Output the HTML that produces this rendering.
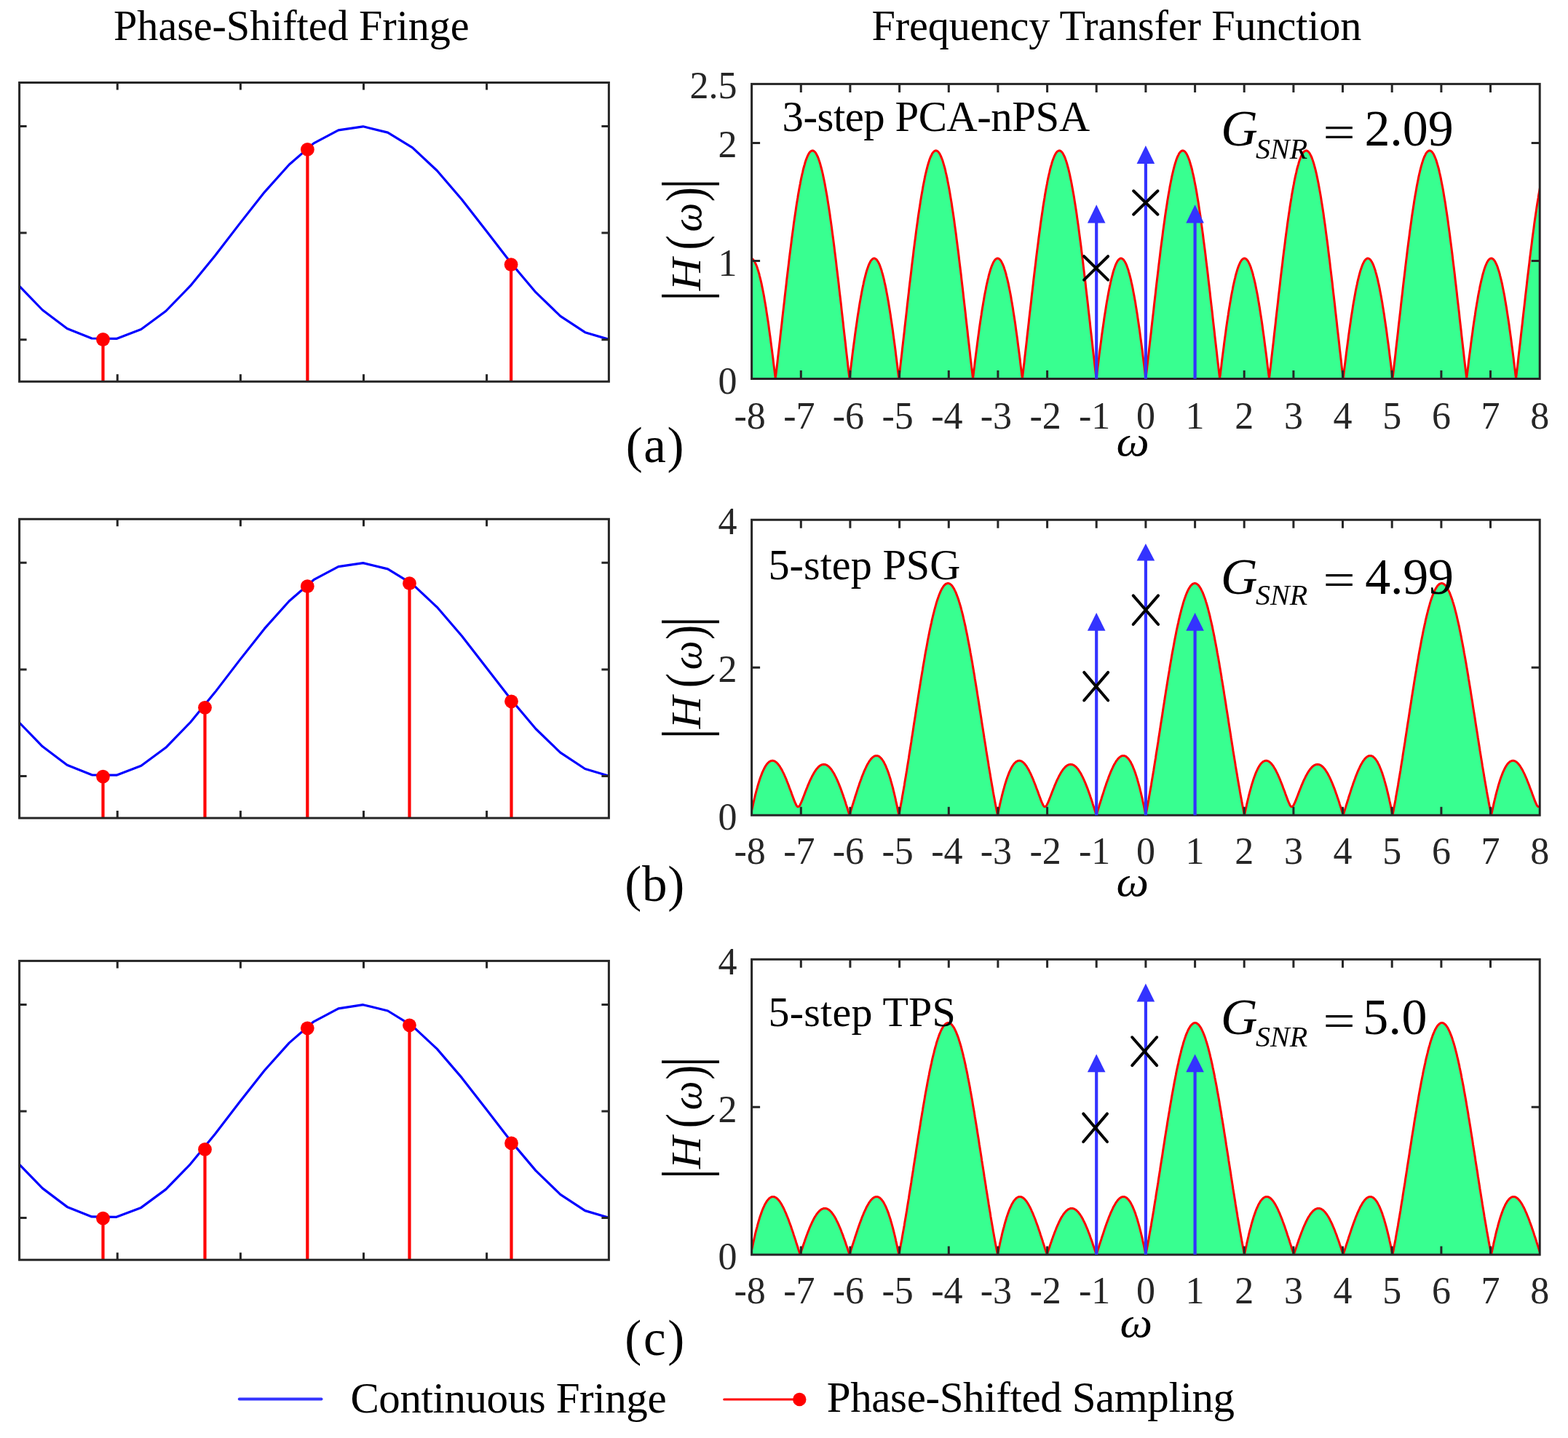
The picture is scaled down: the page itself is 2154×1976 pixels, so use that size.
<!DOCTYPE html>
<html><head><meta charset="utf-8"><title>Phase-Shifted Fringe and Frequency Transfer Function</title>
<style>
html,body{margin:0;padding:0;background:#fff;}
body{width:2154px;height:1976px;overflow:hidden;}
svg{display:block;}
.t{font-family:'Liberation Serif','Times New Roman',serif;fill:#000;}
.tl{font-family:'Liberation Serif','Times New Roman',serif;fill:#262626;font-size:52px;}
</style></head><body>
<svg width="2154" height="1976" viewBox="0 0 2154 1976">
<rect width="2154" height="1976" fill="#fff"/>
<text id="t1" x="156" y="55" font-size="58.3" class="t" textLength="488.709" lengthAdjust="spacing">Phase-Shifted Fringe</text>
<text id="t2" x="1197.4" y="54.9" font-size="58.3" class="t" textLength="673.028" lengthAdjust="spacing">Frequency Transfer Function</text>
<polyline points="26.6,393.2 58.4,426 92.2,451.5 126.1,465 160,465.4 193.9,452.5 227.8,427.5 261.6,392.7 295.5,351.3 329.4,307.1 363.3,264.1 397.2,226.2 431,196.9 464.9,178.9 498.8,173.8 532.7,182.1 566.6,202.9 600.4,234.5 634.3,274 668.2,317.6 702.1,361.5 736,401.7 769.8,434.4 803.7,456.7 836.4,466.4" fill="none" stroke="#0000ff" stroke-width="3.2" stroke-linejoin="round"/>
<line x1="141.5" y1="466.5" x2="141.5" y2="524.3" stroke="#ff0000" stroke-width="4.2"/>
<circle cx="141.5" cy="466.5" r="9.4" fill="#ff0000"/>
<line x1="422.4" y1="205.4" x2="422.4" y2="524.3" stroke="#ff0000" stroke-width="4.2"/>
<circle cx="422.4" cy="205.4" r="9.4" fill="#ff0000"/>
<line x1="702.1" y1="363.6" x2="702.1" y2="524.3" stroke="#ff0000" stroke-width="4.2"/>
<circle cx="702.1" cy="363.6" r="9.4" fill="#ff0000"/>
<rect x="26.6" y="113.5" width="809.8" height="410.8" fill="none" stroke="#262626" stroke-width="3"/>
<path d="M161.3,113.5v10M161.3,524.3v-10M330.4,113.5v10M330.4,524.3v-10M499.5,113.5v10M499.5,524.3v-10M668.6,113.5v10M668.6,524.3v-10M26.6,173.5h10M836.4,173.5h-10M26.6,320.1h10M836.4,320.1h-10M26.6,466.7h10M836.4,466.7h-10" stroke="#262626" stroke-width="3" fill="none"/>
<polyline points="26.6,993 58.4,1025.8 92.2,1051.3 126.1,1064.8 160,1065.2 193.9,1052.3 227.8,1027.3 261.6,992.5 295.5,951.1 329.4,906.9 363.3,863.9 397.2,826 431,796.7 464.9,778.7 498.8,773.6 532.7,781.9 566.6,802.7 600.4,834.3 634.3,873.8 668.2,917.4 702.1,961.3 736,1001.5 769.8,1034.2 803.7,1056.5 836.4,1066.2" fill="none" stroke="#0000ff" stroke-width="3.2" stroke-linejoin="round"/>
<line x1="141.5" y1="1067.1" x2="141.5" y2="1124.1" stroke="#ff0000" stroke-width="4.2"/>
<circle cx="141.5" cy="1067.1" r="9.4" fill="#ff0000"/>
<line x1="281.5" y1="972.3" x2="281.5" y2="1124.1" stroke="#ff0000" stroke-width="4.2"/>
<circle cx="281.5" cy="972.3" r="9.4" fill="#ff0000"/>
<line x1="422.3" y1="805.7" x2="422.3" y2="1124.1" stroke="#ff0000" stroke-width="4.2"/>
<circle cx="422.3" cy="805.7" r="9.4" fill="#ff0000"/>
<line x1="562.5" y1="801.7" x2="562.5" y2="1124.1" stroke="#ff0000" stroke-width="4.2"/>
<circle cx="562.5" cy="801.7" r="9.4" fill="#ff0000"/>
<line x1="702.5" y1="963.8" x2="702.5" y2="1124.1" stroke="#ff0000" stroke-width="4.2"/>
<circle cx="702.5" cy="963.8" r="9.4" fill="#ff0000"/>
<rect x="26.6" y="713.3" width="809.8" height="410.8" fill="none" stroke="#262626" stroke-width="3"/>
<path d="M161.3,713.3v10M161.3,1124.1v-10M330.4,713.3v10M330.4,1124.1v-10M499.5,713.3v10M499.5,1124.1v-10M668.6,713.3v10M668.6,1124.1v-10M26.6,773.3h10M836.4,773.3h-10M26.6,919.9h10M836.4,919.9h-10M26.6,1066.5h10M836.4,1066.5h-10" stroke="#262626" stroke-width="3" fill="none"/>
<polyline points="26.6,1600.1 58.4,1632.9 92.2,1658.4 126.1,1671.9 160,1672.3 193.9,1659.4 227.8,1634.4 261.6,1599.6 295.5,1558.2 329.4,1514 363.3,1471 397.2,1433.1 431,1403.8 464.9,1385.8 498.8,1380.7 532.7,1389 566.6,1409.8 600.4,1441.4 634.3,1480.9 668.2,1524.5 702.1,1568.4 736,1608.6 769.8,1641.3 803.7,1663.6 836.4,1673.3" fill="none" stroke="#0000ff" stroke-width="3.2" stroke-linejoin="round"/>
<line x1="141.5" y1="1674.2" x2="141.5" y2="1731.2" stroke="#ff0000" stroke-width="4.2"/>
<circle cx="141.5" cy="1674.2" r="9.4" fill="#ff0000"/>
<line x1="281.5" y1="1579.4" x2="281.5" y2="1731.2" stroke="#ff0000" stroke-width="4.2"/>
<circle cx="281.5" cy="1579.4" r="9.4" fill="#ff0000"/>
<line x1="422.3" y1="1412.8" x2="422.3" y2="1731.2" stroke="#ff0000" stroke-width="4.2"/>
<circle cx="422.3" cy="1412.8" r="9.4" fill="#ff0000"/>
<line x1="562.5" y1="1408.8" x2="562.5" y2="1731.2" stroke="#ff0000" stroke-width="4.2"/>
<circle cx="562.5" cy="1408.8" r="9.4" fill="#ff0000"/>
<line x1="702.5" y1="1570.9" x2="702.5" y2="1731.2" stroke="#ff0000" stroke-width="4.2"/>
<circle cx="702.5" cy="1570.9" r="9.4" fill="#ff0000"/>
<rect x="26.6" y="1320.4" width="809.8" height="410.8" fill="none" stroke="#262626" stroke-width="3"/>
<path d="M161.3,1320.4v10M161.3,1731.2v-10M330.4,1320.4v10M330.4,1731.2v-10M499.5,1320.4v10M499.5,1731.2v-10M668.6,1320.4v10M668.6,1731.2v-10M26.6,1380.4h10M836.4,1380.4h-10M26.6,1527h10M836.4,1527h-10M26.6,1673.6h10M836.4,1673.6h-10" stroke="#262626" stroke-width="3" fill="none"/>
<defs><clipPath id="clp0"><rect x="1032.6" y="115.4" width="1082.6" height="405.1"/></clipPath></defs>
<g clip-path="url(#clp0)">
<polygon points="1031.3,520.5 1031.3,355 1032,355.1 1032.7,355.3 1033.4,355.7 1034.1,356.2 1034.7,356.9 1035.4,357.7 1036.1,358.7 1036.8,359.8 1037.4,361.1 1038.1,362.5 1038.8,364.1 1039.5,365.8 1040.2,367.7 1040.8,369.7 1041.5,371.8 1042.2,374.1 1042.9,376.5 1043.5,379.1 1044.2,381.8 1044.9,384.6 1045.6,387.6 1046.3,390.7 1046.9,393.9 1047.6,397.3 1048.3,400.7 1049,404.3 1049.7,408.1 1050.3,411.9 1051,415.8 1051.7,419.9 1052.4,424.1 1053,428.4 1053.7,432.8 1054.4,437.2 1055.1,441.8 1055.8,446.5 1056.4,451.3 1057.1,456.2 1057.8,461.1 1058.5,466.2 1059.1,471.3 1059.8,476.5 1060.5,481.8 1061.2,487.1 1061.9,492.5 1062.5,498 1063.2,503.6 1063.9,509.1 1064.6,514.8 1065.2,520.5 1065.9,514.8 1066.6,509 1067.3,503.1 1068,497.3 1068.6,491.4 1069.3,485.4 1070,479.5 1070.7,473.5 1071.4,467.5 1072,461.5 1072.7,455.5 1073.4,449.5 1074.1,443.5 1074.7,437.5 1075.4,431.4 1076.1,425.4 1076.8,419.4 1077.5,413.5 1078.1,407.5 1078.8,401.6 1079.5,395.7 1080.2,389.8 1080.8,384 1081.5,378.2 1082.2,372.5 1082.9,366.8 1083.6,361.1 1084.2,355.5 1084.9,350 1085.6,344.5 1086.3,339.1 1087,333.7 1087.6,328.5 1088.3,323.3 1089,318.1 1089.7,313.1 1090.3,308.1 1091,303.3 1091.7,298.5 1092.4,293.8 1093.1,289.2 1093.7,284.7 1094.4,280.3 1095.1,276 1095.8,271.9 1096.4,267.8 1097.1,263.9 1097.8,260 1098.5,256.3 1099.2,252.7 1099.8,249.2 1100.5,245.9 1101.2,242.6 1101.9,239.5 1102.6,236.6 1103.2,233.7 1103.9,231 1104.6,228.5 1105.3,226.1 1105.9,223.8 1106.6,221.6 1107.3,219.6 1108,217.8 1108.7,216 1109.3,214.5 1110,213.1 1110.7,211.8 1111.4,210.6 1112,209.7 1112.7,208.8 1113.4,208.2 1114.1,207.6 1114.8,207.3 1115.4,207 1116.1,207 1116.8,207 1117.5,207.3 1118.1,207.6 1118.8,208.2 1119.5,208.8 1120.2,209.7 1120.9,210.6 1121.5,211.8 1122.2,213.1 1122.9,214.5 1123.6,216 1124.3,217.8 1124.9,219.6 1125.6,221.6 1126.3,223.8 1127,226.1 1127.6,228.5 1128.3,231 1129,233.7 1129.7,236.6 1130.4,239.5 1131,242.6 1131.7,245.9 1132.4,249.2 1133.1,252.7 1133.7,256.3 1134.4,260 1135.1,263.9 1135.8,267.8 1136.5,271.9 1137.1,276 1137.8,280.3 1138.5,284.7 1139.2,289.2 1139.9,293.8 1140.5,298.5 1141.2,303.3 1141.9,308.1 1142.6,313.1 1143.2,318.1 1143.9,323.3 1144.6,328.5 1145.3,333.7 1146,339.1 1146.6,344.5 1147.3,350 1148,355.5 1148.7,361.1 1149.3,366.8 1150,372.5 1150.7,378.2 1151.4,384 1152.1,389.8 1152.7,395.7 1153.4,401.6 1154.1,407.5 1154.8,413.5 1155.5,419.4 1156.1,425.4 1156.8,431.4 1157.5,437.5 1158.2,443.5 1158.8,449.5 1159.5,455.5 1160.2,461.5 1160.9,467.5 1161.6,473.5 1162.2,479.5 1162.9,485.4 1163.6,491.4 1164.3,497.3 1164.9,503.1 1165.6,509 1166.3,514.8 1167,520.5 1167.7,514.8 1168.3,509.1 1169,503.6 1169.7,498 1170.4,492.5 1171,487.1 1171.7,481.8 1172.4,476.5 1173.1,471.3 1173.8,466.2 1174.4,461.1 1175.1,456.2 1175.8,451.3 1176.5,446.5 1177.2,441.8 1177.8,437.2 1178.5,432.8 1179.2,428.4 1179.9,424.1 1180.5,419.9 1181.2,415.8 1181.9,411.9 1182.6,408.1 1183.3,404.3 1183.9,400.7 1184.6,397.3 1185.3,393.9 1186,390.7 1186.6,387.6 1187.3,384.6 1188,381.8 1188.7,379.1 1189.4,376.5 1190,374.1 1190.7,371.8 1191.4,369.7 1192.1,367.7 1192.8,365.8 1193.4,364.1 1194.1,362.5 1194.8,361.1 1195.5,359.8 1196.1,358.7 1196.8,357.7 1197.5,356.9 1198.2,356.2 1198.9,355.7 1199.5,355.3 1200.2,355.1 1200.9,355 1201.6,355.1 1202.2,355.3 1202.9,355.7 1203.6,356.2 1204.3,356.9 1205,357.7 1205.6,358.7 1206.3,359.8 1207,361.1 1207.7,362.5 1208.4,364.1 1209,365.8 1209.7,367.7 1210.4,369.7 1211.1,371.8 1211.7,374.1 1212.4,376.5 1213.1,379.1 1213.8,381.8 1214.5,384.6 1215.1,387.6 1215.8,390.7 1216.5,393.9 1217.2,397.3 1217.8,400.7 1218.5,404.3 1219.2,408.1 1219.9,411.9 1220.6,415.8 1221.2,419.9 1221.9,424.1 1222.6,428.4 1223.3,432.8 1223.9,437.2 1224.6,441.8 1225.3,446.5 1226,451.3 1226.7,456.2 1227.3,461.1 1228,466.2 1228.7,471.3 1229.4,476.5 1230.1,481.8 1230.7,487.1 1231.4,492.5 1232.1,498 1232.8,503.6 1233.4,509.1 1234.1,514.8 1234.8,520.5 1235.5,514.8 1236.2,509 1236.8,503.1 1237.5,497.3 1238.2,491.4 1238.9,485.4 1239.5,479.5 1240.2,473.5 1240.9,467.5 1241.6,461.5 1242.3,455.5 1242.9,449.5 1243.6,443.5 1244.3,437.5 1245,431.4 1245.7,425.4 1246.3,419.4 1247,413.5 1247.7,407.5 1248.4,401.6 1249,395.7 1249.7,389.8 1250.4,384 1251.1,378.2 1251.8,372.5 1252.4,366.8 1253.1,361.1 1253.8,355.5 1254.5,350 1255.1,344.5 1255.8,339.1 1256.5,333.7 1257.2,328.5 1257.9,323.3 1258.5,318.1 1259.2,313.1 1259.9,308.1 1260.6,303.3 1261.2,298.5 1261.9,293.8 1262.6,289.2 1263.3,284.7 1264,280.3 1264.6,276 1265.3,271.9 1266,267.8 1266.7,263.9 1267.4,260 1268,256.3 1268.7,252.7 1269.4,249.2 1270.1,245.9 1270.7,242.6 1271.4,239.5 1272.1,236.6 1272.8,233.7 1273.5,231 1274.1,228.5 1274.8,226.1 1275.5,223.8 1276.2,221.6 1276.8,219.6 1277.5,217.8 1278.2,216 1278.9,214.5 1279.6,213.1 1280.2,211.8 1280.9,210.6 1281.6,209.7 1282.3,208.8 1283,208.2 1283.6,207.6 1284.3,207.3 1285,207 1285.7,207 1286.3,207 1287,207.3 1287.7,207.6 1288.4,208.2 1289.1,208.8 1289.7,209.7 1290.4,210.6 1291.1,211.8 1291.8,213.1 1292.4,214.5 1293.1,216 1293.8,217.8 1294.5,219.6 1295.2,221.6 1295.8,223.8 1296.5,226.1 1297.2,228.5 1297.9,231 1298.6,233.7 1299.2,236.6 1299.9,239.5 1300.6,242.6 1301.3,245.9 1301.9,249.2 1302.6,252.7 1303.3,256.3 1304,260 1304.7,263.9 1305.3,267.8 1306,271.9 1306.7,276 1307.4,280.3 1308,284.7 1308.7,289.2 1309.4,293.8 1310.1,298.5 1310.8,303.3 1311.4,308.1 1312.1,313.1 1312.8,318.1 1313.5,323.3 1314.1,328.5 1314.8,333.7 1315.5,339.1 1316.2,344.5 1316.9,350 1317.5,355.5 1318.2,361.1 1318.9,366.8 1319.6,372.5 1320.3,378.2 1320.9,384 1321.6,389.8 1322.3,395.7 1323,401.6 1323.6,407.5 1324.3,413.5 1325,419.4 1325.7,425.4 1326.4,431.4 1327,437.5 1327.7,443.5 1328.4,449.5 1329.1,455.5 1329.7,461.5 1330.4,467.5 1331.1,473.5 1331.8,479.5 1332.5,485.4 1333.1,491.4 1333.8,497.3 1334.5,503.1 1335.2,509 1335.9,514.8 1336.5,520.5 1337.2,514.8 1337.9,509.1 1338.6,503.6 1339.2,498 1339.9,492.5 1340.6,487.1 1341.3,481.8 1342,476.5 1342.6,471.3 1343.3,466.2 1344,461.1 1344.7,456.2 1345.3,451.3 1346,446.5 1346.7,441.8 1347.4,437.2 1348.1,432.8 1348.7,428.4 1349.4,424.1 1350.1,419.9 1350.8,415.8 1351.5,411.9 1352.1,408.1 1352.8,404.3 1353.5,400.7 1354.2,397.3 1354.8,393.9 1355.5,390.7 1356.2,387.6 1356.9,384.6 1357.6,381.8 1358.2,379.1 1358.9,376.5 1359.6,374.1 1360.3,371.8 1360.9,369.7 1361.6,367.7 1362.3,365.8 1363,364.1 1363.7,362.5 1364.3,361.1 1365,359.8 1365.7,358.7 1366.4,357.7 1367,356.9 1367.7,356.2 1368.4,355.7 1369.1,355.3 1369.8,355.1 1370.4,355 1371.1,355.1 1371.8,355.3 1372.5,355.7 1373.2,356.2 1373.8,356.9 1374.5,357.7 1375.2,358.7 1375.9,359.8 1376.5,361.1 1377.2,362.5 1377.9,364.1 1378.6,365.8 1379.3,367.7 1379.9,369.7 1380.6,371.8 1381.3,374.1 1382,376.5 1382.6,379.1 1383.3,381.8 1384,384.6 1384.7,387.6 1385.4,390.7 1386,393.9 1386.7,397.3 1387.4,400.7 1388.1,404.3 1388.8,408.1 1389.4,411.9 1390.1,415.8 1390.8,419.9 1391.5,424.1 1392.1,428.4 1392.8,432.8 1393.5,437.2 1394.2,441.8 1394.9,446.5 1395.5,451.3 1396.2,456.2 1396.9,461.1 1397.6,466.2 1398.2,471.3 1398.9,476.5 1399.6,481.8 1400.3,487.1 1401,492.5 1401.6,498 1402.3,503.6 1403,509.1 1403.7,514.8 1404.4,520.5 1405,514.8 1405.7,509 1406.4,503.1 1407.1,497.3 1407.7,491.4 1408.4,485.4 1409.1,479.5 1409.8,473.5 1410.5,467.5 1411.1,461.5 1411.8,455.5 1412.5,449.5 1413.2,443.5 1413.8,437.5 1414.5,431.4 1415.2,425.4 1415.9,419.4 1416.6,413.5 1417.2,407.5 1417.9,401.6 1418.6,395.7 1419.3,389.8 1419.9,384 1420.6,378.2 1421.3,372.5 1422,366.8 1422.7,361.1 1423.3,355.5 1424,350 1424.7,344.5 1425.4,339.1 1426.1,333.7 1426.7,328.5 1427.4,323.3 1428.1,318.1 1428.8,313.1 1429.4,308.1 1430.1,303.3 1430.8,298.5 1431.5,293.8 1432.2,289.2 1432.8,284.7 1433.5,280.3 1434.2,276 1434.9,271.9 1435.5,267.8 1436.2,263.9 1436.9,260 1437.6,256.3 1438.3,252.7 1438.9,249.2 1439.6,245.9 1440.3,242.6 1441,239.5 1441.7,236.6 1442.3,233.7 1443,231 1443.7,228.5 1444.4,226.1 1445,223.8 1445.7,221.6 1446.4,219.6 1447.1,217.8 1447.8,216 1448.4,214.5 1449.1,213.1 1449.8,211.8 1450.5,210.6 1451.1,209.7 1451.8,208.8 1452.5,208.2 1453.2,207.6 1453.9,207.3 1454.5,207 1455.2,207 1455.9,207 1456.6,207.3 1457.2,207.6 1457.9,208.2 1458.6,208.8 1459.3,209.7 1460,210.6 1460.6,211.8 1461.3,213.1 1462,214.5 1462.7,216 1463.4,217.8 1464,219.6 1464.7,221.6 1465.4,223.8 1466.1,226.1 1466.7,228.5 1467.4,231 1468.1,233.7 1468.8,236.6 1469.5,239.5 1470.1,242.6 1470.8,245.9 1471.5,249.2 1472.2,252.7 1472.8,256.3 1473.5,260 1474.2,263.9 1474.9,267.8 1475.6,271.9 1476.2,276 1476.9,280.3 1477.6,284.7 1478.3,289.2 1479,293.8 1479.6,298.5 1480.3,303.3 1481,308.1 1481.7,313.1 1482.3,318.1 1483,323.3 1483.7,328.5 1484.4,333.7 1485.1,339.1 1485.7,344.5 1486.4,350 1487.1,355.5 1487.8,361.1 1488.4,366.8 1489.1,372.5 1489.8,378.2 1490.5,384 1491.2,389.8 1491.8,395.7 1492.5,401.6 1493.2,407.5 1493.9,413.5 1494.6,419.4 1495.2,425.4 1495.9,431.4 1496.6,437.5 1497.3,443.5 1497.9,449.5 1498.6,455.5 1499.3,461.5 1500,467.5 1500.7,473.5 1501.3,479.5 1502,485.4 1502.7,491.4 1503.4,497.3 1504,503.1 1504.7,509 1505.4,514.8 1506.1,520.5 1506.8,514.8 1507.4,509.1 1508.1,503.6 1508.8,498 1509.5,492.5 1510.1,487.1 1510.8,481.8 1511.5,476.5 1512.2,471.3 1512.9,466.2 1513.5,461.1 1514.2,456.2 1514.9,451.3 1515.6,446.5 1516.3,441.8 1516.9,437.2 1517.6,432.8 1518.3,428.4 1519,424.1 1519.6,419.9 1520.3,415.8 1521,411.9 1521.7,408.1 1522.4,404.3 1523,400.7 1523.7,397.3 1524.4,393.9 1525.1,390.7 1525.7,387.6 1526.4,384.6 1527.1,381.8 1527.8,379.1 1528.5,376.5 1529.1,374.1 1529.8,371.8 1530.5,369.7 1531.2,367.7 1531.9,365.8 1532.5,364.1 1533.2,362.5 1533.9,361.1 1534.6,359.8 1535.2,358.7 1535.9,357.7 1536.6,356.9 1537.3,356.2 1538,355.7 1538.6,355.3 1539.3,355.1 1540,355 1540.7,355.1 1541.3,355.3 1542,355.7 1542.7,356.2 1543.4,356.9 1544.1,357.7 1544.7,358.7 1545.4,359.8 1546.1,361.1 1546.8,362.5 1547.5,364.1 1548.1,365.8 1548.8,367.7 1549.5,369.7 1550.2,371.8 1550.8,374.1 1551.5,376.5 1552.2,379.1 1552.9,381.8 1553.6,384.6 1554.2,387.6 1554.9,390.7 1555.6,393.9 1556.3,397.3 1556.9,400.7 1557.6,404.3 1558.3,408.1 1559,411.9 1559.7,415.8 1560.3,419.9 1561,424.1 1561.7,428.4 1562.4,432.8 1563,437.2 1563.7,441.8 1564.4,446.5 1565.1,451.3 1565.8,456.2 1566.4,461.1 1567.1,466.2 1567.8,471.3 1568.5,476.5 1569.2,481.8 1569.8,487.1 1570.5,492.5 1571.2,498 1571.9,503.6 1572.5,509.1 1573.2,514.8 1573.9,520.5 1574.6,514.8 1575.3,509 1575.9,503.1 1576.6,497.3 1577.3,491.4 1578,485.4 1578.6,479.5 1579.3,473.5 1580,467.5 1580.7,461.5 1581.4,455.5 1582,449.5 1582.7,443.5 1583.4,437.5 1584.1,431.4 1584.8,425.4 1585.4,419.4 1586.1,413.5 1586.8,407.5 1587.5,401.6 1588.1,395.7 1588.8,389.8 1589.5,384 1590.2,378.2 1590.9,372.5 1591.5,366.8 1592.2,361.1 1592.9,355.5 1593.6,350 1594.2,344.5 1594.9,339.1 1595.6,333.7 1596.3,328.5 1597,323.3 1597.6,318.1 1598.3,313.1 1599,308.1 1599.7,303.3 1600.3,298.5 1601,293.8 1601.7,289.2 1602.4,284.7 1603.1,280.3 1603.7,276 1604.4,271.9 1605.1,267.8 1605.8,263.9 1606.5,260 1607.1,256.3 1607.8,252.7 1608.5,249.2 1609.2,245.9 1609.8,242.6 1610.5,239.5 1611.2,236.6 1611.9,233.7 1612.6,231 1613.2,228.5 1613.9,226.1 1614.6,223.8 1615.3,221.6 1615.9,219.6 1616.6,217.8 1617.3,216 1618,214.5 1618.7,213.1 1619.3,211.8 1620,210.6 1620.7,209.7 1621.4,208.8 1622.1,208.2 1622.7,207.6 1623.4,207.3 1624.1,207 1624.8,207 1625.4,207 1626.1,207.3 1626.8,207.6 1627.5,208.2 1628.2,208.8 1628.8,209.7 1629.5,210.6 1630.2,211.8 1630.9,213.1 1631.5,214.5 1632.2,216 1632.9,217.8 1633.6,219.6 1634.3,221.6 1634.9,223.8 1635.6,226.1 1636.3,228.5 1637,231 1637.7,233.7 1638.3,236.6 1639,239.5 1639.7,242.6 1640.4,245.9 1641,249.2 1641.7,252.7 1642.4,256.3 1643.1,260 1643.8,263.9 1644.4,267.8 1645.1,271.9 1645.8,276 1646.5,280.3 1647.1,284.7 1647.8,289.2 1648.5,293.8 1649.2,298.5 1649.9,303.3 1650.5,308.1 1651.2,313.1 1651.9,318.1 1652.6,323.3 1653.2,328.5 1653.9,333.7 1654.6,339.1 1655.3,344.5 1656,350 1656.6,355.5 1657.3,361.1 1658,366.8 1658.7,372.5 1659.4,378.2 1660,384 1660.7,389.8 1661.4,395.7 1662.1,401.6 1662.7,407.5 1663.4,413.5 1664.1,419.4 1664.8,425.4 1665.5,431.4 1666.1,437.5 1666.8,443.5 1667.5,449.5 1668.2,455.5 1668.8,461.5 1669.5,467.5 1670.2,473.5 1670.9,479.5 1671.6,485.4 1672.2,491.4 1672.9,497.3 1673.6,503.1 1674.3,509 1675,514.8 1675.6,520.5 1676.3,514.8 1677,509.1 1677.7,503.6 1678.3,498 1679,492.5 1679.7,487.1 1680.4,481.8 1681.1,476.5 1681.7,471.3 1682.4,466.2 1683.1,461.1 1683.8,456.2 1684.4,451.3 1685.1,446.5 1685.8,441.8 1686.5,437.2 1687.2,432.8 1687.8,428.4 1688.5,424.1 1689.2,419.9 1689.9,415.8 1690.6,411.9 1691.2,408.1 1691.9,404.3 1692.6,400.7 1693.3,397.3 1693.9,393.9 1694.6,390.7 1695.3,387.6 1696,384.6 1696.7,381.8 1697.3,379.1 1698,376.5 1698.7,374.1 1699.4,371.8 1700,369.7 1700.7,367.7 1701.4,365.8 1702.1,364.1 1702.8,362.5 1703.4,361.1 1704.1,359.8 1704.8,358.7 1705.5,357.7 1706.1,356.9 1706.8,356.2 1707.5,355.7 1708.2,355.3 1708.9,355.1 1709.5,355 1710.2,355.1 1710.9,355.3 1711.6,355.7 1712.3,356.2 1712.9,356.9 1713.6,357.7 1714.3,358.7 1715,359.8 1715.6,361.1 1716.3,362.5 1717,364.1 1717.7,365.8 1718.4,367.7 1719,369.7 1719.7,371.8 1720.4,374.1 1721.1,376.5 1721.7,379.1 1722.4,381.8 1723.1,384.6 1723.8,387.6 1724.5,390.7 1725.1,393.9 1725.8,397.3 1726.5,400.7 1727.2,404.3 1727.9,408.1 1728.5,411.9 1729.2,415.8 1729.9,419.9 1730.6,424.1 1731.2,428.4 1731.9,432.8 1732.6,437.2 1733.3,441.8 1734,446.5 1734.6,451.3 1735.3,456.2 1736,461.1 1736.7,466.2 1737.3,471.3 1738,476.5 1738.7,481.8 1739.4,487.1 1740.1,492.5 1740.7,498 1741.4,503.6 1742.1,509.1 1742.8,514.8 1743.5,520.5 1744.1,514.8 1744.8,509 1745.5,503.1 1746.2,497.3 1746.8,491.4 1747.5,485.4 1748.2,479.5 1748.9,473.5 1749.6,467.5 1750.2,461.5 1750.9,455.5 1751.6,449.5 1752.3,443.5 1752.9,437.5 1753.6,431.4 1754.3,425.4 1755,419.4 1755.7,413.5 1756.3,407.5 1757,401.6 1757.7,395.7 1758.4,389.8 1759,384 1759.7,378.2 1760.4,372.5 1761.1,366.8 1761.8,361.1 1762.4,355.5 1763.1,350 1763.8,344.5 1764.5,339.1 1765.2,333.7 1765.8,328.5 1766.5,323.3 1767.2,318.1 1767.9,313.1 1768.5,308.1 1769.2,303.3 1769.9,298.5 1770.6,293.8 1771.3,289.2 1771.9,284.7 1772.6,280.3 1773.3,276 1774,271.9 1774.6,267.8 1775.3,263.9 1776,260 1776.7,256.3 1777.4,252.7 1778,249.2 1778.7,245.9 1779.4,242.6 1780.1,239.5 1780.8,236.6 1781.4,233.7 1782.1,231 1782.8,228.5 1783.5,226.1 1784.1,223.8 1784.8,221.6 1785.5,219.6 1786.2,217.8 1786.9,216 1787.5,214.5 1788.2,213.1 1788.9,211.8 1789.6,210.6 1790.2,209.7 1790.9,208.8 1791.6,208.2 1792.3,207.6 1793,207.3 1793.6,207 1794.3,207 1795,207 1795.7,207.3 1796.3,207.6 1797,208.2 1797.7,208.8 1798.4,209.7 1799.1,210.6 1799.7,211.8 1800.4,213.1 1801.1,214.5 1801.8,216 1802.5,217.8 1803.1,219.6 1803.8,221.6 1804.5,223.8 1805.2,226.1 1805.8,228.5 1806.5,231 1807.2,233.7 1807.9,236.6 1808.6,239.5 1809.2,242.6 1809.9,245.9 1810.6,249.2 1811.3,252.7 1811.9,256.3 1812.6,260 1813.3,263.9 1814,267.8 1814.7,271.9 1815.3,276 1816,280.3 1816.7,284.7 1817.4,289.2 1818.1,293.8 1818.7,298.5 1819.4,303.3 1820.1,308.1 1820.8,313.1 1821.4,318.1 1822.1,323.3 1822.8,328.5 1823.5,333.7 1824.2,339.1 1824.8,344.5 1825.5,350 1826.2,355.5 1826.9,361.1 1827.5,366.8 1828.2,372.5 1828.9,378.2 1829.6,384 1830.3,389.8 1830.9,395.7 1831.6,401.6 1832.3,407.5 1833,413.5 1833.7,419.4 1834.3,425.4 1835,431.4 1835.7,437.5 1836.4,443.5 1837,449.5 1837.7,455.5 1838.4,461.5 1839.1,467.5 1839.8,473.5 1840.4,479.5 1841.1,485.4 1841.8,491.4 1842.5,497.3 1843.1,503.1 1843.8,509 1844.5,514.8 1845.2,520.5 1845.9,514.8 1846.5,509.1 1847.2,503.6 1847.9,498 1848.6,492.5 1849.2,487.1 1849.9,481.8 1850.6,476.5 1851.3,471.3 1852,466.2 1852.6,461.1 1853.3,456.2 1854,451.3 1854.7,446.5 1855.4,441.8 1856,437.2 1856.7,432.8 1857.4,428.4 1858.1,424.1 1858.7,419.9 1859.4,415.8 1860.1,411.9 1860.8,408.1 1861.5,404.3 1862.1,400.7 1862.8,397.3 1863.5,393.9 1864.2,390.7 1864.8,387.6 1865.5,384.6 1866.2,381.8 1866.9,379.1 1867.6,376.5 1868.2,374.1 1868.9,371.8 1869.6,369.7 1870.3,367.7 1871,365.8 1871.6,364.1 1872.3,362.5 1873,361.1 1873.7,359.8 1874.3,358.7 1875,357.7 1875.7,356.9 1876.4,356.2 1877.1,355.7 1877.7,355.3 1878.4,355.1 1879.1,355 1879.8,355.1 1880.4,355.3 1881.1,355.7 1881.8,356.2 1882.5,356.9 1883.2,357.7 1883.8,358.7 1884.5,359.8 1885.2,361.1 1885.9,362.5 1886.6,364.1 1887.2,365.8 1887.9,367.7 1888.6,369.7 1889.3,371.8 1889.9,374.1 1890.6,376.5 1891.3,379.1 1892,381.8 1892.7,384.6 1893.3,387.6 1894,390.7 1894.7,393.9 1895.4,397.3 1896,400.7 1896.7,404.3 1897.4,408.1 1898.1,411.9 1898.8,415.8 1899.4,419.9 1900.1,424.1 1900.8,428.4 1901.5,432.8 1902.1,437.2 1902.8,441.8 1903.5,446.5 1904.2,451.3 1904.9,456.2 1905.5,461.1 1906.2,466.2 1906.9,471.3 1907.6,476.5 1908.3,481.8 1908.9,487.1 1909.6,492.5 1910.3,498 1911,503.6 1911.6,509.1 1912.3,514.8 1913,520.5 1913.7,514.8 1914.4,509 1915,503.1 1915.7,497.3 1916.4,491.4 1917.1,485.4 1917.7,479.5 1918.4,473.5 1919.1,467.5 1919.8,461.5 1920.5,455.5 1921.1,449.5 1921.8,443.5 1922.5,437.5 1923.2,431.4 1923.9,425.4 1924.5,419.4 1925.2,413.5 1925.9,407.5 1926.6,401.6 1927.2,395.7 1927.9,389.8 1928.6,384 1929.3,378.2 1930,372.5 1930.6,366.8 1931.3,361.1 1932,355.5 1932.7,350 1933.3,344.5 1934,339.1 1934.7,333.7 1935.4,328.5 1936.1,323.3 1936.7,318.1 1937.4,313.1 1938.1,308.1 1938.8,303.3 1939.4,298.5 1940.1,293.8 1940.8,289.2 1941.5,284.7 1942.2,280.3 1942.8,276 1943.5,271.9 1944.2,267.8 1944.9,263.9 1945.6,260 1946.2,256.3 1946.9,252.7 1947.6,249.2 1948.3,245.9 1948.9,242.6 1949.6,239.5 1950.3,236.6 1951,233.7 1951.7,231 1952.3,228.5 1953,226.1 1953.7,223.8 1954.4,221.6 1955,219.6 1955.7,217.8 1956.4,216 1957.1,214.5 1957.8,213.1 1958.4,211.8 1959.1,210.6 1959.8,209.7 1960.5,208.8 1961.2,208.2 1961.8,207.6 1962.5,207.3 1963.2,207 1963.9,207 1964.5,207 1965.2,207.3 1965.9,207.6 1966.6,208.2 1967.3,208.8 1967.9,209.7 1968.6,210.6 1969.3,211.8 1970,213.1 1970.6,214.5 1971.3,216 1972,217.8 1972.7,219.6 1973.4,221.6 1974,223.8 1974.7,226.1 1975.4,228.5 1976.1,231 1976.8,233.7 1977.4,236.6 1978.1,239.5 1978.8,242.6 1979.5,245.9 1980.1,249.2 1980.8,252.7 1981.5,256.3 1982.2,260 1982.9,263.9 1983.5,267.8 1984.2,271.9 1984.9,276 1985.6,280.3 1986.2,284.7 1986.9,289.2 1987.6,293.8 1988.3,298.5 1989,303.3 1989.6,308.1 1990.3,313.1 1991,318.1 1991.7,323.3 1992.3,328.5 1993,333.7 1993.7,339.1 1994.4,344.5 1995.1,350 1995.7,355.5 1996.4,361.1 1997.1,366.8 1997.8,372.5 1998.5,378.2 1999.1,384 1999.8,389.8 2000.5,395.7 2001.2,401.6 2001.8,407.5 2002.5,413.5 2003.2,419.4 2003.9,425.4 2004.6,431.4 2005.2,437.5 2005.9,443.5 2006.6,449.5 2007.3,455.5 2007.9,461.5 2008.6,467.5 2009.3,473.5 2010,479.5 2010.7,485.4 2011.3,491.4 2012,497.3 2012.7,503.1 2013.4,509 2014.1,514.8 2014.7,520.5 2015.4,514.8 2016.1,509.1 2016.8,503.6 2017.4,498 2018.1,492.5 2018.8,487.1 2019.5,481.8 2020.2,476.5 2020.8,471.3 2021.5,466.2 2022.2,461.1 2022.9,456.2 2023.5,451.3 2024.2,446.5 2024.9,441.8 2025.6,437.2 2026.3,432.8 2026.9,428.4 2027.6,424.1 2028.3,419.9 2029,415.8 2029.7,411.9 2030.3,408.1 2031,404.3 2031.7,400.7 2032.4,397.3 2033,393.9 2033.7,390.7 2034.4,387.6 2035.1,384.6 2035.8,381.8 2036.4,379.1 2037.1,376.5 2037.8,374.1 2038.5,371.8 2039.1,369.7 2039.8,367.7 2040.5,365.8 2041.2,364.1 2041.9,362.5 2042.5,361.1 2043.2,359.8 2043.9,358.7 2044.6,357.7 2045.2,356.9 2045.9,356.2 2046.6,355.7 2047.3,355.3 2048,355.1 2048.6,355 2049.3,355.1 2050,355.3 2050.7,355.7 2051.4,356.2 2052,356.9 2052.7,357.7 2053.4,358.7 2054.1,359.8 2054.7,361.1 2055.4,362.5 2056.1,364.1 2056.8,365.8 2057.5,367.7 2058.1,369.7 2058.8,371.8 2059.5,374.1 2060.2,376.5 2060.8,379.1 2061.5,381.8 2062.2,384.6 2062.9,387.6 2063.6,390.7 2064.2,393.9 2064.9,397.3 2065.6,400.7 2066.3,404.3 2067,408.1 2067.6,411.9 2068.3,415.8 2069,419.9 2069.7,424.1 2070.3,428.4 2071,432.8 2071.7,437.2 2072.4,441.8 2073.1,446.5 2073.7,451.3 2074.4,456.2 2075.1,461.1 2075.8,466.2 2076.4,471.3 2077.1,476.5 2077.8,481.8 2078.5,487.1 2079.2,492.5 2079.8,498 2080.5,503.6 2081.2,509.1 2081.9,514.8 2082.6,520.5 2083.2,514.8 2083.9,509 2084.6,503.1 2085.3,497.3 2085.9,491.4 2086.6,485.4 2087.3,479.5 2088,473.5 2088.7,467.5 2089.3,461.5 2090,455.5 2090.7,449.5 2091.4,443.5 2092,437.5 2092.7,431.4 2093.4,425.4 2094.1,419.4 2094.8,413.5 2095.4,407.5 2096.1,401.6 2096.8,395.7 2097.5,389.8 2098.1,384 2098.8,378.2 2099.5,372.5 2100.2,366.8 2100.9,361.1 2101.5,355.5 2102.2,350 2102.9,344.5 2103.6,339.1 2104.3,333.7 2104.9,328.5 2105.6,323.3 2106.3,318.1 2107,313.1 2107.6,308.1 2108.3,303.3 2109,298.5 2109.7,293.8 2110.4,289.2 2111,284.7 2111.7,280.3 2112.4,276 2113.1,271.9 2113.7,267.8 2114.4,263.9 2115.1,260 2115.8,256.3 2116.5,252.7 2116.5,520.5" fill="#38ff90"/>
<polyline points="1031.3,355 1032,355.1 1032.7,355.3 1033.4,355.7 1034.1,356.2 1034.7,356.9 1035.4,357.7 1036.1,358.7 1036.8,359.8 1037.4,361.1 1038.1,362.5 1038.8,364.1 1039.5,365.8 1040.2,367.7 1040.8,369.7 1041.5,371.8 1042.2,374.1 1042.9,376.5 1043.5,379.1 1044.2,381.8 1044.9,384.6 1045.6,387.6 1046.3,390.7 1046.9,393.9 1047.6,397.3 1048.3,400.7 1049,404.3 1049.7,408.1 1050.3,411.9 1051,415.8 1051.7,419.9 1052.4,424.1 1053,428.4 1053.7,432.8 1054.4,437.2 1055.1,441.8 1055.8,446.5 1056.4,451.3 1057.1,456.2 1057.8,461.1 1058.5,466.2 1059.1,471.3 1059.8,476.5 1060.5,481.8 1061.2,487.1 1061.9,492.5 1062.5,498 1063.2,503.6 1063.9,509.1 1064.6,514.8 1065.2,520.5 1065.9,514.8 1066.6,509 1067.3,503.1 1068,497.3 1068.6,491.4 1069.3,485.4 1070,479.5 1070.7,473.5 1071.4,467.5 1072,461.5 1072.7,455.5 1073.4,449.5 1074.1,443.5 1074.7,437.5 1075.4,431.4 1076.1,425.4 1076.8,419.4 1077.5,413.5 1078.1,407.5 1078.8,401.6 1079.5,395.7 1080.2,389.8 1080.8,384 1081.5,378.2 1082.2,372.5 1082.9,366.8 1083.6,361.1 1084.2,355.5 1084.9,350 1085.6,344.5 1086.3,339.1 1087,333.7 1087.6,328.5 1088.3,323.3 1089,318.1 1089.7,313.1 1090.3,308.1 1091,303.3 1091.7,298.5 1092.4,293.8 1093.1,289.2 1093.7,284.7 1094.4,280.3 1095.1,276 1095.8,271.9 1096.4,267.8 1097.1,263.9 1097.8,260 1098.5,256.3 1099.2,252.7 1099.8,249.2 1100.5,245.9 1101.2,242.6 1101.9,239.5 1102.6,236.6 1103.2,233.7 1103.9,231 1104.6,228.5 1105.3,226.1 1105.9,223.8 1106.6,221.6 1107.3,219.6 1108,217.8 1108.7,216 1109.3,214.5 1110,213.1 1110.7,211.8 1111.4,210.6 1112,209.7 1112.7,208.8 1113.4,208.2 1114.1,207.6 1114.8,207.3 1115.4,207 1116.1,207 1116.8,207 1117.5,207.3 1118.1,207.6 1118.8,208.2 1119.5,208.8 1120.2,209.7 1120.9,210.6 1121.5,211.8 1122.2,213.1 1122.9,214.5 1123.6,216 1124.3,217.8 1124.9,219.6 1125.6,221.6 1126.3,223.8 1127,226.1 1127.6,228.5 1128.3,231 1129,233.7 1129.7,236.6 1130.4,239.5 1131,242.6 1131.7,245.9 1132.4,249.2 1133.1,252.7 1133.7,256.3 1134.4,260 1135.1,263.9 1135.8,267.8 1136.5,271.9 1137.1,276 1137.8,280.3 1138.5,284.7 1139.2,289.2 1139.9,293.8 1140.5,298.5 1141.2,303.3 1141.9,308.1 1142.6,313.1 1143.2,318.1 1143.9,323.3 1144.6,328.5 1145.3,333.7 1146,339.1 1146.6,344.5 1147.3,350 1148,355.5 1148.7,361.1 1149.3,366.8 1150,372.5 1150.7,378.2 1151.4,384 1152.1,389.8 1152.7,395.7 1153.4,401.6 1154.1,407.5 1154.8,413.5 1155.5,419.4 1156.1,425.4 1156.8,431.4 1157.5,437.5 1158.2,443.5 1158.8,449.5 1159.5,455.5 1160.2,461.5 1160.9,467.5 1161.6,473.5 1162.2,479.5 1162.9,485.4 1163.6,491.4 1164.3,497.3 1164.9,503.1 1165.6,509 1166.3,514.8 1167,520.5 1167.7,514.8 1168.3,509.1 1169,503.6 1169.7,498 1170.4,492.5 1171,487.1 1171.7,481.8 1172.4,476.5 1173.1,471.3 1173.8,466.2 1174.4,461.1 1175.1,456.2 1175.8,451.3 1176.5,446.5 1177.2,441.8 1177.8,437.2 1178.5,432.8 1179.2,428.4 1179.9,424.1 1180.5,419.9 1181.2,415.8 1181.9,411.9 1182.6,408.1 1183.3,404.3 1183.9,400.7 1184.6,397.3 1185.3,393.9 1186,390.7 1186.6,387.6 1187.3,384.6 1188,381.8 1188.7,379.1 1189.4,376.5 1190,374.1 1190.7,371.8 1191.4,369.7 1192.1,367.7 1192.8,365.8 1193.4,364.1 1194.1,362.5 1194.8,361.1 1195.5,359.8 1196.1,358.7 1196.8,357.7 1197.5,356.9 1198.2,356.2 1198.9,355.7 1199.5,355.3 1200.2,355.1 1200.9,355 1201.6,355.1 1202.2,355.3 1202.9,355.7 1203.6,356.2 1204.3,356.9 1205,357.7 1205.6,358.7 1206.3,359.8 1207,361.1 1207.7,362.5 1208.4,364.1 1209,365.8 1209.7,367.7 1210.4,369.7 1211.1,371.8 1211.7,374.1 1212.4,376.5 1213.1,379.1 1213.8,381.8 1214.5,384.6 1215.1,387.6 1215.8,390.7 1216.5,393.9 1217.2,397.3 1217.8,400.7 1218.5,404.3 1219.2,408.1 1219.9,411.9 1220.6,415.8 1221.2,419.9 1221.9,424.1 1222.6,428.4 1223.3,432.8 1223.9,437.2 1224.6,441.8 1225.3,446.5 1226,451.3 1226.7,456.2 1227.3,461.1 1228,466.2 1228.7,471.3 1229.4,476.5 1230.1,481.8 1230.7,487.1 1231.4,492.5 1232.1,498 1232.8,503.6 1233.4,509.1 1234.1,514.8 1234.8,520.5 1235.5,514.8 1236.2,509 1236.8,503.1 1237.5,497.3 1238.2,491.4 1238.9,485.4 1239.5,479.5 1240.2,473.5 1240.9,467.5 1241.6,461.5 1242.3,455.5 1242.9,449.5 1243.6,443.5 1244.3,437.5 1245,431.4 1245.7,425.4 1246.3,419.4 1247,413.5 1247.7,407.5 1248.4,401.6 1249,395.7 1249.7,389.8 1250.4,384 1251.1,378.2 1251.8,372.5 1252.4,366.8 1253.1,361.1 1253.8,355.5 1254.5,350 1255.1,344.5 1255.8,339.1 1256.5,333.7 1257.2,328.5 1257.9,323.3 1258.5,318.1 1259.2,313.1 1259.9,308.1 1260.6,303.3 1261.2,298.5 1261.9,293.8 1262.6,289.2 1263.3,284.7 1264,280.3 1264.6,276 1265.3,271.9 1266,267.8 1266.7,263.9 1267.4,260 1268,256.3 1268.7,252.7 1269.4,249.2 1270.1,245.9 1270.7,242.6 1271.4,239.5 1272.1,236.6 1272.8,233.7 1273.5,231 1274.1,228.5 1274.8,226.1 1275.5,223.8 1276.2,221.6 1276.8,219.6 1277.5,217.8 1278.2,216 1278.9,214.5 1279.6,213.1 1280.2,211.8 1280.9,210.6 1281.6,209.7 1282.3,208.8 1283,208.2 1283.6,207.6 1284.3,207.3 1285,207 1285.7,207 1286.3,207 1287,207.3 1287.7,207.6 1288.4,208.2 1289.1,208.8 1289.7,209.7 1290.4,210.6 1291.1,211.8 1291.8,213.1 1292.4,214.5 1293.1,216 1293.8,217.8 1294.5,219.6 1295.2,221.6 1295.8,223.8 1296.5,226.1 1297.2,228.5 1297.9,231 1298.6,233.7 1299.2,236.6 1299.9,239.5 1300.6,242.6 1301.3,245.9 1301.9,249.2 1302.6,252.7 1303.3,256.3 1304,260 1304.7,263.9 1305.3,267.8 1306,271.9 1306.7,276 1307.4,280.3 1308,284.7 1308.7,289.2 1309.4,293.8 1310.1,298.5 1310.8,303.3 1311.4,308.1 1312.1,313.1 1312.8,318.1 1313.5,323.3 1314.1,328.5 1314.8,333.7 1315.5,339.1 1316.2,344.5 1316.9,350 1317.5,355.5 1318.2,361.1 1318.9,366.8 1319.6,372.5 1320.3,378.2 1320.9,384 1321.6,389.8 1322.3,395.7 1323,401.6 1323.6,407.5 1324.3,413.5 1325,419.4 1325.7,425.4 1326.4,431.4 1327,437.5 1327.7,443.5 1328.4,449.5 1329.1,455.5 1329.7,461.5 1330.4,467.5 1331.1,473.5 1331.8,479.5 1332.5,485.4 1333.1,491.4 1333.8,497.3 1334.5,503.1 1335.2,509 1335.9,514.8 1336.5,520.5 1337.2,514.8 1337.9,509.1 1338.6,503.6 1339.2,498 1339.9,492.5 1340.6,487.1 1341.3,481.8 1342,476.5 1342.6,471.3 1343.3,466.2 1344,461.1 1344.7,456.2 1345.3,451.3 1346,446.5 1346.7,441.8 1347.4,437.2 1348.1,432.8 1348.7,428.4 1349.4,424.1 1350.1,419.9 1350.8,415.8 1351.5,411.9 1352.1,408.1 1352.8,404.3 1353.5,400.7 1354.2,397.3 1354.8,393.9 1355.5,390.7 1356.2,387.6 1356.9,384.6 1357.6,381.8 1358.2,379.1 1358.9,376.5 1359.6,374.1 1360.3,371.8 1360.9,369.7 1361.6,367.7 1362.3,365.8 1363,364.1 1363.7,362.5 1364.3,361.1 1365,359.8 1365.7,358.7 1366.4,357.7 1367,356.9 1367.7,356.2 1368.4,355.7 1369.1,355.3 1369.8,355.1 1370.4,355 1371.1,355.1 1371.8,355.3 1372.5,355.7 1373.2,356.2 1373.8,356.9 1374.5,357.7 1375.2,358.7 1375.9,359.8 1376.5,361.1 1377.2,362.5 1377.9,364.1 1378.6,365.8 1379.3,367.7 1379.9,369.7 1380.6,371.8 1381.3,374.1 1382,376.5 1382.6,379.1 1383.3,381.8 1384,384.6 1384.7,387.6 1385.4,390.7 1386,393.9 1386.7,397.3 1387.4,400.7 1388.1,404.3 1388.8,408.1 1389.4,411.9 1390.1,415.8 1390.8,419.9 1391.5,424.1 1392.1,428.4 1392.8,432.8 1393.5,437.2 1394.2,441.8 1394.9,446.5 1395.5,451.3 1396.2,456.2 1396.9,461.1 1397.6,466.2 1398.2,471.3 1398.9,476.5 1399.6,481.8 1400.3,487.1 1401,492.5 1401.6,498 1402.3,503.6 1403,509.1 1403.7,514.8 1404.4,520.5 1405,514.8 1405.7,509 1406.4,503.1 1407.1,497.3 1407.7,491.4 1408.4,485.4 1409.1,479.5 1409.8,473.5 1410.5,467.5 1411.1,461.5 1411.8,455.5 1412.5,449.5 1413.2,443.5 1413.8,437.5 1414.5,431.4 1415.2,425.4 1415.9,419.4 1416.6,413.5 1417.2,407.5 1417.9,401.6 1418.6,395.7 1419.3,389.8 1419.9,384 1420.6,378.2 1421.3,372.5 1422,366.8 1422.7,361.1 1423.3,355.5 1424,350 1424.7,344.5 1425.4,339.1 1426.1,333.7 1426.7,328.5 1427.4,323.3 1428.1,318.1 1428.8,313.1 1429.4,308.1 1430.1,303.3 1430.8,298.5 1431.5,293.8 1432.2,289.2 1432.8,284.7 1433.5,280.3 1434.2,276 1434.9,271.9 1435.5,267.8 1436.2,263.9 1436.9,260 1437.6,256.3 1438.3,252.7 1438.9,249.2 1439.6,245.9 1440.3,242.6 1441,239.5 1441.7,236.6 1442.3,233.7 1443,231 1443.7,228.5 1444.4,226.1 1445,223.8 1445.7,221.6 1446.4,219.6 1447.1,217.8 1447.8,216 1448.4,214.5 1449.1,213.1 1449.8,211.8 1450.5,210.6 1451.1,209.7 1451.8,208.8 1452.5,208.2 1453.2,207.6 1453.9,207.3 1454.5,207 1455.2,207 1455.9,207 1456.6,207.3 1457.2,207.6 1457.9,208.2 1458.6,208.8 1459.3,209.7 1460,210.6 1460.6,211.8 1461.3,213.1 1462,214.5 1462.7,216 1463.4,217.8 1464,219.6 1464.7,221.6 1465.4,223.8 1466.1,226.1 1466.7,228.5 1467.4,231 1468.1,233.7 1468.8,236.6 1469.5,239.5 1470.1,242.6 1470.8,245.9 1471.5,249.2 1472.2,252.7 1472.8,256.3 1473.5,260 1474.2,263.9 1474.9,267.8 1475.6,271.9 1476.2,276 1476.9,280.3 1477.6,284.7 1478.3,289.2 1479,293.8 1479.6,298.5 1480.3,303.3 1481,308.1 1481.7,313.1 1482.3,318.1 1483,323.3 1483.7,328.5 1484.4,333.7 1485.1,339.1 1485.7,344.5 1486.4,350 1487.1,355.5 1487.8,361.1 1488.4,366.8 1489.1,372.5 1489.8,378.2 1490.5,384 1491.2,389.8 1491.8,395.7 1492.5,401.6 1493.2,407.5 1493.9,413.5 1494.6,419.4 1495.2,425.4 1495.9,431.4 1496.6,437.5 1497.3,443.5 1497.9,449.5 1498.6,455.5 1499.3,461.5 1500,467.5 1500.7,473.5 1501.3,479.5 1502,485.4 1502.7,491.4 1503.4,497.3 1504,503.1 1504.7,509 1505.4,514.8 1506.1,520.5 1506.8,514.8 1507.4,509.1 1508.1,503.6 1508.8,498 1509.5,492.5 1510.1,487.1 1510.8,481.8 1511.5,476.5 1512.2,471.3 1512.9,466.2 1513.5,461.1 1514.2,456.2 1514.9,451.3 1515.6,446.5 1516.3,441.8 1516.9,437.2 1517.6,432.8 1518.3,428.4 1519,424.1 1519.6,419.9 1520.3,415.8 1521,411.9 1521.7,408.1 1522.4,404.3 1523,400.7 1523.7,397.3 1524.4,393.9 1525.1,390.7 1525.7,387.6 1526.4,384.6 1527.1,381.8 1527.8,379.1 1528.5,376.5 1529.1,374.1 1529.8,371.8 1530.5,369.7 1531.2,367.7 1531.9,365.8 1532.5,364.1 1533.2,362.5 1533.9,361.1 1534.6,359.8 1535.2,358.7 1535.9,357.7 1536.6,356.9 1537.3,356.2 1538,355.7 1538.6,355.3 1539.3,355.1 1540,355 1540.7,355.1 1541.3,355.3 1542,355.7 1542.7,356.2 1543.4,356.9 1544.1,357.7 1544.7,358.7 1545.4,359.8 1546.1,361.1 1546.8,362.5 1547.5,364.1 1548.1,365.8 1548.8,367.7 1549.5,369.7 1550.2,371.8 1550.8,374.1 1551.5,376.5 1552.2,379.1 1552.9,381.8 1553.6,384.6 1554.2,387.6 1554.9,390.7 1555.6,393.9 1556.3,397.3 1556.9,400.7 1557.6,404.3 1558.3,408.1 1559,411.9 1559.7,415.8 1560.3,419.9 1561,424.1 1561.7,428.4 1562.4,432.8 1563,437.2 1563.7,441.8 1564.4,446.5 1565.1,451.3 1565.8,456.2 1566.4,461.1 1567.1,466.2 1567.8,471.3 1568.5,476.5 1569.2,481.8 1569.8,487.1 1570.5,492.5 1571.2,498 1571.9,503.6 1572.5,509.1 1573.2,514.8 1573.9,520.5 1574.6,514.8 1575.3,509 1575.9,503.1 1576.6,497.3 1577.3,491.4 1578,485.4 1578.6,479.5 1579.3,473.5 1580,467.5 1580.7,461.5 1581.4,455.5 1582,449.5 1582.7,443.5 1583.4,437.5 1584.1,431.4 1584.8,425.4 1585.4,419.4 1586.1,413.5 1586.8,407.5 1587.5,401.6 1588.1,395.7 1588.8,389.8 1589.5,384 1590.2,378.2 1590.9,372.5 1591.5,366.8 1592.2,361.1 1592.9,355.5 1593.6,350 1594.2,344.5 1594.9,339.1 1595.6,333.7 1596.3,328.5 1597,323.3 1597.6,318.1 1598.3,313.1 1599,308.1 1599.7,303.3 1600.3,298.5 1601,293.8 1601.7,289.2 1602.4,284.7 1603.1,280.3 1603.7,276 1604.4,271.9 1605.1,267.8 1605.8,263.9 1606.5,260 1607.1,256.3 1607.8,252.7 1608.5,249.2 1609.2,245.9 1609.8,242.6 1610.5,239.5 1611.2,236.6 1611.9,233.7 1612.6,231 1613.2,228.5 1613.9,226.1 1614.6,223.8 1615.3,221.6 1615.9,219.6 1616.6,217.8 1617.3,216 1618,214.5 1618.7,213.1 1619.3,211.8 1620,210.6 1620.7,209.7 1621.4,208.8 1622.1,208.2 1622.7,207.6 1623.4,207.3 1624.1,207 1624.8,207 1625.4,207 1626.1,207.3 1626.8,207.6 1627.5,208.2 1628.2,208.8 1628.8,209.7 1629.5,210.6 1630.2,211.8 1630.9,213.1 1631.5,214.5 1632.2,216 1632.9,217.8 1633.6,219.6 1634.3,221.6 1634.9,223.8 1635.6,226.1 1636.3,228.5 1637,231 1637.7,233.7 1638.3,236.6 1639,239.5 1639.7,242.6 1640.4,245.9 1641,249.2 1641.7,252.7 1642.4,256.3 1643.1,260 1643.8,263.9 1644.4,267.8 1645.1,271.9 1645.8,276 1646.5,280.3 1647.1,284.7 1647.8,289.2 1648.5,293.8 1649.2,298.5 1649.9,303.3 1650.5,308.1 1651.2,313.1 1651.9,318.1 1652.6,323.3 1653.2,328.5 1653.9,333.7 1654.6,339.1 1655.3,344.5 1656,350 1656.6,355.5 1657.3,361.1 1658,366.8 1658.7,372.5 1659.4,378.2 1660,384 1660.7,389.8 1661.4,395.7 1662.1,401.6 1662.7,407.5 1663.4,413.5 1664.1,419.4 1664.8,425.4 1665.5,431.4 1666.1,437.5 1666.8,443.5 1667.5,449.5 1668.2,455.5 1668.8,461.5 1669.5,467.5 1670.2,473.5 1670.9,479.5 1671.6,485.4 1672.2,491.4 1672.9,497.3 1673.6,503.1 1674.3,509 1675,514.8 1675.6,520.5 1676.3,514.8 1677,509.1 1677.7,503.6 1678.3,498 1679,492.5 1679.7,487.1 1680.4,481.8 1681.1,476.5 1681.7,471.3 1682.4,466.2 1683.1,461.1 1683.8,456.2 1684.4,451.3 1685.1,446.5 1685.8,441.8 1686.5,437.2 1687.2,432.8 1687.8,428.4 1688.5,424.1 1689.2,419.9 1689.9,415.8 1690.6,411.9 1691.2,408.1 1691.9,404.3 1692.6,400.7 1693.3,397.3 1693.9,393.9 1694.6,390.7 1695.3,387.6 1696,384.6 1696.7,381.8 1697.3,379.1 1698,376.5 1698.7,374.1 1699.4,371.8 1700,369.7 1700.7,367.7 1701.4,365.8 1702.1,364.1 1702.8,362.5 1703.4,361.1 1704.1,359.8 1704.8,358.7 1705.5,357.7 1706.1,356.9 1706.8,356.2 1707.5,355.7 1708.2,355.3 1708.9,355.1 1709.5,355 1710.2,355.1 1710.9,355.3 1711.6,355.7 1712.3,356.2 1712.9,356.9 1713.6,357.7 1714.3,358.7 1715,359.8 1715.6,361.1 1716.3,362.5 1717,364.1 1717.7,365.8 1718.4,367.7 1719,369.7 1719.7,371.8 1720.4,374.1 1721.1,376.5 1721.7,379.1 1722.4,381.8 1723.1,384.6 1723.8,387.6 1724.5,390.7 1725.1,393.9 1725.8,397.3 1726.5,400.7 1727.2,404.3 1727.9,408.1 1728.5,411.9 1729.2,415.8 1729.9,419.9 1730.6,424.1 1731.2,428.4 1731.9,432.8 1732.6,437.2 1733.3,441.8 1734,446.5 1734.6,451.3 1735.3,456.2 1736,461.1 1736.7,466.2 1737.3,471.3 1738,476.5 1738.7,481.8 1739.4,487.1 1740.1,492.5 1740.7,498 1741.4,503.6 1742.1,509.1 1742.8,514.8 1743.5,520.5 1744.1,514.8 1744.8,509 1745.5,503.1 1746.2,497.3 1746.8,491.4 1747.5,485.4 1748.2,479.5 1748.9,473.5 1749.6,467.5 1750.2,461.5 1750.9,455.5 1751.6,449.5 1752.3,443.5 1752.9,437.5 1753.6,431.4 1754.3,425.4 1755,419.4 1755.7,413.5 1756.3,407.5 1757,401.6 1757.7,395.7 1758.4,389.8 1759,384 1759.7,378.2 1760.4,372.5 1761.1,366.8 1761.8,361.1 1762.4,355.5 1763.1,350 1763.8,344.5 1764.5,339.1 1765.2,333.7 1765.8,328.5 1766.5,323.3 1767.2,318.1 1767.9,313.1 1768.5,308.1 1769.2,303.3 1769.9,298.5 1770.6,293.8 1771.3,289.2 1771.9,284.7 1772.6,280.3 1773.3,276 1774,271.9 1774.6,267.8 1775.3,263.9 1776,260 1776.7,256.3 1777.4,252.7 1778,249.2 1778.7,245.9 1779.4,242.6 1780.1,239.5 1780.8,236.6 1781.4,233.7 1782.1,231 1782.8,228.5 1783.5,226.1 1784.1,223.8 1784.8,221.6 1785.5,219.6 1786.2,217.8 1786.9,216 1787.5,214.5 1788.2,213.1 1788.9,211.8 1789.6,210.6 1790.2,209.7 1790.9,208.8 1791.6,208.2 1792.3,207.6 1793,207.3 1793.6,207 1794.3,207 1795,207 1795.7,207.3 1796.3,207.6 1797,208.2 1797.7,208.8 1798.4,209.7 1799.1,210.6 1799.7,211.8 1800.4,213.1 1801.1,214.5 1801.8,216 1802.5,217.8 1803.1,219.6 1803.8,221.6 1804.5,223.8 1805.2,226.1 1805.8,228.5 1806.5,231 1807.2,233.7 1807.9,236.6 1808.6,239.5 1809.2,242.6 1809.9,245.9 1810.6,249.2 1811.3,252.7 1811.9,256.3 1812.6,260 1813.3,263.9 1814,267.8 1814.7,271.9 1815.3,276 1816,280.3 1816.7,284.7 1817.4,289.2 1818.1,293.8 1818.7,298.5 1819.4,303.3 1820.1,308.1 1820.8,313.1 1821.4,318.1 1822.1,323.3 1822.8,328.5 1823.5,333.7 1824.2,339.1 1824.8,344.5 1825.5,350 1826.2,355.5 1826.9,361.1 1827.5,366.8 1828.2,372.5 1828.9,378.2 1829.6,384 1830.3,389.8 1830.9,395.7 1831.6,401.6 1832.3,407.5 1833,413.5 1833.7,419.4 1834.3,425.4 1835,431.4 1835.7,437.5 1836.4,443.5 1837,449.5 1837.7,455.5 1838.4,461.5 1839.1,467.5 1839.8,473.5 1840.4,479.5 1841.1,485.4 1841.8,491.4 1842.5,497.3 1843.1,503.1 1843.8,509 1844.5,514.8 1845.2,520.5 1845.9,514.8 1846.5,509.1 1847.2,503.6 1847.9,498 1848.6,492.5 1849.2,487.1 1849.9,481.8 1850.6,476.5 1851.3,471.3 1852,466.2 1852.6,461.1 1853.3,456.2 1854,451.3 1854.7,446.5 1855.4,441.8 1856,437.2 1856.7,432.8 1857.4,428.4 1858.1,424.1 1858.7,419.9 1859.4,415.8 1860.1,411.9 1860.8,408.1 1861.5,404.3 1862.1,400.7 1862.8,397.3 1863.5,393.9 1864.2,390.7 1864.8,387.6 1865.5,384.6 1866.2,381.8 1866.9,379.1 1867.6,376.5 1868.2,374.1 1868.9,371.8 1869.6,369.7 1870.3,367.7 1871,365.8 1871.6,364.1 1872.3,362.5 1873,361.1 1873.7,359.8 1874.3,358.7 1875,357.7 1875.7,356.9 1876.4,356.2 1877.1,355.7 1877.7,355.3 1878.4,355.1 1879.1,355 1879.8,355.1 1880.4,355.3 1881.1,355.7 1881.8,356.2 1882.5,356.9 1883.2,357.7 1883.8,358.7 1884.5,359.8 1885.2,361.1 1885.9,362.5 1886.6,364.1 1887.2,365.8 1887.9,367.7 1888.6,369.7 1889.3,371.8 1889.9,374.1 1890.6,376.5 1891.3,379.1 1892,381.8 1892.7,384.6 1893.3,387.6 1894,390.7 1894.7,393.9 1895.4,397.3 1896,400.7 1896.7,404.3 1897.4,408.1 1898.1,411.9 1898.8,415.8 1899.4,419.9 1900.1,424.1 1900.8,428.4 1901.5,432.8 1902.1,437.2 1902.8,441.8 1903.5,446.5 1904.2,451.3 1904.9,456.2 1905.5,461.1 1906.2,466.2 1906.9,471.3 1907.6,476.5 1908.3,481.8 1908.9,487.1 1909.6,492.5 1910.3,498 1911,503.6 1911.6,509.1 1912.3,514.8 1913,520.5 1913.7,514.8 1914.4,509 1915,503.1 1915.7,497.3 1916.4,491.4 1917.1,485.4 1917.7,479.5 1918.4,473.5 1919.1,467.5 1919.8,461.5 1920.5,455.5 1921.1,449.5 1921.8,443.5 1922.5,437.5 1923.2,431.4 1923.9,425.4 1924.5,419.4 1925.2,413.5 1925.9,407.5 1926.6,401.6 1927.2,395.7 1927.9,389.8 1928.6,384 1929.3,378.2 1930,372.5 1930.6,366.8 1931.3,361.1 1932,355.5 1932.7,350 1933.3,344.5 1934,339.1 1934.7,333.7 1935.4,328.5 1936.1,323.3 1936.7,318.1 1937.4,313.1 1938.1,308.1 1938.8,303.3 1939.4,298.5 1940.1,293.8 1940.8,289.2 1941.5,284.7 1942.2,280.3 1942.8,276 1943.5,271.9 1944.2,267.8 1944.9,263.9 1945.6,260 1946.2,256.3 1946.9,252.7 1947.6,249.2 1948.3,245.9 1948.9,242.6 1949.6,239.5 1950.3,236.6 1951,233.7 1951.7,231 1952.3,228.5 1953,226.1 1953.7,223.8 1954.4,221.6 1955,219.6 1955.7,217.8 1956.4,216 1957.1,214.5 1957.8,213.1 1958.4,211.8 1959.1,210.6 1959.8,209.7 1960.5,208.8 1961.2,208.2 1961.8,207.6 1962.5,207.3 1963.2,207 1963.9,207 1964.5,207 1965.2,207.3 1965.9,207.6 1966.6,208.2 1967.3,208.8 1967.9,209.7 1968.6,210.6 1969.3,211.8 1970,213.1 1970.6,214.5 1971.3,216 1972,217.8 1972.7,219.6 1973.4,221.6 1974,223.8 1974.7,226.1 1975.4,228.5 1976.1,231 1976.8,233.7 1977.4,236.6 1978.1,239.5 1978.8,242.6 1979.5,245.9 1980.1,249.2 1980.8,252.7 1981.5,256.3 1982.2,260 1982.9,263.9 1983.5,267.8 1984.2,271.9 1984.9,276 1985.6,280.3 1986.2,284.7 1986.9,289.2 1987.6,293.8 1988.3,298.5 1989,303.3 1989.6,308.1 1990.3,313.1 1991,318.1 1991.7,323.3 1992.3,328.5 1993,333.7 1993.7,339.1 1994.4,344.5 1995.1,350 1995.7,355.5 1996.4,361.1 1997.1,366.8 1997.8,372.5 1998.5,378.2 1999.1,384 1999.8,389.8 2000.5,395.7 2001.2,401.6 2001.8,407.5 2002.5,413.5 2003.2,419.4 2003.9,425.4 2004.6,431.4 2005.2,437.5 2005.9,443.5 2006.6,449.5 2007.3,455.5 2007.9,461.5 2008.6,467.5 2009.3,473.5 2010,479.5 2010.7,485.4 2011.3,491.4 2012,497.3 2012.7,503.1 2013.4,509 2014.1,514.8 2014.7,520.5 2015.4,514.8 2016.1,509.1 2016.8,503.6 2017.4,498 2018.1,492.5 2018.8,487.1 2019.5,481.8 2020.2,476.5 2020.8,471.3 2021.5,466.2 2022.2,461.1 2022.9,456.2 2023.5,451.3 2024.2,446.5 2024.9,441.8 2025.6,437.2 2026.3,432.8 2026.9,428.4 2027.6,424.1 2028.3,419.9 2029,415.8 2029.7,411.9 2030.3,408.1 2031,404.3 2031.7,400.7 2032.4,397.3 2033,393.9 2033.7,390.7 2034.4,387.6 2035.1,384.6 2035.8,381.8 2036.4,379.1 2037.1,376.5 2037.8,374.1 2038.5,371.8 2039.1,369.7 2039.8,367.7 2040.5,365.8 2041.2,364.1 2041.9,362.5 2042.5,361.1 2043.2,359.8 2043.9,358.7 2044.6,357.7 2045.2,356.9 2045.9,356.2 2046.6,355.7 2047.3,355.3 2048,355.1 2048.6,355 2049.3,355.1 2050,355.3 2050.7,355.7 2051.4,356.2 2052,356.9 2052.7,357.7 2053.4,358.7 2054.1,359.8 2054.7,361.1 2055.4,362.5 2056.1,364.1 2056.8,365.8 2057.5,367.7 2058.1,369.7 2058.8,371.8 2059.5,374.1 2060.2,376.5 2060.8,379.1 2061.5,381.8 2062.2,384.6 2062.9,387.6 2063.6,390.7 2064.2,393.9 2064.9,397.3 2065.6,400.7 2066.3,404.3 2067,408.1 2067.6,411.9 2068.3,415.8 2069,419.9 2069.7,424.1 2070.3,428.4 2071,432.8 2071.7,437.2 2072.4,441.8 2073.1,446.5 2073.7,451.3 2074.4,456.2 2075.1,461.1 2075.8,466.2 2076.4,471.3 2077.1,476.5 2077.8,481.8 2078.5,487.1 2079.2,492.5 2079.8,498 2080.5,503.6 2081.2,509.1 2081.9,514.8 2082.6,520.5 2083.2,514.8 2083.9,509 2084.6,503.1 2085.3,497.3 2085.9,491.4 2086.6,485.4 2087.3,479.5 2088,473.5 2088.7,467.5 2089.3,461.5 2090,455.5 2090.7,449.5 2091.4,443.5 2092,437.5 2092.7,431.4 2093.4,425.4 2094.1,419.4 2094.8,413.5 2095.4,407.5 2096.1,401.6 2096.8,395.7 2097.5,389.8 2098.1,384 2098.8,378.2 2099.5,372.5 2100.2,366.8 2100.9,361.1 2101.5,355.5 2102.2,350 2102.9,344.5 2103.6,339.1 2104.3,333.7 2104.9,328.5 2105.6,323.3 2106.3,318.1 2107,313.1 2107.6,308.1 2108.3,303.3 2109,298.5 2109.7,293.8 2110.4,289.2 2111,284.7 2111.7,280.3 2112.4,276 2113.1,271.9 2113.7,267.8 2114.4,263.9 2115.1,260 2115.8,256.3 2116.5,252.7" fill="none" stroke="#ff0000" stroke-width="3" stroke-linejoin="round"/>
</g>
<rect x="1032.6" y="115.4" width="1082.6" height="405.1" fill="none" stroke="#262626" stroke-width="3"/>
<path d="M1100.3,115.4v11.5M1100.3,520.5v-11.5M1167.9,115.4v11.5M1167.9,520.5v-11.5M1235.6,115.4v11.5M1235.6,520.5v-11.5M1303.3,115.4v11.5M1303.3,520.5v-11.5M1370.9,115.4v11.5M1370.9,520.5v-11.5M1438.6,115.4v11.5M1438.6,520.5v-11.5M1506.2,115.4v11.5M1506.2,520.5v-11.5M1573.9,115.4v11.5M1573.9,520.5v-11.5M1641.6,115.4v11.5M1641.6,520.5v-11.5M1709.2,115.4v11.5M1709.2,520.5v-11.5M1776.9,115.4v11.5M1776.9,520.5v-11.5M1844.5,115.4v11.5M1844.5,520.5v-11.5M1912.2,115.4v11.5M1912.2,520.5v-11.5M1979.9,115.4v11.5M1979.9,520.5v-11.5M2047.5,115.4v11.5M2047.5,520.5v-11.5M1032.6,358.5h11.5M2115.2,358.5h-11.5M1032.6,196.4h11.5M2115.2,196.4h-11.5" stroke="#262626" stroke-width="3" fill="none"/>
<line x1="1506.2" y1="520.5" x2="1506.2" y2="303.5" stroke="#3333ff" stroke-width="4.2"/>
<polygon points="1506.2,281.3 1493.9,306.5 1518.5,306.5" fill="#3333ff"/>
<line x1="1573.9" y1="520.5" x2="1573.9" y2="221.9" stroke="#3333ff" stroke-width="4.2"/>
<polygon points="1573.9,199.9 1561.6,224.9 1586.2,224.9" fill="#3333ff"/>
<line x1="1641.6" y1="520.5" x2="1641.6" y2="303.5" stroke="#3333ff" stroke-width="4.2"/>
<polygon points="1641.6,281.3 1629.3,306.5 1653.9,306.5" fill="#3333ff"/>
<path d="M1489.1,352.2L1522.1,384.6M1489.1,384.6L1522.1,352.2" stroke="#000" stroke-width="4" stroke-linecap="round" fill="none"/>
<path d="M1557.1,262.3L1590.5,294.7M1557.1,294.7L1590.5,262.3" stroke="#000" stroke-width="4" stroke-linecap="round" fill="none"/>
<text x="1030.1" y="588.6" class="tl" text-anchor="middle">-8</text>
<text x="1097.8" y="588.6" class="tl" text-anchor="middle">-7</text>
<text x="1165.4" y="588.6" class="tl" text-anchor="middle">-6</text>
<text x="1233.1" y="588.6" class="tl" text-anchor="middle">-5</text>
<text x="1300.8" y="588.6" class="tl" text-anchor="middle">-4</text>
<text x="1368.4" y="588.6" class="tl" text-anchor="middle">-3</text>
<text x="1436.1" y="588.6" class="tl" text-anchor="middle">-2</text>
<text x="1503.7" y="588.6" class="tl" text-anchor="middle">-1</text>
<text x="1573.9" y="588.6" class="tl" text-anchor="middle">0</text>
<text x="1641.6" y="588.6" class="tl" text-anchor="middle">1</text>
<text x="1709.2" y="588.6" class="tl" text-anchor="middle">2</text>
<text x="1776.9" y="588.6" class="tl" text-anchor="middle">3</text>
<text x="1844.5" y="588.6" class="tl" text-anchor="middle">4</text>
<text x="1912.2" y="588.6" class="tl" text-anchor="middle">5</text>
<text x="1979.9" y="588.6" class="tl" text-anchor="middle">6</text>
<text x="2047.5" y="588.6" class="tl" text-anchor="middle">7</text>
<text x="2115.2" y="588.6" class="tl" text-anchor="middle">8</text>
<text x="1012.5" y="540.5" class="tl" text-anchor="end">0</text>
<text x="1012.5" y="378.5" class="tl" text-anchor="end">1</text>
<text x="1012.5" y="216.4" class="tl" text-anchor="end">2</text>
<text x="1012.5" y="135.4" class="tl" text-anchor="end">2.5</text>
<text id="a1" x="1074.6" y="179.6" font-size="58.8" class="t" textLength="422.509" lengthAdjust="spacing">3-step PCA-nPSA</text>
<text id="g0" x="1677.2" y="200.3" font-size="70" class="t" font-style="italic">G</text>
<text id="s0" x="1725" y="217.7" font-size="40" class="t" font-style="italic">SNR</text>
<text transform="translate(1817.593,202.619) scale(0.784,0.624)" font-size="100" class="t">=</text>
<text id="n0" x="1874.4" y="200.3" font-size="70" class="t" textLength="122.4" lengthAdjust="spacing">2.09</text>
<text id="l0" x="859.8" y="635" font-size="69" class="t" textLength="79.694" lengthAdjust="spacing">(a)</text>
<text transform="translate(1533.472,626.218) scale(0.641,0.596)" font-size="100" class="t" font-style="italic">ω</text>
<text transform="translate(968.923,414.137) rotate(-90) scale(0.763,0.861)" font-size="100" class="t">|</text>
<text transform="translate(961.8,399.337) rotate(-90) scale(0.617,0.577)" font-size="100" class="t" font-style="italic">H</text>
<text transform="translate(965.593,343.569) rotate(-90) scale(0.607,0.738)" font-size="100" class="t">(</text>
<text transform="translate(962.531,318.785) rotate(-90) scale(0.568,0.583)" font-size="100" class="t" font-style="italic">ω</text>
<text transform="translate(965.593,277.257) rotate(-90) scale(0.607,0.738)" font-size="100" class="t">)</text>
<text transform="translate(968.923,260.237) rotate(-90) scale(0.763,0.861)" font-size="100" class="t">|</text>
<defs><clipPath id="clp1"><rect x="1032.6" y="714.3" width="1082.6" height="405.9"/></clipPath></defs>
<g clip-path="url(#clp1)">
<polygon points="1031.3,1120.2 1031.3,1120.2 1032,1116.9 1032.7,1113.7 1033.4,1110.5 1034.1,1107.4 1034.7,1104.4 1035.4,1101.4 1036.1,1098.5 1036.8,1095.7 1037.4,1093 1038.1,1090.3 1038.8,1087.7 1039.5,1085.1 1040.2,1082.7 1040.8,1080.3 1041.5,1077.9 1042.2,1075.7 1042.9,1073.5 1043.5,1071.5 1044.2,1069.5 1044.9,1067.5 1045.6,1065.7 1046.3,1063.9 1046.9,1062.2 1047.6,1060.6 1048.3,1059.1 1049,1057.6 1049.7,1056.3 1050.3,1055 1051,1053.8 1051.7,1052.6 1052.4,1051.6 1053,1050.6 1053.7,1049.7 1054.4,1048.9 1055.1,1048.2 1055.8,1047.6 1056.4,1047 1057.1,1046.5 1057.8,1046.1 1058.5,1045.8 1059.1,1045.5 1059.8,1045.4 1060.5,1045.3 1061.2,1045.2 1061.9,1045.3 1062.5,1045.4 1063.2,1045.6 1063.9,1045.9 1064.6,1046.2 1065.2,1046.7 1065.9,1047.1 1066.6,1047.7 1067.3,1048.3 1068,1049 1068.6,1049.8 1069.3,1050.6 1070,1051.5 1070.7,1052.4 1071.4,1053.4 1072,1054.5 1072.7,1055.6 1073.4,1056.7 1074.1,1058 1074.7,1059.2 1075.4,1060.6 1076.1,1061.9 1076.8,1063.4 1077.5,1064.8 1078.1,1066.3 1078.8,1067.9 1079.5,1069.5 1080.2,1071.1 1080.8,1072.8 1081.5,1074.5 1082.2,1076.2 1082.9,1078 1083.6,1079.7 1084.2,1081.5 1084.9,1083.4 1085.6,1085.2 1086.3,1087.1 1087,1088.9 1087.6,1090.8 1088.3,1092.6 1089,1094.5 1089.7,1096.3 1090.3,1098.1 1091,1099.9 1091.7,1101.6 1092.4,1103.2 1093.1,1104.7 1093.7,1106 1094.4,1107.1 1095.1,1108 1095.8,1108.5 1096.4,1108.6 1097.1,1108.4 1097.8,1107.8 1098.5,1106.9 1099.2,1105.7 1099.8,1104.4 1100.5,1102.9 1101.2,1101.3 1101.9,1099.7 1102.6,1097.9 1103.2,1096.2 1103.9,1094.5 1104.6,1092.7 1105.3,1090.9 1105.9,1089.2 1106.6,1087.4 1107.3,1085.7 1108,1083.9 1108.7,1082.2 1109.3,1080.6 1110,1078.9 1110.7,1077.3 1111.4,1075.7 1112,1074.2 1112.7,1072.7 1113.4,1071.2 1114.1,1069.8 1114.8,1068.4 1115.4,1067 1116.1,1065.7 1116.8,1064.5 1117.5,1063.2 1118.1,1062.1 1118.8,1061 1119.5,1059.9 1120.2,1058.9 1120.9,1057.9 1121.5,1057 1122.2,1056.2 1122.9,1055.4 1123.6,1054.6 1124.3,1054 1124.9,1053.3 1125.6,1052.8 1126.3,1052.3 1127,1051.8 1127.6,1051.4 1128.3,1051.1 1129,1050.8 1129.7,1050.6 1130.4,1050.4 1131,1050.4 1131.7,1050.3 1132.4,1050.4 1133.1,1050.5 1133.7,1050.6 1134.4,1050.8 1135.1,1051.1 1135.8,1051.4 1136.5,1051.8 1137.1,1052.3 1137.8,1052.8 1138.5,1053.4 1139.2,1054 1139.9,1054.7 1140.5,1055.5 1141.2,1056.3 1141.9,1057.1 1142.6,1058.1 1143.2,1059.1 1143.9,1060.1 1144.6,1061.2 1145.3,1062.3 1146,1063.5 1146.6,1064.8 1147.3,1066.1 1148,1067.4 1148.7,1068.8 1149.3,1070.2 1150,1071.7 1150.7,1073.3 1151.4,1074.9 1152.1,1076.5 1152.7,1078.1 1153.4,1079.9 1154.1,1081.6 1154.8,1083.4 1155.5,1085.2 1156.1,1087.1 1156.8,1088.9 1157.5,1090.9 1158.2,1092.8 1158.8,1094.8 1159.5,1096.8 1160.2,1098.8 1160.9,1100.9 1161.6,1103 1162.2,1105.1 1162.9,1107.2 1163.6,1109.3 1164.3,1111.5 1164.9,1113.6 1165.6,1115.8 1166.3,1118 1167,1120.2 1167.7,1118 1168.3,1115.8 1169,1113.6 1169.7,1111.4 1170.4,1109.1 1171,1106.9 1171.7,1104.7 1172.4,1102.5 1173.1,1100.3 1173.8,1098.2 1174.4,1096 1175.1,1093.8 1175.8,1091.7 1176.5,1089.6 1177.2,1087.4 1177.8,1085.4 1178.5,1083.3 1179.2,1081.3 1179.9,1079.3 1180.5,1077.3 1181.2,1075.3 1181.9,1073.4 1182.6,1071.5 1183.3,1069.7 1183.9,1067.8 1184.6,1066.1 1185.3,1064.3 1186,1062.6 1186.6,1061 1187.3,1059.4 1188,1057.8 1188.7,1056.3 1189.4,1054.9 1190,1053.5 1190.7,1052.1 1191.4,1050.8 1192.1,1049.6 1192.8,1048.4 1193.4,1047.3 1194.1,1046.2 1194.8,1045.2 1195.5,1044.3 1196.1,1043.4 1196.8,1042.6 1197.5,1041.9 1198.2,1041.2 1198.9,1040.6 1199.5,1040.1 1200.2,1039.6 1200.9,1039.2 1201.6,1038.9 1202.2,1038.7 1202.9,1038.5 1203.6,1038.4 1204.3,1038.4 1205,1038.5 1205.6,1038.6 1206.3,1038.9 1207,1039.2 1207.7,1039.5 1208.4,1040 1209,1040.6 1209.7,1041.2 1210.4,1041.9 1211.1,1042.7 1211.7,1043.5 1212.4,1044.5 1213.1,1045.5 1213.8,1046.6 1214.5,1047.8 1215.1,1049.1 1215.8,1050.5 1216.5,1051.9 1217.2,1053.5 1217.8,1055.1 1218.5,1056.8 1219.2,1058.5 1219.9,1060.4 1220.6,1062.3 1221.2,1064.3 1221.9,1066.4 1222.6,1068.6 1223.3,1070.8 1223.9,1073.2 1224.6,1075.6 1225.3,1078.1 1226,1080.6 1226.7,1083.2 1227.3,1085.9 1228,1088.7 1228.7,1091.6 1229.4,1094.5 1230.1,1097.5 1230.7,1100.5 1231.4,1103.6 1232.1,1106.8 1232.8,1110.1 1233.4,1113.4 1234.1,1116.8 1234.8,1120.2 1235.5,1116.7 1236.2,1113.2 1236.8,1109.6 1237.5,1105.9 1238.2,1102.2 1238.9,1098.4 1239.5,1094.6 1240.2,1090.7 1240.9,1086.8 1241.6,1082.9 1242.3,1078.9 1242.9,1074.9 1243.6,1070.8 1244.3,1066.7 1245,1062.5 1245.7,1058.4 1246.3,1054.2 1247,1049.9 1247.7,1045.7 1248.4,1041.4 1249,1037.1 1249.7,1032.8 1250.4,1028.4 1251.1,1024.1 1251.8,1019.7 1252.4,1015.3 1253.1,1010.9 1253.8,1006.5 1254.5,1002.1 1255.1,997.7 1255.8,993.3 1256.5,988.9 1257.2,984.5 1257.9,980.1 1258.5,975.7 1259.2,971.3 1259.9,966.9 1260.6,962.6 1261.2,958.2 1261.9,953.9 1262.6,949.6 1263.3,945.3 1264,941.1 1264.6,936.9 1265.3,932.7 1266,928.5 1266.7,924.4 1267.4,920.3 1268,916.2 1268.7,912.2 1269.4,908.3 1270.1,904.3 1270.7,900.5 1271.4,896.6 1272.1,892.9 1272.8,889.2 1273.5,885.5 1274.1,881.9 1274.8,878.3 1275.5,874.8 1276.2,871.4 1276.8,868 1277.5,864.7 1278.2,861.5 1278.9,858.4 1279.6,855.3 1280.2,852.2 1280.9,849.3 1281.6,846.4 1282.3,843.6 1283,840.9 1283.6,838.3 1284.3,835.8 1285,833.3 1285.7,830.9 1286.3,828.6 1287,826.4 1287.7,824.3 1288.4,822.2 1289.1,820.3 1289.7,818.5 1290.4,816.7 1291.1,815 1291.8,813.5 1292.4,812 1293.1,810.6 1293.8,809.3 1294.5,808.1 1295.2,807 1295.8,806 1296.5,805.1 1297.2,804.3 1297.9,803.6 1298.6,803 1299.2,802.5 1299.9,802.2 1300.6,801.9 1301.3,801.7 1301.9,801.6 1302.6,801.6 1303.3,801.7 1304,801.9 1304.7,802.2 1305.3,802.6 1306,803.1 1306.7,803.7 1307.4,804.4 1308,805.2 1308.7,806.2 1309.4,807.2 1310.1,808.3 1310.8,809.5 1311.4,810.8 1312.1,812.2 1312.8,813.6 1313.5,815.2 1314.1,816.9 1314.8,818.7 1315.5,820.5 1316.2,822.5 1316.9,824.5 1317.5,826.6 1318.2,828.8 1318.9,831.1 1319.6,833.5 1320.3,836 1320.9,838.5 1321.6,841.2 1322.3,843.9 1323,846.7 1323.6,849.5 1324.3,852.5 1325,855.5 1325.7,858.6 1326.4,861.7 1327,864.9 1327.7,868.2 1328.4,871.6 1329.1,875 1329.7,878.4 1330.4,882 1331.1,885.6 1331.8,889.2 1332.5,892.9 1333.1,896.7 1333.8,900.5 1334.5,904.3 1335.2,908.2 1335.9,912.1 1336.5,916.1 1337.2,920.1 1337.9,924.2 1338.6,928.3 1339.2,932.4 1339.9,936.5 1340.6,940.7 1341.3,944.9 1342,949.2 1342.6,953.4 1343.3,957.7 1344,962 1344.7,966.3 1345.3,970.6 1346,974.9 1346.7,979.3 1347.4,983.6 1348.1,988 1348.7,992.3 1349.4,996.7 1350.1,1001 1350.8,1005.4 1351.5,1009.7 1352.1,1014 1352.8,1018.3 1353.5,1022.7 1354.2,1026.9 1354.8,1031.2 1355.5,1035.5 1356.2,1039.7 1356.9,1043.9 1357.6,1048.1 1358.2,1052.3 1358.9,1056.4 1359.6,1060.5 1360.3,1064.5 1360.9,1068.6 1361.6,1072.5 1362.3,1076.5 1363,1080.4 1363.7,1084.3 1364.3,1088.1 1365,1091.9 1365.7,1095.6 1366.4,1099.3 1367,1102.9 1367.7,1106.5 1368.4,1110 1369.1,1113.5 1369.8,1116.9 1370.4,1120.2 1371.1,1116.9 1371.8,1113.7 1372.5,1110.5 1373.2,1107.4 1373.8,1104.4 1374.5,1101.4 1375.2,1098.5 1375.9,1095.7 1376.5,1093 1377.2,1090.3 1377.9,1087.7 1378.6,1085.1 1379.3,1082.7 1379.9,1080.3 1380.6,1077.9 1381.3,1075.7 1382,1073.5 1382.6,1071.5 1383.3,1069.5 1384,1067.5 1384.7,1065.7 1385.4,1063.9 1386,1062.2 1386.7,1060.6 1387.4,1059.1 1388.1,1057.6 1388.8,1056.3 1389.4,1055 1390.1,1053.8 1390.8,1052.6 1391.5,1051.6 1392.1,1050.6 1392.8,1049.7 1393.5,1048.9 1394.2,1048.2 1394.9,1047.6 1395.5,1047 1396.2,1046.5 1396.9,1046.1 1397.6,1045.8 1398.2,1045.5 1398.9,1045.4 1399.6,1045.3 1400.3,1045.2 1401,1045.3 1401.6,1045.4 1402.3,1045.6 1403,1045.9 1403.7,1046.2 1404.4,1046.7 1405,1047.1 1405.7,1047.7 1406.4,1048.3 1407.1,1049 1407.7,1049.8 1408.4,1050.6 1409.1,1051.5 1409.8,1052.4 1410.5,1053.4 1411.1,1054.5 1411.8,1055.6 1412.5,1056.7 1413.2,1058 1413.8,1059.2 1414.5,1060.6 1415.2,1061.9 1415.9,1063.4 1416.6,1064.8 1417.2,1066.3 1417.9,1067.9 1418.6,1069.5 1419.3,1071.1 1419.9,1072.8 1420.6,1074.5 1421.3,1076.2 1422,1078 1422.7,1079.7 1423.3,1081.5 1424,1083.4 1424.7,1085.2 1425.4,1087.1 1426.1,1088.9 1426.7,1090.8 1427.4,1092.6 1428.1,1094.5 1428.8,1096.3 1429.4,1098.1 1430.1,1099.9 1430.8,1101.6 1431.5,1103.2 1432.2,1104.7 1432.8,1106 1433.5,1107.1 1434.2,1108 1434.9,1108.5 1435.5,1108.6 1436.2,1108.4 1436.9,1107.8 1437.6,1106.9 1438.3,1105.7 1438.9,1104.4 1439.6,1102.9 1440.3,1101.3 1441,1099.7 1441.7,1097.9 1442.3,1096.2 1443,1094.5 1443.7,1092.7 1444.4,1090.9 1445,1089.2 1445.7,1087.4 1446.4,1085.7 1447.1,1083.9 1447.8,1082.2 1448.4,1080.6 1449.1,1078.9 1449.8,1077.3 1450.5,1075.7 1451.1,1074.2 1451.8,1072.7 1452.5,1071.2 1453.2,1069.8 1453.9,1068.4 1454.5,1067 1455.2,1065.7 1455.9,1064.5 1456.6,1063.2 1457.2,1062.1 1457.9,1061 1458.6,1059.9 1459.3,1058.9 1460,1057.9 1460.6,1057 1461.3,1056.2 1462,1055.4 1462.7,1054.6 1463.4,1054 1464,1053.3 1464.7,1052.8 1465.4,1052.3 1466.1,1051.8 1466.7,1051.4 1467.4,1051.1 1468.1,1050.8 1468.8,1050.6 1469.5,1050.4 1470.1,1050.4 1470.8,1050.3 1471.5,1050.4 1472.2,1050.5 1472.8,1050.6 1473.5,1050.8 1474.2,1051.1 1474.9,1051.4 1475.6,1051.8 1476.2,1052.3 1476.9,1052.8 1477.6,1053.4 1478.3,1054 1479,1054.7 1479.6,1055.5 1480.3,1056.3 1481,1057.1 1481.7,1058.1 1482.3,1059.1 1483,1060.1 1483.7,1061.2 1484.4,1062.3 1485.1,1063.5 1485.7,1064.8 1486.4,1066.1 1487.1,1067.4 1487.8,1068.8 1488.4,1070.2 1489.1,1071.7 1489.8,1073.3 1490.5,1074.9 1491.2,1076.5 1491.8,1078.1 1492.5,1079.9 1493.2,1081.6 1493.9,1083.4 1494.6,1085.2 1495.2,1087.1 1495.9,1088.9 1496.6,1090.9 1497.3,1092.8 1497.9,1094.8 1498.6,1096.8 1499.3,1098.8 1500,1100.9 1500.7,1103 1501.3,1105.1 1502,1107.2 1502.7,1109.3 1503.4,1111.5 1504,1113.6 1504.7,1115.8 1505.4,1118 1506.1,1120.2 1506.8,1118 1507.4,1115.8 1508.1,1113.6 1508.8,1111.4 1509.5,1109.1 1510.1,1106.9 1510.8,1104.7 1511.5,1102.5 1512.2,1100.3 1512.9,1098.2 1513.5,1096 1514.2,1093.8 1514.9,1091.7 1515.6,1089.6 1516.3,1087.4 1516.9,1085.4 1517.6,1083.3 1518.3,1081.3 1519,1079.3 1519.6,1077.3 1520.3,1075.3 1521,1073.4 1521.7,1071.5 1522.4,1069.7 1523,1067.8 1523.7,1066.1 1524.4,1064.3 1525.1,1062.6 1525.7,1061 1526.4,1059.4 1527.1,1057.8 1527.8,1056.3 1528.5,1054.9 1529.1,1053.5 1529.8,1052.1 1530.5,1050.8 1531.2,1049.6 1531.9,1048.4 1532.5,1047.3 1533.2,1046.2 1533.9,1045.2 1534.6,1044.3 1535.2,1043.4 1535.9,1042.6 1536.6,1041.9 1537.3,1041.2 1538,1040.6 1538.6,1040.1 1539.3,1039.6 1540,1039.2 1540.7,1038.9 1541.3,1038.7 1542,1038.5 1542.7,1038.4 1543.4,1038.4 1544.1,1038.5 1544.7,1038.6 1545.4,1038.9 1546.1,1039.2 1546.8,1039.5 1547.5,1040 1548.1,1040.6 1548.8,1041.2 1549.5,1041.9 1550.2,1042.7 1550.8,1043.5 1551.5,1044.5 1552.2,1045.5 1552.9,1046.6 1553.6,1047.8 1554.2,1049.1 1554.9,1050.5 1555.6,1051.9 1556.3,1053.5 1556.9,1055.1 1557.6,1056.8 1558.3,1058.5 1559,1060.4 1559.7,1062.3 1560.3,1064.3 1561,1066.4 1561.7,1068.6 1562.4,1070.8 1563,1073.2 1563.7,1075.6 1564.4,1078.1 1565.1,1080.6 1565.8,1083.2 1566.4,1085.9 1567.1,1088.7 1567.8,1091.6 1568.5,1094.5 1569.2,1097.5 1569.8,1100.5 1570.5,1103.6 1571.2,1106.8 1571.9,1110.1 1572.5,1113.4 1573.2,1116.8 1573.9,1120.2 1574.6,1116.7 1575.3,1113.2 1575.9,1109.6 1576.6,1105.9 1577.3,1102.2 1578,1098.4 1578.6,1094.6 1579.3,1090.7 1580,1086.8 1580.7,1082.9 1581.4,1078.9 1582,1074.9 1582.7,1070.8 1583.4,1066.7 1584.1,1062.5 1584.8,1058.4 1585.4,1054.2 1586.1,1049.9 1586.8,1045.7 1587.5,1041.4 1588.1,1037.1 1588.8,1032.8 1589.5,1028.4 1590.2,1024.1 1590.9,1019.7 1591.5,1015.3 1592.2,1010.9 1592.9,1006.5 1593.6,1002.1 1594.2,997.7 1594.9,993.3 1595.6,988.9 1596.3,984.5 1597,980.1 1597.6,975.7 1598.3,971.3 1599,966.9 1599.7,962.6 1600.3,958.2 1601,953.9 1601.7,949.6 1602.4,945.3 1603.1,941.1 1603.7,936.9 1604.4,932.7 1605.1,928.5 1605.8,924.4 1606.5,920.3 1607.1,916.2 1607.8,912.2 1608.5,908.3 1609.2,904.3 1609.8,900.5 1610.5,896.6 1611.2,892.9 1611.9,889.2 1612.6,885.5 1613.2,881.9 1613.9,878.3 1614.6,874.8 1615.3,871.4 1615.9,868 1616.6,864.7 1617.3,861.5 1618,858.4 1618.7,855.3 1619.3,852.2 1620,849.3 1620.7,846.4 1621.4,843.6 1622.1,840.9 1622.7,838.3 1623.4,835.8 1624.1,833.3 1624.8,830.9 1625.4,828.6 1626.1,826.4 1626.8,824.3 1627.5,822.2 1628.2,820.3 1628.8,818.5 1629.5,816.7 1630.2,815 1630.9,813.5 1631.5,812 1632.2,810.6 1632.9,809.3 1633.6,808.1 1634.3,807 1634.9,806 1635.6,805.1 1636.3,804.3 1637,803.6 1637.7,803 1638.3,802.5 1639,802.2 1639.7,801.9 1640.4,801.7 1641,801.6 1641.7,801.6 1642.4,801.7 1643.1,801.9 1643.8,802.2 1644.4,802.6 1645.1,803.1 1645.8,803.7 1646.5,804.4 1647.1,805.2 1647.8,806.2 1648.5,807.2 1649.2,808.3 1649.9,809.5 1650.5,810.8 1651.2,812.2 1651.9,813.6 1652.6,815.2 1653.2,816.9 1653.9,818.7 1654.6,820.5 1655.3,822.5 1656,824.5 1656.6,826.6 1657.3,828.8 1658,831.1 1658.7,833.5 1659.4,836 1660,838.5 1660.7,841.2 1661.4,843.9 1662.1,846.7 1662.7,849.5 1663.4,852.5 1664.1,855.5 1664.8,858.6 1665.5,861.7 1666.1,864.9 1666.8,868.2 1667.5,871.6 1668.2,875 1668.8,878.4 1669.5,882 1670.2,885.6 1670.9,889.2 1671.6,892.9 1672.2,896.7 1672.9,900.5 1673.6,904.3 1674.3,908.2 1675,912.1 1675.6,916.1 1676.3,920.1 1677,924.2 1677.7,928.3 1678.3,932.4 1679,936.5 1679.7,940.7 1680.4,944.9 1681.1,949.2 1681.7,953.4 1682.4,957.7 1683.1,962 1683.8,966.3 1684.4,970.6 1685.1,974.9 1685.8,979.3 1686.5,983.6 1687.2,988 1687.8,992.3 1688.5,996.7 1689.2,1001 1689.9,1005.4 1690.6,1009.7 1691.2,1014 1691.9,1018.3 1692.6,1022.7 1693.3,1026.9 1693.9,1031.2 1694.6,1035.5 1695.3,1039.7 1696,1043.9 1696.7,1048.1 1697.3,1052.3 1698,1056.4 1698.7,1060.5 1699.4,1064.5 1700,1068.6 1700.7,1072.5 1701.4,1076.5 1702.1,1080.4 1702.8,1084.3 1703.4,1088.1 1704.1,1091.9 1704.8,1095.6 1705.5,1099.3 1706.1,1102.9 1706.8,1106.5 1707.5,1110 1708.2,1113.5 1708.9,1116.9 1709.5,1120.2 1710.2,1116.9 1710.9,1113.7 1711.6,1110.5 1712.3,1107.4 1712.9,1104.4 1713.6,1101.4 1714.3,1098.5 1715,1095.7 1715.6,1093 1716.3,1090.3 1717,1087.7 1717.7,1085.1 1718.4,1082.7 1719,1080.3 1719.7,1077.9 1720.4,1075.7 1721.1,1073.5 1721.7,1071.5 1722.4,1069.5 1723.1,1067.5 1723.8,1065.7 1724.5,1063.9 1725.1,1062.2 1725.8,1060.6 1726.5,1059.1 1727.2,1057.6 1727.9,1056.3 1728.5,1055 1729.2,1053.8 1729.9,1052.6 1730.6,1051.6 1731.2,1050.6 1731.9,1049.7 1732.6,1048.9 1733.3,1048.2 1734,1047.6 1734.6,1047 1735.3,1046.5 1736,1046.1 1736.7,1045.8 1737.3,1045.5 1738,1045.4 1738.7,1045.3 1739.4,1045.2 1740.1,1045.3 1740.7,1045.4 1741.4,1045.6 1742.1,1045.9 1742.8,1046.2 1743.5,1046.7 1744.1,1047.1 1744.8,1047.7 1745.5,1048.3 1746.2,1049 1746.8,1049.8 1747.5,1050.6 1748.2,1051.5 1748.9,1052.4 1749.6,1053.4 1750.2,1054.5 1750.9,1055.6 1751.6,1056.7 1752.3,1058 1752.9,1059.2 1753.6,1060.6 1754.3,1061.9 1755,1063.4 1755.7,1064.8 1756.3,1066.3 1757,1067.9 1757.7,1069.5 1758.4,1071.1 1759,1072.8 1759.7,1074.5 1760.4,1076.2 1761.1,1078 1761.8,1079.7 1762.4,1081.5 1763.1,1083.4 1763.8,1085.2 1764.5,1087.1 1765.2,1088.9 1765.8,1090.8 1766.5,1092.6 1767.2,1094.5 1767.9,1096.3 1768.5,1098.1 1769.2,1099.9 1769.9,1101.6 1770.6,1103.2 1771.3,1104.7 1771.9,1106 1772.6,1107.1 1773.3,1108 1774,1108.5 1774.6,1108.6 1775.3,1108.4 1776,1107.8 1776.7,1106.9 1777.4,1105.7 1778,1104.4 1778.7,1102.9 1779.4,1101.3 1780.1,1099.7 1780.8,1097.9 1781.4,1096.2 1782.1,1094.5 1782.8,1092.7 1783.5,1090.9 1784.1,1089.2 1784.8,1087.4 1785.5,1085.7 1786.2,1083.9 1786.9,1082.2 1787.5,1080.6 1788.2,1078.9 1788.9,1077.3 1789.6,1075.7 1790.2,1074.2 1790.9,1072.7 1791.6,1071.2 1792.3,1069.8 1793,1068.4 1793.6,1067 1794.3,1065.7 1795,1064.5 1795.7,1063.2 1796.3,1062.1 1797,1061 1797.7,1059.9 1798.4,1058.9 1799.1,1057.9 1799.7,1057 1800.4,1056.2 1801.1,1055.4 1801.8,1054.6 1802.5,1054 1803.1,1053.3 1803.8,1052.8 1804.5,1052.3 1805.2,1051.8 1805.8,1051.4 1806.5,1051.1 1807.2,1050.8 1807.9,1050.6 1808.6,1050.4 1809.2,1050.4 1809.9,1050.3 1810.6,1050.4 1811.3,1050.5 1811.9,1050.6 1812.6,1050.8 1813.3,1051.1 1814,1051.4 1814.7,1051.8 1815.3,1052.3 1816,1052.8 1816.7,1053.4 1817.4,1054 1818.1,1054.7 1818.7,1055.5 1819.4,1056.3 1820.1,1057.1 1820.8,1058.1 1821.4,1059.1 1822.1,1060.1 1822.8,1061.2 1823.5,1062.3 1824.2,1063.5 1824.8,1064.8 1825.5,1066.1 1826.2,1067.4 1826.9,1068.8 1827.5,1070.2 1828.2,1071.7 1828.9,1073.3 1829.6,1074.9 1830.3,1076.5 1830.9,1078.1 1831.6,1079.9 1832.3,1081.6 1833,1083.4 1833.7,1085.2 1834.3,1087.1 1835,1088.9 1835.7,1090.9 1836.4,1092.8 1837,1094.8 1837.7,1096.8 1838.4,1098.8 1839.1,1100.9 1839.8,1103 1840.4,1105.1 1841.1,1107.2 1841.8,1109.3 1842.5,1111.5 1843.1,1113.6 1843.8,1115.8 1844.5,1118 1845.2,1120.2 1845.9,1118 1846.5,1115.8 1847.2,1113.6 1847.9,1111.4 1848.6,1109.1 1849.2,1106.9 1849.9,1104.7 1850.6,1102.5 1851.3,1100.3 1852,1098.2 1852.6,1096 1853.3,1093.8 1854,1091.7 1854.7,1089.6 1855.4,1087.4 1856,1085.4 1856.7,1083.3 1857.4,1081.3 1858.1,1079.3 1858.7,1077.3 1859.4,1075.3 1860.1,1073.4 1860.8,1071.5 1861.5,1069.7 1862.1,1067.8 1862.8,1066.1 1863.5,1064.3 1864.2,1062.6 1864.8,1061 1865.5,1059.4 1866.2,1057.8 1866.9,1056.3 1867.6,1054.9 1868.2,1053.5 1868.9,1052.1 1869.6,1050.8 1870.3,1049.6 1871,1048.4 1871.6,1047.3 1872.3,1046.2 1873,1045.2 1873.7,1044.3 1874.3,1043.4 1875,1042.6 1875.7,1041.9 1876.4,1041.2 1877.1,1040.6 1877.7,1040.1 1878.4,1039.6 1879.1,1039.2 1879.8,1038.9 1880.4,1038.7 1881.1,1038.5 1881.8,1038.4 1882.5,1038.4 1883.2,1038.5 1883.8,1038.6 1884.5,1038.9 1885.2,1039.2 1885.9,1039.5 1886.6,1040 1887.2,1040.6 1887.9,1041.2 1888.6,1041.9 1889.3,1042.7 1889.9,1043.5 1890.6,1044.5 1891.3,1045.5 1892,1046.6 1892.7,1047.8 1893.3,1049.1 1894,1050.5 1894.7,1051.9 1895.4,1053.5 1896,1055.1 1896.7,1056.8 1897.4,1058.5 1898.1,1060.4 1898.8,1062.3 1899.4,1064.3 1900.1,1066.4 1900.8,1068.6 1901.5,1070.8 1902.1,1073.2 1902.8,1075.6 1903.5,1078.1 1904.2,1080.6 1904.9,1083.2 1905.5,1085.9 1906.2,1088.7 1906.9,1091.6 1907.6,1094.5 1908.3,1097.5 1908.9,1100.5 1909.6,1103.6 1910.3,1106.8 1911,1110.1 1911.6,1113.4 1912.3,1116.8 1913,1120.2 1913.7,1116.7 1914.4,1113.2 1915,1109.6 1915.7,1105.9 1916.4,1102.2 1917.1,1098.4 1917.7,1094.6 1918.4,1090.7 1919.1,1086.8 1919.8,1082.9 1920.5,1078.9 1921.1,1074.9 1921.8,1070.8 1922.5,1066.7 1923.2,1062.5 1923.9,1058.4 1924.5,1054.2 1925.2,1049.9 1925.9,1045.7 1926.6,1041.4 1927.2,1037.1 1927.9,1032.8 1928.6,1028.4 1929.3,1024.1 1930,1019.7 1930.6,1015.3 1931.3,1010.9 1932,1006.5 1932.7,1002.1 1933.3,997.7 1934,993.3 1934.7,988.9 1935.4,984.5 1936.1,980.1 1936.7,975.7 1937.4,971.3 1938.1,966.9 1938.8,962.6 1939.4,958.2 1940.1,953.9 1940.8,949.6 1941.5,945.3 1942.2,941.1 1942.8,936.9 1943.5,932.7 1944.2,928.5 1944.9,924.4 1945.6,920.3 1946.2,916.2 1946.9,912.2 1947.6,908.3 1948.3,904.3 1948.9,900.5 1949.6,896.6 1950.3,892.9 1951,889.2 1951.7,885.5 1952.3,881.9 1953,878.3 1953.7,874.8 1954.4,871.4 1955,868 1955.7,864.7 1956.4,861.5 1957.1,858.4 1957.8,855.3 1958.4,852.2 1959.1,849.3 1959.8,846.4 1960.5,843.6 1961.2,840.9 1961.8,838.3 1962.5,835.8 1963.2,833.3 1963.9,830.9 1964.5,828.6 1965.2,826.4 1965.9,824.3 1966.6,822.2 1967.3,820.3 1967.9,818.5 1968.6,816.7 1969.3,815 1970,813.5 1970.6,812 1971.3,810.6 1972,809.3 1972.7,808.1 1973.4,807 1974,806 1974.7,805.1 1975.4,804.3 1976.1,803.6 1976.8,803 1977.4,802.5 1978.1,802.2 1978.8,801.9 1979.5,801.7 1980.1,801.6 1980.8,801.6 1981.5,801.7 1982.2,801.9 1982.9,802.2 1983.5,802.6 1984.2,803.1 1984.9,803.7 1985.6,804.4 1986.2,805.2 1986.9,806.2 1987.6,807.2 1988.3,808.3 1989,809.5 1989.6,810.8 1990.3,812.2 1991,813.6 1991.7,815.2 1992.3,816.9 1993,818.7 1993.7,820.5 1994.4,822.5 1995.1,824.5 1995.7,826.6 1996.4,828.8 1997.1,831.1 1997.8,833.5 1998.5,836 1999.1,838.5 1999.8,841.2 2000.5,843.9 2001.2,846.7 2001.8,849.5 2002.5,852.5 2003.2,855.5 2003.9,858.6 2004.6,861.7 2005.2,864.9 2005.9,868.2 2006.6,871.6 2007.3,875 2007.9,878.4 2008.6,882 2009.3,885.6 2010,889.2 2010.7,892.9 2011.3,896.7 2012,900.5 2012.7,904.3 2013.4,908.2 2014.1,912.1 2014.7,916.1 2015.4,920.1 2016.1,924.2 2016.8,928.3 2017.4,932.4 2018.1,936.5 2018.8,940.7 2019.5,944.9 2020.2,949.2 2020.8,953.4 2021.5,957.7 2022.2,962 2022.9,966.3 2023.5,970.6 2024.2,974.9 2024.9,979.3 2025.6,983.6 2026.3,988 2026.9,992.3 2027.6,996.7 2028.3,1001 2029,1005.4 2029.7,1009.7 2030.3,1014 2031,1018.3 2031.7,1022.7 2032.4,1026.9 2033,1031.2 2033.7,1035.5 2034.4,1039.7 2035.1,1043.9 2035.8,1048.1 2036.4,1052.3 2037.1,1056.4 2037.8,1060.5 2038.5,1064.5 2039.1,1068.6 2039.8,1072.5 2040.5,1076.5 2041.2,1080.4 2041.9,1084.3 2042.5,1088.1 2043.2,1091.9 2043.9,1095.6 2044.6,1099.3 2045.2,1102.9 2045.9,1106.5 2046.6,1110 2047.3,1113.5 2048,1116.9 2048.6,1120.2 2049.3,1116.9 2050,1113.7 2050.7,1110.5 2051.4,1107.4 2052,1104.4 2052.7,1101.4 2053.4,1098.5 2054.1,1095.7 2054.7,1093 2055.4,1090.3 2056.1,1087.7 2056.8,1085.1 2057.5,1082.7 2058.1,1080.3 2058.8,1077.9 2059.5,1075.7 2060.2,1073.5 2060.8,1071.5 2061.5,1069.5 2062.2,1067.5 2062.9,1065.7 2063.6,1063.9 2064.2,1062.2 2064.9,1060.6 2065.6,1059.1 2066.3,1057.6 2067,1056.3 2067.6,1055 2068.3,1053.8 2069,1052.6 2069.7,1051.6 2070.3,1050.6 2071,1049.7 2071.7,1048.9 2072.4,1048.2 2073.1,1047.6 2073.7,1047 2074.4,1046.5 2075.1,1046.1 2075.8,1045.8 2076.4,1045.5 2077.1,1045.4 2077.8,1045.3 2078.5,1045.2 2079.2,1045.3 2079.8,1045.4 2080.5,1045.6 2081.2,1045.9 2081.9,1046.2 2082.6,1046.7 2083.2,1047.1 2083.9,1047.7 2084.6,1048.3 2085.3,1049 2085.9,1049.8 2086.6,1050.6 2087.3,1051.5 2088,1052.4 2088.7,1053.4 2089.3,1054.5 2090,1055.6 2090.7,1056.7 2091.4,1058 2092,1059.2 2092.7,1060.6 2093.4,1061.9 2094.1,1063.4 2094.8,1064.8 2095.4,1066.3 2096.1,1067.9 2096.8,1069.5 2097.5,1071.1 2098.1,1072.8 2098.8,1074.5 2099.5,1076.2 2100.2,1078 2100.9,1079.7 2101.5,1081.5 2102.2,1083.4 2102.9,1085.2 2103.6,1087.1 2104.3,1088.9 2104.9,1090.8 2105.6,1092.6 2106.3,1094.5 2107,1096.3 2107.6,1098.1 2108.3,1099.9 2109,1101.6 2109.7,1103.2 2110.4,1104.7 2111,1106 2111.7,1107.1 2112.4,1108 2113.1,1108.5 2113.7,1108.6 2114.4,1108.4 2115.1,1107.8 2115.8,1106.9 2116.5,1105.7 2116.5,1120.2" fill="#38ff90"/>
<polyline points="1031.3,1120.2 1032,1116.9 1032.7,1113.7 1033.4,1110.5 1034.1,1107.4 1034.7,1104.4 1035.4,1101.4 1036.1,1098.5 1036.8,1095.7 1037.4,1093 1038.1,1090.3 1038.8,1087.7 1039.5,1085.1 1040.2,1082.7 1040.8,1080.3 1041.5,1077.9 1042.2,1075.7 1042.9,1073.5 1043.5,1071.5 1044.2,1069.5 1044.9,1067.5 1045.6,1065.7 1046.3,1063.9 1046.9,1062.2 1047.6,1060.6 1048.3,1059.1 1049,1057.6 1049.7,1056.3 1050.3,1055 1051,1053.8 1051.7,1052.6 1052.4,1051.6 1053,1050.6 1053.7,1049.7 1054.4,1048.9 1055.1,1048.2 1055.8,1047.6 1056.4,1047 1057.1,1046.5 1057.8,1046.1 1058.5,1045.8 1059.1,1045.5 1059.8,1045.4 1060.5,1045.3 1061.2,1045.2 1061.9,1045.3 1062.5,1045.4 1063.2,1045.6 1063.9,1045.9 1064.6,1046.2 1065.2,1046.7 1065.9,1047.1 1066.6,1047.7 1067.3,1048.3 1068,1049 1068.6,1049.8 1069.3,1050.6 1070,1051.5 1070.7,1052.4 1071.4,1053.4 1072,1054.5 1072.7,1055.6 1073.4,1056.7 1074.1,1058 1074.7,1059.2 1075.4,1060.6 1076.1,1061.9 1076.8,1063.4 1077.5,1064.8 1078.1,1066.3 1078.8,1067.9 1079.5,1069.5 1080.2,1071.1 1080.8,1072.8 1081.5,1074.5 1082.2,1076.2 1082.9,1078 1083.6,1079.7 1084.2,1081.5 1084.9,1083.4 1085.6,1085.2 1086.3,1087.1 1087,1088.9 1087.6,1090.8 1088.3,1092.6 1089,1094.5 1089.7,1096.3 1090.3,1098.1 1091,1099.9 1091.7,1101.6 1092.4,1103.2 1093.1,1104.7 1093.7,1106 1094.4,1107.1 1095.1,1108 1095.8,1108.5 1096.4,1108.6 1097.1,1108.4 1097.8,1107.8 1098.5,1106.9 1099.2,1105.7 1099.8,1104.4 1100.5,1102.9 1101.2,1101.3 1101.9,1099.7 1102.6,1097.9 1103.2,1096.2 1103.9,1094.5 1104.6,1092.7 1105.3,1090.9 1105.9,1089.2 1106.6,1087.4 1107.3,1085.7 1108,1083.9 1108.7,1082.2 1109.3,1080.6 1110,1078.9 1110.7,1077.3 1111.4,1075.7 1112,1074.2 1112.7,1072.7 1113.4,1071.2 1114.1,1069.8 1114.8,1068.4 1115.4,1067 1116.1,1065.7 1116.8,1064.5 1117.5,1063.2 1118.1,1062.1 1118.8,1061 1119.5,1059.9 1120.2,1058.9 1120.9,1057.9 1121.5,1057 1122.2,1056.2 1122.9,1055.4 1123.6,1054.6 1124.3,1054 1124.9,1053.3 1125.6,1052.8 1126.3,1052.3 1127,1051.8 1127.6,1051.4 1128.3,1051.1 1129,1050.8 1129.7,1050.6 1130.4,1050.4 1131,1050.4 1131.7,1050.3 1132.4,1050.4 1133.1,1050.5 1133.7,1050.6 1134.4,1050.8 1135.1,1051.1 1135.8,1051.4 1136.5,1051.8 1137.1,1052.3 1137.8,1052.8 1138.5,1053.4 1139.2,1054 1139.9,1054.7 1140.5,1055.5 1141.2,1056.3 1141.9,1057.1 1142.6,1058.1 1143.2,1059.1 1143.9,1060.1 1144.6,1061.2 1145.3,1062.3 1146,1063.5 1146.6,1064.8 1147.3,1066.1 1148,1067.4 1148.7,1068.8 1149.3,1070.2 1150,1071.7 1150.7,1073.3 1151.4,1074.9 1152.1,1076.5 1152.7,1078.1 1153.4,1079.9 1154.1,1081.6 1154.8,1083.4 1155.5,1085.2 1156.1,1087.1 1156.8,1088.9 1157.5,1090.9 1158.2,1092.8 1158.8,1094.8 1159.5,1096.8 1160.2,1098.8 1160.9,1100.9 1161.6,1103 1162.2,1105.1 1162.9,1107.2 1163.6,1109.3 1164.3,1111.5 1164.9,1113.6 1165.6,1115.8 1166.3,1118 1167,1120.2 1167.7,1118 1168.3,1115.8 1169,1113.6 1169.7,1111.4 1170.4,1109.1 1171,1106.9 1171.7,1104.7 1172.4,1102.5 1173.1,1100.3 1173.8,1098.2 1174.4,1096 1175.1,1093.8 1175.8,1091.7 1176.5,1089.6 1177.2,1087.4 1177.8,1085.4 1178.5,1083.3 1179.2,1081.3 1179.9,1079.3 1180.5,1077.3 1181.2,1075.3 1181.9,1073.4 1182.6,1071.5 1183.3,1069.7 1183.9,1067.8 1184.6,1066.1 1185.3,1064.3 1186,1062.6 1186.6,1061 1187.3,1059.4 1188,1057.8 1188.7,1056.3 1189.4,1054.9 1190,1053.5 1190.7,1052.1 1191.4,1050.8 1192.1,1049.6 1192.8,1048.4 1193.4,1047.3 1194.1,1046.2 1194.8,1045.2 1195.5,1044.3 1196.1,1043.4 1196.8,1042.6 1197.5,1041.9 1198.2,1041.2 1198.9,1040.6 1199.5,1040.1 1200.2,1039.6 1200.9,1039.2 1201.6,1038.9 1202.2,1038.7 1202.9,1038.5 1203.6,1038.4 1204.3,1038.4 1205,1038.5 1205.6,1038.6 1206.3,1038.9 1207,1039.2 1207.7,1039.5 1208.4,1040 1209,1040.6 1209.7,1041.2 1210.4,1041.9 1211.1,1042.7 1211.7,1043.5 1212.4,1044.5 1213.1,1045.5 1213.8,1046.6 1214.5,1047.8 1215.1,1049.1 1215.8,1050.5 1216.5,1051.9 1217.2,1053.5 1217.8,1055.1 1218.5,1056.8 1219.2,1058.5 1219.9,1060.4 1220.6,1062.3 1221.2,1064.3 1221.9,1066.4 1222.6,1068.6 1223.3,1070.8 1223.9,1073.2 1224.6,1075.6 1225.3,1078.1 1226,1080.6 1226.7,1083.2 1227.3,1085.9 1228,1088.7 1228.7,1091.6 1229.4,1094.5 1230.1,1097.5 1230.7,1100.5 1231.4,1103.6 1232.1,1106.8 1232.8,1110.1 1233.4,1113.4 1234.1,1116.8 1234.8,1120.2 1235.5,1116.7 1236.2,1113.2 1236.8,1109.6 1237.5,1105.9 1238.2,1102.2 1238.9,1098.4 1239.5,1094.6 1240.2,1090.7 1240.9,1086.8 1241.6,1082.9 1242.3,1078.9 1242.9,1074.9 1243.6,1070.8 1244.3,1066.7 1245,1062.5 1245.7,1058.4 1246.3,1054.2 1247,1049.9 1247.7,1045.7 1248.4,1041.4 1249,1037.1 1249.7,1032.8 1250.4,1028.4 1251.1,1024.1 1251.8,1019.7 1252.4,1015.3 1253.1,1010.9 1253.8,1006.5 1254.5,1002.1 1255.1,997.7 1255.8,993.3 1256.5,988.9 1257.2,984.5 1257.9,980.1 1258.5,975.7 1259.2,971.3 1259.9,966.9 1260.6,962.6 1261.2,958.2 1261.9,953.9 1262.6,949.6 1263.3,945.3 1264,941.1 1264.6,936.9 1265.3,932.7 1266,928.5 1266.7,924.4 1267.4,920.3 1268,916.2 1268.7,912.2 1269.4,908.3 1270.1,904.3 1270.7,900.5 1271.4,896.6 1272.1,892.9 1272.8,889.2 1273.5,885.5 1274.1,881.9 1274.8,878.3 1275.5,874.8 1276.2,871.4 1276.8,868 1277.5,864.7 1278.2,861.5 1278.9,858.4 1279.6,855.3 1280.2,852.2 1280.9,849.3 1281.6,846.4 1282.3,843.6 1283,840.9 1283.6,838.3 1284.3,835.8 1285,833.3 1285.7,830.9 1286.3,828.6 1287,826.4 1287.7,824.3 1288.4,822.2 1289.1,820.3 1289.7,818.5 1290.4,816.7 1291.1,815 1291.8,813.5 1292.4,812 1293.1,810.6 1293.8,809.3 1294.5,808.1 1295.2,807 1295.8,806 1296.5,805.1 1297.2,804.3 1297.9,803.6 1298.6,803 1299.2,802.5 1299.9,802.2 1300.6,801.9 1301.3,801.7 1301.9,801.6 1302.6,801.6 1303.3,801.7 1304,801.9 1304.7,802.2 1305.3,802.6 1306,803.1 1306.7,803.7 1307.4,804.4 1308,805.2 1308.7,806.2 1309.4,807.2 1310.1,808.3 1310.8,809.5 1311.4,810.8 1312.1,812.2 1312.8,813.6 1313.5,815.2 1314.1,816.9 1314.8,818.7 1315.5,820.5 1316.2,822.5 1316.9,824.5 1317.5,826.6 1318.2,828.8 1318.9,831.1 1319.6,833.5 1320.3,836 1320.9,838.5 1321.6,841.2 1322.3,843.9 1323,846.7 1323.6,849.5 1324.3,852.5 1325,855.5 1325.7,858.6 1326.4,861.7 1327,864.9 1327.7,868.2 1328.4,871.6 1329.1,875 1329.7,878.4 1330.4,882 1331.1,885.6 1331.8,889.2 1332.5,892.9 1333.1,896.7 1333.8,900.5 1334.5,904.3 1335.2,908.2 1335.9,912.1 1336.5,916.1 1337.2,920.1 1337.9,924.2 1338.6,928.3 1339.2,932.4 1339.9,936.5 1340.6,940.7 1341.3,944.9 1342,949.2 1342.6,953.4 1343.3,957.7 1344,962 1344.7,966.3 1345.3,970.6 1346,974.9 1346.7,979.3 1347.4,983.6 1348.1,988 1348.7,992.3 1349.4,996.7 1350.1,1001 1350.8,1005.4 1351.5,1009.7 1352.1,1014 1352.8,1018.3 1353.5,1022.7 1354.2,1026.9 1354.8,1031.2 1355.5,1035.5 1356.2,1039.7 1356.9,1043.9 1357.6,1048.1 1358.2,1052.3 1358.9,1056.4 1359.6,1060.5 1360.3,1064.5 1360.9,1068.6 1361.6,1072.5 1362.3,1076.5 1363,1080.4 1363.7,1084.3 1364.3,1088.1 1365,1091.9 1365.7,1095.6 1366.4,1099.3 1367,1102.9 1367.7,1106.5 1368.4,1110 1369.1,1113.5 1369.8,1116.9 1370.4,1120.2 1371.1,1116.9 1371.8,1113.7 1372.5,1110.5 1373.2,1107.4 1373.8,1104.4 1374.5,1101.4 1375.2,1098.5 1375.9,1095.7 1376.5,1093 1377.2,1090.3 1377.9,1087.7 1378.6,1085.1 1379.3,1082.7 1379.9,1080.3 1380.6,1077.9 1381.3,1075.7 1382,1073.5 1382.6,1071.5 1383.3,1069.5 1384,1067.5 1384.7,1065.7 1385.4,1063.9 1386,1062.2 1386.7,1060.6 1387.4,1059.1 1388.1,1057.6 1388.8,1056.3 1389.4,1055 1390.1,1053.8 1390.8,1052.6 1391.5,1051.6 1392.1,1050.6 1392.8,1049.7 1393.5,1048.9 1394.2,1048.2 1394.9,1047.6 1395.5,1047 1396.2,1046.5 1396.9,1046.1 1397.6,1045.8 1398.2,1045.5 1398.9,1045.4 1399.6,1045.3 1400.3,1045.2 1401,1045.3 1401.6,1045.4 1402.3,1045.6 1403,1045.9 1403.7,1046.2 1404.4,1046.7 1405,1047.1 1405.7,1047.7 1406.4,1048.3 1407.1,1049 1407.7,1049.8 1408.4,1050.6 1409.1,1051.5 1409.8,1052.4 1410.5,1053.4 1411.1,1054.5 1411.8,1055.6 1412.5,1056.7 1413.2,1058 1413.8,1059.2 1414.5,1060.6 1415.2,1061.9 1415.9,1063.4 1416.6,1064.8 1417.2,1066.3 1417.9,1067.9 1418.6,1069.5 1419.3,1071.1 1419.9,1072.8 1420.6,1074.5 1421.3,1076.2 1422,1078 1422.7,1079.7 1423.3,1081.5 1424,1083.4 1424.7,1085.2 1425.4,1087.1 1426.1,1088.9 1426.7,1090.8 1427.4,1092.6 1428.1,1094.5 1428.8,1096.3 1429.4,1098.1 1430.1,1099.9 1430.8,1101.6 1431.5,1103.2 1432.2,1104.7 1432.8,1106 1433.5,1107.1 1434.2,1108 1434.9,1108.5 1435.5,1108.6 1436.2,1108.4 1436.9,1107.8 1437.6,1106.9 1438.3,1105.7 1438.9,1104.4 1439.6,1102.9 1440.3,1101.3 1441,1099.7 1441.7,1097.9 1442.3,1096.2 1443,1094.5 1443.7,1092.7 1444.4,1090.9 1445,1089.2 1445.7,1087.4 1446.4,1085.7 1447.1,1083.9 1447.8,1082.2 1448.4,1080.6 1449.1,1078.9 1449.8,1077.3 1450.5,1075.7 1451.1,1074.2 1451.8,1072.7 1452.5,1071.2 1453.2,1069.8 1453.9,1068.4 1454.5,1067 1455.2,1065.7 1455.9,1064.5 1456.6,1063.2 1457.2,1062.1 1457.9,1061 1458.6,1059.9 1459.3,1058.9 1460,1057.9 1460.6,1057 1461.3,1056.2 1462,1055.4 1462.7,1054.6 1463.4,1054 1464,1053.3 1464.7,1052.8 1465.4,1052.3 1466.1,1051.8 1466.7,1051.4 1467.4,1051.1 1468.1,1050.8 1468.8,1050.6 1469.5,1050.4 1470.1,1050.4 1470.8,1050.3 1471.5,1050.4 1472.2,1050.5 1472.8,1050.6 1473.5,1050.8 1474.2,1051.1 1474.9,1051.4 1475.6,1051.8 1476.2,1052.3 1476.9,1052.8 1477.6,1053.4 1478.3,1054 1479,1054.7 1479.6,1055.5 1480.3,1056.3 1481,1057.1 1481.7,1058.1 1482.3,1059.1 1483,1060.1 1483.7,1061.2 1484.4,1062.3 1485.1,1063.5 1485.7,1064.8 1486.4,1066.1 1487.1,1067.4 1487.8,1068.8 1488.4,1070.2 1489.1,1071.7 1489.8,1073.3 1490.5,1074.9 1491.2,1076.5 1491.8,1078.1 1492.5,1079.9 1493.2,1081.6 1493.9,1083.4 1494.6,1085.2 1495.2,1087.1 1495.9,1088.9 1496.6,1090.9 1497.3,1092.8 1497.9,1094.8 1498.6,1096.8 1499.3,1098.8 1500,1100.9 1500.7,1103 1501.3,1105.1 1502,1107.2 1502.7,1109.3 1503.4,1111.5 1504,1113.6 1504.7,1115.8 1505.4,1118 1506.1,1120.2 1506.8,1118 1507.4,1115.8 1508.1,1113.6 1508.8,1111.4 1509.5,1109.1 1510.1,1106.9 1510.8,1104.7 1511.5,1102.5 1512.2,1100.3 1512.9,1098.2 1513.5,1096 1514.2,1093.8 1514.9,1091.7 1515.6,1089.6 1516.3,1087.4 1516.9,1085.4 1517.6,1083.3 1518.3,1081.3 1519,1079.3 1519.6,1077.3 1520.3,1075.3 1521,1073.4 1521.7,1071.5 1522.4,1069.7 1523,1067.8 1523.7,1066.1 1524.4,1064.3 1525.1,1062.6 1525.7,1061 1526.4,1059.4 1527.1,1057.8 1527.8,1056.3 1528.5,1054.9 1529.1,1053.5 1529.8,1052.1 1530.5,1050.8 1531.2,1049.6 1531.9,1048.4 1532.5,1047.3 1533.2,1046.2 1533.9,1045.2 1534.6,1044.3 1535.2,1043.4 1535.9,1042.6 1536.6,1041.9 1537.3,1041.2 1538,1040.6 1538.6,1040.1 1539.3,1039.6 1540,1039.2 1540.7,1038.9 1541.3,1038.7 1542,1038.5 1542.7,1038.4 1543.4,1038.4 1544.1,1038.5 1544.7,1038.6 1545.4,1038.9 1546.1,1039.2 1546.8,1039.5 1547.5,1040 1548.1,1040.6 1548.8,1041.2 1549.5,1041.9 1550.2,1042.7 1550.8,1043.5 1551.5,1044.5 1552.2,1045.5 1552.9,1046.6 1553.6,1047.8 1554.2,1049.1 1554.9,1050.5 1555.6,1051.9 1556.3,1053.5 1556.9,1055.1 1557.6,1056.8 1558.3,1058.5 1559,1060.4 1559.7,1062.3 1560.3,1064.3 1561,1066.4 1561.7,1068.6 1562.4,1070.8 1563,1073.2 1563.7,1075.6 1564.4,1078.1 1565.1,1080.6 1565.8,1083.2 1566.4,1085.9 1567.1,1088.7 1567.8,1091.6 1568.5,1094.5 1569.2,1097.5 1569.8,1100.5 1570.5,1103.6 1571.2,1106.8 1571.9,1110.1 1572.5,1113.4 1573.2,1116.8 1573.9,1120.2 1574.6,1116.7 1575.3,1113.2 1575.9,1109.6 1576.6,1105.9 1577.3,1102.2 1578,1098.4 1578.6,1094.6 1579.3,1090.7 1580,1086.8 1580.7,1082.9 1581.4,1078.9 1582,1074.9 1582.7,1070.8 1583.4,1066.7 1584.1,1062.5 1584.8,1058.4 1585.4,1054.2 1586.1,1049.9 1586.8,1045.7 1587.5,1041.4 1588.1,1037.1 1588.8,1032.8 1589.5,1028.4 1590.2,1024.1 1590.9,1019.7 1591.5,1015.3 1592.2,1010.9 1592.9,1006.5 1593.6,1002.1 1594.2,997.7 1594.9,993.3 1595.6,988.9 1596.3,984.5 1597,980.1 1597.6,975.7 1598.3,971.3 1599,966.9 1599.7,962.6 1600.3,958.2 1601,953.9 1601.7,949.6 1602.4,945.3 1603.1,941.1 1603.7,936.9 1604.4,932.7 1605.1,928.5 1605.8,924.4 1606.5,920.3 1607.1,916.2 1607.8,912.2 1608.5,908.3 1609.2,904.3 1609.8,900.5 1610.5,896.6 1611.2,892.9 1611.9,889.2 1612.6,885.5 1613.2,881.9 1613.9,878.3 1614.6,874.8 1615.3,871.4 1615.9,868 1616.6,864.7 1617.3,861.5 1618,858.4 1618.7,855.3 1619.3,852.2 1620,849.3 1620.7,846.4 1621.4,843.6 1622.1,840.9 1622.7,838.3 1623.4,835.8 1624.1,833.3 1624.8,830.9 1625.4,828.6 1626.1,826.4 1626.8,824.3 1627.5,822.2 1628.2,820.3 1628.8,818.5 1629.5,816.7 1630.2,815 1630.9,813.5 1631.5,812 1632.2,810.6 1632.9,809.3 1633.6,808.1 1634.3,807 1634.9,806 1635.6,805.1 1636.3,804.3 1637,803.6 1637.7,803 1638.3,802.5 1639,802.2 1639.7,801.9 1640.4,801.7 1641,801.6 1641.7,801.6 1642.4,801.7 1643.1,801.9 1643.8,802.2 1644.4,802.6 1645.1,803.1 1645.8,803.7 1646.5,804.4 1647.1,805.2 1647.8,806.2 1648.5,807.2 1649.2,808.3 1649.9,809.5 1650.5,810.8 1651.2,812.2 1651.9,813.6 1652.6,815.2 1653.2,816.9 1653.9,818.7 1654.6,820.5 1655.3,822.5 1656,824.5 1656.6,826.6 1657.3,828.8 1658,831.1 1658.7,833.5 1659.4,836 1660,838.5 1660.7,841.2 1661.4,843.9 1662.1,846.7 1662.7,849.5 1663.4,852.5 1664.1,855.5 1664.8,858.6 1665.5,861.7 1666.1,864.9 1666.8,868.2 1667.5,871.6 1668.2,875 1668.8,878.4 1669.5,882 1670.2,885.6 1670.9,889.2 1671.6,892.9 1672.2,896.7 1672.9,900.5 1673.6,904.3 1674.3,908.2 1675,912.1 1675.6,916.1 1676.3,920.1 1677,924.2 1677.7,928.3 1678.3,932.4 1679,936.5 1679.7,940.7 1680.4,944.9 1681.1,949.2 1681.7,953.4 1682.4,957.7 1683.1,962 1683.8,966.3 1684.4,970.6 1685.1,974.9 1685.8,979.3 1686.5,983.6 1687.2,988 1687.8,992.3 1688.5,996.7 1689.2,1001 1689.9,1005.4 1690.6,1009.7 1691.2,1014 1691.9,1018.3 1692.6,1022.7 1693.3,1026.9 1693.9,1031.2 1694.6,1035.5 1695.3,1039.7 1696,1043.9 1696.7,1048.1 1697.3,1052.3 1698,1056.4 1698.7,1060.5 1699.4,1064.5 1700,1068.6 1700.7,1072.5 1701.4,1076.5 1702.1,1080.4 1702.8,1084.3 1703.4,1088.1 1704.1,1091.9 1704.8,1095.6 1705.5,1099.3 1706.1,1102.9 1706.8,1106.5 1707.5,1110 1708.2,1113.5 1708.9,1116.9 1709.5,1120.2 1710.2,1116.9 1710.9,1113.7 1711.6,1110.5 1712.3,1107.4 1712.9,1104.4 1713.6,1101.4 1714.3,1098.5 1715,1095.7 1715.6,1093 1716.3,1090.3 1717,1087.7 1717.7,1085.1 1718.4,1082.7 1719,1080.3 1719.7,1077.9 1720.4,1075.7 1721.1,1073.5 1721.7,1071.5 1722.4,1069.5 1723.1,1067.5 1723.8,1065.7 1724.5,1063.9 1725.1,1062.2 1725.8,1060.6 1726.5,1059.1 1727.2,1057.6 1727.9,1056.3 1728.5,1055 1729.2,1053.8 1729.9,1052.6 1730.6,1051.6 1731.2,1050.6 1731.9,1049.7 1732.6,1048.9 1733.3,1048.2 1734,1047.6 1734.6,1047 1735.3,1046.5 1736,1046.1 1736.7,1045.8 1737.3,1045.5 1738,1045.4 1738.7,1045.3 1739.4,1045.2 1740.1,1045.3 1740.7,1045.4 1741.4,1045.6 1742.1,1045.9 1742.8,1046.2 1743.5,1046.7 1744.1,1047.1 1744.8,1047.7 1745.5,1048.3 1746.2,1049 1746.8,1049.8 1747.5,1050.6 1748.2,1051.5 1748.9,1052.4 1749.6,1053.4 1750.2,1054.5 1750.9,1055.6 1751.6,1056.7 1752.3,1058 1752.9,1059.2 1753.6,1060.6 1754.3,1061.9 1755,1063.4 1755.7,1064.8 1756.3,1066.3 1757,1067.9 1757.7,1069.5 1758.4,1071.1 1759,1072.8 1759.7,1074.5 1760.4,1076.2 1761.1,1078 1761.8,1079.7 1762.4,1081.5 1763.1,1083.4 1763.8,1085.2 1764.5,1087.1 1765.2,1088.9 1765.8,1090.8 1766.5,1092.6 1767.2,1094.5 1767.9,1096.3 1768.5,1098.1 1769.2,1099.9 1769.9,1101.6 1770.6,1103.2 1771.3,1104.7 1771.9,1106 1772.6,1107.1 1773.3,1108 1774,1108.5 1774.6,1108.6 1775.3,1108.4 1776,1107.8 1776.7,1106.9 1777.4,1105.7 1778,1104.4 1778.7,1102.9 1779.4,1101.3 1780.1,1099.7 1780.8,1097.9 1781.4,1096.2 1782.1,1094.5 1782.8,1092.7 1783.5,1090.9 1784.1,1089.2 1784.8,1087.4 1785.5,1085.7 1786.2,1083.9 1786.9,1082.2 1787.5,1080.6 1788.2,1078.9 1788.9,1077.3 1789.6,1075.7 1790.2,1074.2 1790.9,1072.7 1791.6,1071.2 1792.3,1069.8 1793,1068.4 1793.6,1067 1794.3,1065.7 1795,1064.5 1795.7,1063.2 1796.3,1062.1 1797,1061 1797.7,1059.9 1798.4,1058.9 1799.1,1057.9 1799.7,1057 1800.4,1056.2 1801.1,1055.4 1801.8,1054.6 1802.5,1054 1803.1,1053.3 1803.8,1052.8 1804.5,1052.3 1805.2,1051.8 1805.8,1051.4 1806.5,1051.1 1807.2,1050.8 1807.9,1050.6 1808.6,1050.4 1809.2,1050.4 1809.9,1050.3 1810.6,1050.4 1811.3,1050.5 1811.9,1050.6 1812.6,1050.8 1813.3,1051.1 1814,1051.4 1814.7,1051.8 1815.3,1052.3 1816,1052.8 1816.7,1053.4 1817.4,1054 1818.1,1054.7 1818.7,1055.5 1819.4,1056.3 1820.1,1057.1 1820.8,1058.1 1821.4,1059.1 1822.1,1060.1 1822.8,1061.2 1823.5,1062.3 1824.2,1063.5 1824.8,1064.8 1825.5,1066.1 1826.2,1067.4 1826.9,1068.8 1827.5,1070.2 1828.2,1071.7 1828.9,1073.3 1829.6,1074.9 1830.3,1076.5 1830.9,1078.1 1831.6,1079.9 1832.3,1081.6 1833,1083.4 1833.7,1085.2 1834.3,1087.1 1835,1088.9 1835.7,1090.9 1836.4,1092.8 1837,1094.8 1837.7,1096.8 1838.4,1098.8 1839.1,1100.9 1839.8,1103 1840.4,1105.1 1841.1,1107.2 1841.8,1109.3 1842.5,1111.5 1843.1,1113.6 1843.8,1115.8 1844.5,1118 1845.2,1120.2 1845.9,1118 1846.5,1115.8 1847.2,1113.6 1847.9,1111.4 1848.6,1109.1 1849.2,1106.9 1849.9,1104.7 1850.6,1102.5 1851.3,1100.3 1852,1098.2 1852.6,1096 1853.3,1093.8 1854,1091.7 1854.7,1089.6 1855.4,1087.4 1856,1085.4 1856.7,1083.3 1857.4,1081.3 1858.1,1079.3 1858.7,1077.3 1859.4,1075.3 1860.1,1073.4 1860.8,1071.5 1861.5,1069.7 1862.1,1067.8 1862.8,1066.1 1863.5,1064.3 1864.2,1062.6 1864.8,1061 1865.5,1059.4 1866.2,1057.8 1866.9,1056.3 1867.6,1054.9 1868.2,1053.5 1868.9,1052.1 1869.6,1050.8 1870.3,1049.6 1871,1048.4 1871.6,1047.3 1872.3,1046.2 1873,1045.2 1873.7,1044.3 1874.3,1043.4 1875,1042.6 1875.7,1041.9 1876.4,1041.2 1877.1,1040.6 1877.7,1040.1 1878.4,1039.6 1879.1,1039.2 1879.8,1038.9 1880.4,1038.7 1881.1,1038.5 1881.8,1038.4 1882.5,1038.4 1883.2,1038.5 1883.8,1038.6 1884.5,1038.9 1885.2,1039.2 1885.9,1039.5 1886.6,1040 1887.2,1040.6 1887.9,1041.2 1888.6,1041.9 1889.3,1042.7 1889.9,1043.5 1890.6,1044.5 1891.3,1045.5 1892,1046.6 1892.7,1047.8 1893.3,1049.1 1894,1050.5 1894.7,1051.9 1895.4,1053.5 1896,1055.1 1896.7,1056.8 1897.4,1058.5 1898.1,1060.4 1898.8,1062.3 1899.4,1064.3 1900.1,1066.4 1900.8,1068.6 1901.5,1070.8 1902.1,1073.2 1902.8,1075.6 1903.5,1078.1 1904.2,1080.6 1904.9,1083.2 1905.5,1085.9 1906.2,1088.7 1906.9,1091.6 1907.6,1094.5 1908.3,1097.5 1908.9,1100.5 1909.6,1103.6 1910.3,1106.8 1911,1110.1 1911.6,1113.4 1912.3,1116.8 1913,1120.2 1913.7,1116.7 1914.4,1113.2 1915,1109.6 1915.7,1105.9 1916.4,1102.2 1917.1,1098.4 1917.7,1094.6 1918.4,1090.7 1919.1,1086.8 1919.8,1082.9 1920.5,1078.9 1921.1,1074.9 1921.8,1070.8 1922.5,1066.7 1923.2,1062.5 1923.9,1058.4 1924.5,1054.2 1925.2,1049.9 1925.9,1045.7 1926.6,1041.4 1927.2,1037.1 1927.9,1032.8 1928.6,1028.4 1929.3,1024.1 1930,1019.7 1930.6,1015.3 1931.3,1010.9 1932,1006.5 1932.7,1002.1 1933.3,997.7 1934,993.3 1934.7,988.9 1935.4,984.5 1936.1,980.1 1936.7,975.7 1937.4,971.3 1938.1,966.9 1938.8,962.6 1939.4,958.2 1940.1,953.9 1940.8,949.6 1941.5,945.3 1942.2,941.1 1942.8,936.9 1943.5,932.7 1944.2,928.5 1944.9,924.4 1945.6,920.3 1946.2,916.2 1946.9,912.2 1947.6,908.3 1948.3,904.3 1948.9,900.5 1949.6,896.6 1950.3,892.9 1951,889.2 1951.7,885.5 1952.3,881.9 1953,878.3 1953.7,874.8 1954.4,871.4 1955,868 1955.7,864.7 1956.4,861.5 1957.1,858.4 1957.8,855.3 1958.4,852.2 1959.1,849.3 1959.8,846.4 1960.5,843.6 1961.2,840.9 1961.8,838.3 1962.5,835.8 1963.2,833.3 1963.9,830.9 1964.5,828.6 1965.2,826.4 1965.9,824.3 1966.6,822.2 1967.3,820.3 1967.9,818.5 1968.6,816.7 1969.3,815 1970,813.5 1970.6,812 1971.3,810.6 1972,809.3 1972.7,808.1 1973.4,807 1974,806 1974.7,805.1 1975.4,804.3 1976.1,803.6 1976.8,803 1977.4,802.5 1978.1,802.2 1978.8,801.9 1979.5,801.7 1980.1,801.6 1980.8,801.6 1981.5,801.7 1982.2,801.9 1982.9,802.2 1983.5,802.6 1984.2,803.1 1984.9,803.7 1985.6,804.4 1986.2,805.2 1986.9,806.2 1987.6,807.2 1988.3,808.3 1989,809.5 1989.6,810.8 1990.3,812.2 1991,813.6 1991.7,815.2 1992.3,816.9 1993,818.7 1993.7,820.5 1994.4,822.5 1995.1,824.5 1995.7,826.6 1996.4,828.8 1997.1,831.1 1997.8,833.5 1998.5,836 1999.1,838.5 1999.8,841.2 2000.5,843.9 2001.2,846.7 2001.8,849.5 2002.5,852.5 2003.2,855.5 2003.9,858.6 2004.6,861.7 2005.2,864.9 2005.9,868.2 2006.6,871.6 2007.3,875 2007.9,878.4 2008.6,882 2009.3,885.6 2010,889.2 2010.7,892.9 2011.3,896.7 2012,900.5 2012.7,904.3 2013.4,908.2 2014.1,912.1 2014.7,916.1 2015.4,920.1 2016.1,924.2 2016.8,928.3 2017.4,932.4 2018.1,936.5 2018.8,940.7 2019.5,944.9 2020.2,949.2 2020.8,953.4 2021.5,957.7 2022.2,962 2022.9,966.3 2023.5,970.6 2024.2,974.9 2024.9,979.3 2025.6,983.6 2026.3,988 2026.9,992.3 2027.6,996.7 2028.3,1001 2029,1005.4 2029.7,1009.7 2030.3,1014 2031,1018.3 2031.7,1022.7 2032.4,1026.9 2033,1031.2 2033.7,1035.5 2034.4,1039.7 2035.1,1043.9 2035.8,1048.1 2036.4,1052.3 2037.1,1056.4 2037.8,1060.5 2038.5,1064.5 2039.1,1068.6 2039.8,1072.5 2040.5,1076.5 2041.2,1080.4 2041.9,1084.3 2042.5,1088.1 2043.2,1091.9 2043.9,1095.6 2044.6,1099.3 2045.2,1102.9 2045.9,1106.5 2046.6,1110 2047.3,1113.5 2048,1116.9 2048.6,1120.2 2049.3,1116.9 2050,1113.7 2050.7,1110.5 2051.4,1107.4 2052,1104.4 2052.7,1101.4 2053.4,1098.5 2054.1,1095.7 2054.7,1093 2055.4,1090.3 2056.1,1087.7 2056.8,1085.1 2057.5,1082.7 2058.1,1080.3 2058.8,1077.9 2059.5,1075.7 2060.2,1073.5 2060.8,1071.5 2061.5,1069.5 2062.2,1067.5 2062.9,1065.7 2063.6,1063.9 2064.2,1062.2 2064.9,1060.6 2065.6,1059.1 2066.3,1057.6 2067,1056.3 2067.6,1055 2068.3,1053.8 2069,1052.6 2069.7,1051.6 2070.3,1050.6 2071,1049.7 2071.7,1048.9 2072.4,1048.2 2073.1,1047.6 2073.7,1047 2074.4,1046.5 2075.1,1046.1 2075.8,1045.8 2076.4,1045.5 2077.1,1045.4 2077.8,1045.3 2078.5,1045.2 2079.2,1045.3 2079.8,1045.4 2080.5,1045.6 2081.2,1045.9 2081.9,1046.2 2082.6,1046.7 2083.2,1047.1 2083.9,1047.7 2084.6,1048.3 2085.3,1049 2085.9,1049.8 2086.6,1050.6 2087.3,1051.5 2088,1052.4 2088.7,1053.4 2089.3,1054.5 2090,1055.6 2090.7,1056.7 2091.4,1058 2092,1059.2 2092.7,1060.6 2093.4,1061.9 2094.1,1063.4 2094.8,1064.8 2095.4,1066.3 2096.1,1067.9 2096.8,1069.5 2097.5,1071.1 2098.1,1072.8 2098.8,1074.5 2099.5,1076.2 2100.2,1078 2100.9,1079.7 2101.5,1081.5 2102.2,1083.4 2102.9,1085.2 2103.6,1087.1 2104.3,1088.9 2104.9,1090.8 2105.6,1092.6 2106.3,1094.5 2107,1096.3 2107.6,1098.1 2108.3,1099.9 2109,1101.6 2109.7,1103.2 2110.4,1104.7 2111,1106 2111.7,1107.1 2112.4,1108 2113.1,1108.5 2113.7,1108.6 2114.4,1108.4 2115.1,1107.8 2115.8,1106.9 2116.5,1105.7" fill="none" stroke="#ff0000" stroke-width="3" stroke-linejoin="round"/>
</g>
<rect x="1032.6" y="714.3" width="1082.6" height="405.9" fill="none" stroke="#262626" stroke-width="3"/>
<path d="M1100.3,714.3v11.5M1100.3,1120.2v-11.5M1167.9,714.3v11.5M1167.9,1120.2v-11.5M1235.6,714.3v11.5M1235.6,1120.2v-11.5M1303.3,714.3v11.5M1303.3,1120.2v-11.5M1370.9,714.3v11.5M1370.9,1120.2v-11.5M1438.6,714.3v11.5M1438.6,1120.2v-11.5M1506.2,714.3v11.5M1506.2,1120.2v-11.5M1573.9,714.3v11.5M1573.9,1120.2v-11.5M1641.6,714.3v11.5M1641.6,1120.2v-11.5M1709.2,714.3v11.5M1709.2,1120.2v-11.5M1776.9,714.3v11.5M1776.9,1120.2v-11.5M1844.5,714.3v11.5M1844.5,1120.2v-11.5M1912.2,714.3v11.5M1912.2,1120.2v-11.5M1979.9,714.3v11.5M1979.9,1120.2v-11.5M2047.5,714.3v11.5M2047.5,1120.2v-11.5M1032.6,917.2h11.5M2115.2,917.2h-11.5" stroke="#262626" stroke-width="3" fill="none"/>
<line x1="1506.2" y1="1120.2" x2="1506.2" y2="863.8" stroke="#3333ff" stroke-width="4.2"/>
<polygon points="1506.2,842.1 1493.9,866.8 1518.5,866.8" fill="#3333ff"/>
<line x1="1573.9" y1="1120.2" x2="1573.9" y2="767.5" stroke="#3333ff" stroke-width="4.2"/>
<polygon points="1573.9,746.9 1561.6,770.5 1586.2,770.5" fill="#3333ff"/>
<line x1="1641.6" y1="1120.2" x2="1641.6" y2="863.8" stroke="#3333ff" stroke-width="4.2"/>
<polygon points="1641.6,842.1 1629.3,866.8 1653.9,866.8" fill="#3333ff"/>
<path d="M1489.2,923.9L1522.2,962.5M1489.2,962.5L1522.2,923.9" stroke="#000" stroke-width="4" stroke-linecap="round" fill="none"/>
<path d="M1556.7,818.4L1591.1,858M1556.7,858L1591.1,818.4" stroke="#000" stroke-width="4" stroke-linecap="round" fill="none"/>
<text x="1030.1" y="1186.9" class="tl" text-anchor="middle">-8</text>
<text x="1097.8" y="1186.9" class="tl" text-anchor="middle">-7</text>
<text x="1165.4" y="1186.9" class="tl" text-anchor="middle">-6</text>
<text x="1233.1" y="1186.9" class="tl" text-anchor="middle">-5</text>
<text x="1300.8" y="1186.9" class="tl" text-anchor="middle">-4</text>
<text x="1368.4" y="1186.9" class="tl" text-anchor="middle">-3</text>
<text x="1436.1" y="1186.9" class="tl" text-anchor="middle">-2</text>
<text x="1503.7" y="1186.9" class="tl" text-anchor="middle">-1</text>
<text x="1573.9" y="1186.9" class="tl" text-anchor="middle">0</text>
<text x="1641.6" y="1186.9" class="tl" text-anchor="middle">1</text>
<text x="1709.2" y="1186.9" class="tl" text-anchor="middle">2</text>
<text x="1776.9" y="1186.9" class="tl" text-anchor="middle">3</text>
<text x="1844.5" y="1186.9" class="tl" text-anchor="middle">4</text>
<text x="1912.2" y="1186.9" class="tl" text-anchor="middle">5</text>
<text x="1979.9" y="1186.9" class="tl" text-anchor="middle">6</text>
<text x="2047.5" y="1186.9" class="tl" text-anchor="middle">7</text>
<text x="2115.2" y="1186.9" class="tl" text-anchor="middle">8</text>
<text x="1012.5" y="1139.5" class="tl" text-anchor="end">0</text>
<text x="1012.5" y="936.5" class="tl" text-anchor="end">2</text>
<text x="1012.5" y="733.6" class="tl" text-anchor="end">4</text>
<text id="b1" x="1055.4" y="796.3" font-size="58.2" class="t" textLength="263.9" lengthAdjust="spacing">5-step PSG</text>
<text id="g1" x="1677" y="815.7" font-size="70" class="t" font-style="italic">G</text>
<text id="s1" x="1725" y="831.3" font-size="40" class="t" font-style="italic">SNR</text>
<text transform="translate(1817.593,818.019) scale(0.784,0.624)" font-size="100" class="t">=</text>
<text id="n1" x="1875.2" y="815.7" font-size="70" class="t" textLength="121.8" lengthAdjust="spacing">4.99</text>
<text id="l1" x="858.2" y="1237.5" font-size="69" class="t" textLength="81.969" lengthAdjust="spacing">(b)</text>
<text transform="translate(1533.404,1230.733) scale(0.631,0.581)" font-size="100" class="t" font-style="italic">ω</text>
<text transform="translate(968.923,1015.937) rotate(-90) scale(0.763,0.861)" font-size="100" class="t">|</text>
<text transform="translate(961.8,1001.137) rotate(-90) scale(0.617,0.577)" font-size="100" class="t" font-style="italic">H</text>
<text transform="translate(965.593,945.369) rotate(-90) scale(0.607,0.738)" font-size="100" class="t">(</text>
<text transform="translate(962.531,920.585) rotate(-90) scale(0.568,0.583)" font-size="100" class="t" font-style="italic">ω</text>
<text transform="translate(965.593,879.057) rotate(-90) scale(0.607,0.738)" font-size="100" class="t">)</text>
<text transform="translate(968.923,862.037) rotate(-90) scale(0.763,0.861)" font-size="100" class="t">|</text>
<defs><clipPath id="clp2"><rect x="1032.6" y="1318.3" width="1082.6" height="405.8"/></clipPath></defs>
<g clip-path="url(#clp2)">
<polygon points="1031.3,1724.1 1031.3,1724.1 1032,1720.7 1032.7,1717.4 1033.4,1714.2 1034.1,1711 1034.7,1707.8 1035.4,1704.8 1036.1,1701.8 1036.8,1698.9 1037.4,1696 1038.1,1693.2 1038.8,1690.5 1039.5,1687.9 1040.2,1685.3 1040.8,1682.8 1041.5,1680.4 1042.2,1678 1042.9,1675.7 1043.5,1673.6 1044.2,1671.4 1044.9,1669.4 1045.6,1667.4 1046.3,1665.6 1046.9,1663.8 1047.6,1662 1048.3,1660.4 1049,1658.8 1049.7,1657.3 1050.3,1655.9 1051,1654.6 1051.7,1653.4 1052.4,1652.2 1053,1651.2 1053.7,1650.2 1054.4,1649.3 1055.1,1648.4 1055.8,1647.7 1056.4,1647 1057.1,1646.4 1057.8,1645.9 1058.5,1645.5 1059.1,1645.1 1059.8,1644.8 1060.5,1644.6 1061.2,1644.5 1061.9,1644.5 1062.5,1644.5 1063.2,1644.6 1063.9,1644.8 1064.6,1645 1065.2,1645.3 1065.9,1645.7 1066.6,1646.2 1067.3,1646.7 1068,1647.3 1068.6,1648 1069.3,1648.8 1070,1649.6 1070.7,1650.4 1071.4,1651.3 1072,1652.3 1072.7,1653.4 1073.4,1654.5 1074.1,1655.7 1074.7,1656.9 1075.4,1658.1 1076.1,1659.5 1076.8,1660.9 1077.5,1662.3 1078.1,1663.8 1078.8,1665.3 1079.5,1666.8 1080.2,1668.5 1080.8,1670.1 1081.5,1671.8 1082.2,1673.5 1082.9,1675.3 1083.6,1677.1 1084.2,1678.9 1084.9,1680.8 1085.6,1682.7 1086.3,1684.6 1087,1686.6 1087.6,1688.6 1088.3,1690.6 1089,1692.6 1089.7,1694.6 1090.3,1696.7 1091,1698.7 1091.7,1700.8 1092.4,1702.9 1093.1,1705 1093.7,1707.1 1094.4,1709.3 1095.1,1711.4 1095.8,1713.5 1096.4,1715.6 1097.1,1717.8 1097.8,1719.9 1098.5,1722 1099.2,1724.1 1099.8,1722 1100.5,1719.9 1101.2,1717.8 1101.9,1715.8 1102.6,1713.7 1103.2,1711.7 1103.9,1709.7 1104.6,1707.7 1105.3,1705.7 1105.9,1703.8 1106.6,1701.9 1107.3,1700 1108,1698.1 1108.7,1696.3 1109.3,1694.5 1110,1692.7 1110.7,1691 1111.4,1689.3 1112,1687.6 1112.7,1686 1113.4,1684.4 1114.1,1682.9 1114.8,1681.4 1115.4,1679.9 1116.1,1678.5 1116.8,1677.1 1117.5,1675.8 1118.1,1674.5 1118.8,1673.3 1119.5,1672.1 1120.2,1671 1120.9,1670 1121.5,1668.9 1122.2,1668 1122.9,1667.1 1123.6,1666.2 1124.3,1665.4 1124.9,1664.7 1125.6,1664 1126.3,1663.4 1127,1662.8 1127.6,1662.3 1128.3,1661.9 1129,1661.5 1129.7,1661.1 1130.4,1660.9 1131,1660.7 1131.7,1660.5 1132.4,1660.4 1133.1,1660.4 1133.7,1660.4 1134.4,1660.5 1135.1,1660.7 1135.8,1660.9 1136.5,1661.1 1137.1,1661.5 1137.8,1661.9 1138.5,1662.3 1139.2,1662.8 1139.9,1663.4 1140.5,1664 1141.2,1664.7 1141.9,1665.4 1142.6,1666.2 1143.2,1667.1 1143.9,1668 1144.6,1668.9 1145.3,1670 1146,1671 1146.6,1672.1 1147.3,1673.3 1148,1674.5 1148.7,1675.8 1149.3,1677.1 1150,1678.5 1150.7,1679.9 1151.4,1681.4 1152.1,1682.9 1152.7,1684.4 1153.4,1686 1154.1,1687.6 1154.8,1689.3 1155.5,1691 1156.1,1692.7 1156.8,1694.5 1157.5,1696.3 1158.2,1698.1 1158.8,1700 1159.5,1701.9 1160.2,1703.8 1160.9,1705.7 1161.6,1707.7 1162.2,1709.7 1162.9,1711.7 1163.6,1713.7 1164.3,1715.8 1164.9,1717.8 1165.6,1719.9 1166.3,1722 1167,1724.1 1167.7,1722 1168.3,1719.9 1169,1717.8 1169.7,1715.6 1170.4,1713.5 1171,1711.4 1171.7,1709.3 1172.4,1707.1 1173.1,1705 1173.8,1702.9 1174.4,1700.8 1175.1,1698.7 1175.8,1696.7 1176.5,1694.6 1177.2,1692.6 1177.8,1690.6 1178.5,1688.6 1179.2,1686.6 1179.9,1684.6 1180.5,1682.7 1181.2,1680.8 1181.9,1678.9 1182.6,1677.1 1183.3,1675.3 1183.9,1673.5 1184.6,1671.8 1185.3,1670.1 1186,1668.5 1186.6,1666.8 1187.3,1665.3 1188,1663.8 1188.7,1662.3 1189.4,1660.9 1190,1659.5 1190.7,1658.1 1191.4,1656.9 1192.1,1655.7 1192.8,1654.5 1193.4,1653.4 1194.1,1652.3 1194.8,1651.3 1195.5,1650.4 1196.1,1649.6 1196.8,1648.8 1197.5,1648 1198.2,1647.3 1198.9,1646.7 1199.5,1646.2 1200.2,1645.7 1200.9,1645.3 1201.6,1645 1202.2,1644.8 1202.9,1644.6 1203.6,1644.5 1204.3,1644.5 1205,1644.5 1205.6,1644.6 1206.3,1644.8 1207,1645.1 1207.7,1645.5 1208.4,1645.9 1209,1646.4 1209.7,1647 1210.4,1647.7 1211.1,1648.4 1211.7,1649.3 1212.4,1650.2 1213.1,1651.2 1213.8,1652.2 1214.5,1653.4 1215.1,1654.6 1215.8,1655.9 1216.5,1657.3 1217.2,1658.8 1217.8,1660.4 1218.5,1662 1219.2,1663.8 1219.9,1665.6 1220.6,1667.4 1221.2,1669.4 1221.9,1671.4 1222.6,1673.6 1223.3,1675.7 1223.9,1678 1224.6,1680.4 1225.3,1682.8 1226,1685.3 1226.7,1687.9 1227.3,1690.5 1228,1693.2 1228.7,1696 1229.4,1698.9 1230.1,1701.8 1230.7,1704.8 1231.4,1707.8 1232.1,1711 1232.8,1714.2 1233.4,1717.4 1234.1,1720.7 1234.8,1724.1 1235.5,1720.7 1236.2,1717.2 1236.8,1713.6 1237.5,1710 1238.2,1706.4 1238.9,1702.7 1239.5,1698.9 1240.2,1695.1 1240.9,1691.3 1241.6,1687.4 1242.3,1683.4 1242.9,1679.4 1243.6,1675.4 1244.3,1671.4 1245,1667.3 1245.7,1663.2 1246.3,1659 1247,1654.8 1247.7,1650.6 1248.4,1646.4 1249,1642.1 1249.7,1637.8 1250.4,1633.5 1251.1,1629.2 1251.8,1624.9 1252.4,1620.5 1253.1,1616.2 1253.8,1611.8 1254.5,1607.4 1255.1,1603 1255.8,1598.7 1256.5,1594.3 1257.2,1589.9 1257.9,1585.5 1258.5,1581.2 1259.2,1576.8 1259.9,1572.5 1260.6,1568.1 1261.2,1563.8 1261.9,1559.5 1262.6,1555.2 1263.3,1551 1264,1546.7 1264.6,1542.5 1265.3,1538.3 1266,1534.2 1266.7,1530.1 1267.4,1526 1268,1521.9 1268.7,1517.9 1269.4,1514 1270.1,1510 1270.7,1506.2 1271.4,1502.3 1272.1,1498.6 1272.8,1494.8 1273.5,1491.1 1274.1,1487.5 1274.8,1484 1275.5,1480.5 1276.2,1477 1276.8,1473.6 1277.5,1470.3 1278.2,1467.1 1278.9,1463.9 1279.6,1460.8 1280.2,1457.7 1280.9,1454.7 1281.6,1451.9 1282.3,1449 1283,1446.3 1283.6,1443.6 1284.3,1441 1285,1438.5 1285.7,1436.1 1286.3,1433.8 1287,1431.5 1287.7,1429.4 1288.4,1427.3 1289.1,1425.3 1289.7,1423.4 1290.4,1421.6 1291.1,1419.9 1291.8,1418.3 1292.4,1416.8 1293.1,1415.3 1293.8,1414 1294.5,1412.7 1295.2,1411.6 1295.8,1410.6 1296.5,1409.6 1297.2,1408.8 1297.9,1408 1298.6,1407.4 1299.2,1406.8 1299.9,1406.4 1300.6,1406 1301.3,1405.7 1301.9,1405.6 1302.6,1405.5 1303.3,1405.6 1304,1405.7 1304.7,1406 1305.3,1406.4 1306,1406.8 1306.7,1407.4 1307.4,1408 1308,1408.8 1308.7,1409.6 1309.4,1410.6 1310.1,1411.6 1310.8,1412.7 1311.4,1414 1312.1,1415.3 1312.8,1416.8 1313.5,1418.3 1314.1,1419.9 1314.8,1421.6 1315.5,1423.4 1316.2,1425.3 1316.9,1427.3 1317.5,1429.4 1318.2,1431.5 1318.9,1433.8 1319.6,1436.1 1320.3,1438.5 1320.9,1441 1321.6,1443.6 1322.3,1446.3 1323,1449 1323.6,1451.9 1324.3,1454.7 1325,1457.7 1325.7,1460.8 1326.4,1463.9 1327,1467.1 1327.7,1470.3 1328.4,1473.6 1329.1,1477 1329.7,1480.5 1330.4,1484 1331.1,1487.5 1331.8,1491.1 1332.5,1494.8 1333.1,1498.6 1333.8,1502.3 1334.5,1506.2 1335.2,1510 1335.9,1514 1336.5,1517.9 1337.2,1521.9 1337.9,1526 1338.6,1530.1 1339.2,1534.2 1339.9,1538.3 1340.6,1542.5 1341.3,1546.7 1342,1551 1342.6,1555.2 1343.3,1559.5 1344,1563.8 1344.7,1568.1 1345.3,1572.5 1346,1576.8 1346.7,1581.2 1347.4,1585.5 1348.1,1589.9 1348.7,1594.3 1349.4,1598.7 1350.1,1603 1350.8,1607.4 1351.5,1611.8 1352.1,1616.2 1352.8,1620.5 1353.5,1624.9 1354.2,1629.2 1354.8,1633.5 1355.5,1637.8 1356.2,1642.1 1356.9,1646.4 1357.6,1650.6 1358.2,1654.8 1358.9,1659 1359.6,1663.2 1360.3,1667.3 1360.9,1671.4 1361.6,1675.4 1362.3,1679.4 1363,1683.4 1363.7,1687.4 1364.3,1691.3 1365,1695.1 1365.7,1698.9 1366.4,1702.7 1367,1706.4 1367.7,1710 1368.4,1713.6 1369.1,1717.2 1369.8,1720.7 1370.4,1724.1 1371.1,1720.7 1371.8,1717.4 1372.5,1714.2 1373.2,1711 1373.8,1707.8 1374.5,1704.8 1375.2,1701.8 1375.9,1698.9 1376.5,1696 1377.2,1693.2 1377.9,1690.5 1378.6,1687.9 1379.3,1685.3 1379.9,1682.8 1380.6,1680.4 1381.3,1678 1382,1675.7 1382.6,1673.6 1383.3,1671.4 1384,1669.4 1384.7,1667.4 1385.4,1665.6 1386,1663.8 1386.7,1662 1387.4,1660.4 1388.1,1658.8 1388.8,1657.3 1389.4,1655.9 1390.1,1654.6 1390.8,1653.4 1391.5,1652.2 1392.1,1651.2 1392.8,1650.2 1393.5,1649.3 1394.2,1648.4 1394.9,1647.7 1395.5,1647 1396.2,1646.4 1396.9,1645.9 1397.6,1645.5 1398.2,1645.1 1398.9,1644.8 1399.6,1644.6 1400.3,1644.5 1401,1644.5 1401.6,1644.5 1402.3,1644.6 1403,1644.8 1403.7,1645 1404.4,1645.3 1405,1645.7 1405.7,1646.2 1406.4,1646.7 1407.1,1647.3 1407.7,1648 1408.4,1648.8 1409.1,1649.6 1409.8,1650.4 1410.5,1651.3 1411.1,1652.3 1411.8,1653.4 1412.5,1654.5 1413.2,1655.7 1413.8,1656.9 1414.5,1658.1 1415.2,1659.5 1415.9,1660.9 1416.6,1662.3 1417.2,1663.8 1417.9,1665.3 1418.6,1666.8 1419.3,1668.5 1419.9,1670.1 1420.6,1671.8 1421.3,1673.5 1422,1675.3 1422.7,1677.1 1423.3,1678.9 1424,1680.8 1424.7,1682.7 1425.4,1684.6 1426.1,1686.6 1426.7,1688.6 1427.4,1690.6 1428.1,1692.6 1428.8,1694.6 1429.4,1696.7 1430.1,1698.7 1430.8,1700.8 1431.5,1702.9 1432.2,1705 1432.8,1707.1 1433.5,1709.3 1434.2,1711.4 1434.9,1713.5 1435.5,1715.6 1436.2,1717.8 1436.9,1719.9 1437.6,1722 1438.3,1724.1 1438.9,1722 1439.6,1719.9 1440.3,1717.8 1441,1715.8 1441.7,1713.7 1442.3,1711.7 1443,1709.7 1443.7,1707.7 1444.4,1705.7 1445,1703.8 1445.7,1701.9 1446.4,1700 1447.1,1698.1 1447.8,1696.3 1448.4,1694.5 1449.1,1692.7 1449.8,1691 1450.5,1689.3 1451.1,1687.6 1451.8,1686 1452.5,1684.4 1453.2,1682.9 1453.9,1681.4 1454.5,1679.9 1455.2,1678.5 1455.9,1677.1 1456.6,1675.8 1457.2,1674.5 1457.9,1673.3 1458.6,1672.1 1459.3,1671 1460,1670 1460.6,1668.9 1461.3,1668 1462,1667.1 1462.7,1666.2 1463.4,1665.4 1464,1664.7 1464.7,1664 1465.4,1663.4 1466.1,1662.8 1466.7,1662.3 1467.4,1661.9 1468.1,1661.5 1468.8,1661.1 1469.5,1660.9 1470.1,1660.7 1470.8,1660.5 1471.5,1660.4 1472.2,1660.4 1472.8,1660.4 1473.5,1660.5 1474.2,1660.7 1474.9,1660.9 1475.6,1661.1 1476.2,1661.5 1476.9,1661.9 1477.6,1662.3 1478.3,1662.8 1479,1663.4 1479.6,1664 1480.3,1664.7 1481,1665.4 1481.7,1666.2 1482.3,1667.1 1483,1668 1483.7,1668.9 1484.4,1670 1485.1,1671 1485.7,1672.1 1486.4,1673.3 1487.1,1674.5 1487.8,1675.8 1488.4,1677.1 1489.1,1678.5 1489.8,1679.9 1490.5,1681.4 1491.2,1682.9 1491.8,1684.4 1492.5,1686 1493.2,1687.6 1493.9,1689.3 1494.6,1691 1495.2,1692.7 1495.9,1694.5 1496.6,1696.3 1497.3,1698.1 1497.9,1700 1498.6,1701.9 1499.3,1703.8 1500,1705.7 1500.7,1707.7 1501.3,1709.7 1502,1711.7 1502.7,1713.7 1503.4,1715.8 1504,1717.8 1504.7,1719.9 1505.4,1722 1506.1,1724.1 1506.8,1722 1507.4,1719.9 1508.1,1717.8 1508.8,1715.6 1509.5,1713.5 1510.1,1711.4 1510.8,1709.3 1511.5,1707.1 1512.2,1705 1512.9,1702.9 1513.5,1700.8 1514.2,1698.7 1514.9,1696.7 1515.6,1694.6 1516.3,1692.6 1516.9,1690.6 1517.6,1688.6 1518.3,1686.6 1519,1684.6 1519.6,1682.7 1520.3,1680.8 1521,1678.9 1521.7,1677.1 1522.4,1675.3 1523,1673.5 1523.7,1671.8 1524.4,1670.1 1525.1,1668.5 1525.7,1666.8 1526.4,1665.3 1527.1,1663.8 1527.8,1662.3 1528.5,1660.9 1529.1,1659.5 1529.8,1658.1 1530.5,1656.9 1531.2,1655.7 1531.9,1654.5 1532.5,1653.4 1533.2,1652.3 1533.9,1651.3 1534.6,1650.4 1535.2,1649.6 1535.9,1648.8 1536.6,1648 1537.3,1647.3 1538,1646.7 1538.6,1646.2 1539.3,1645.7 1540,1645.3 1540.7,1645 1541.3,1644.8 1542,1644.6 1542.7,1644.5 1543.4,1644.5 1544.1,1644.5 1544.7,1644.6 1545.4,1644.8 1546.1,1645.1 1546.8,1645.5 1547.5,1645.9 1548.1,1646.4 1548.8,1647 1549.5,1647.7 1550.2,1648.4 1550.8,1649.3 1551.5,1650.2 1552.2,1651.2 1552.9,1652.2 1553.6,1653.4 1554.2,1654.6 1554.9,1655.9 1555.6,1657.3 1556.3,1658.8 1556.9,1660.4 1557.6,1662 1558.3,1663.8 1559,1665.6 1559.7,1667.4 1560.3,1669.4 1561,1671.4 1561.7,1673.6 1562.4,1675.7 1563,1678 1563.7,1680.4 1564.4,1682.8 1565.1,1685.3 1565.8,1687.9 1566.4,1690.5 1567.1,1693.2 1567.8,1696 1568.5,1698.9 1569.2,1701.8 1569.8,1704.8 1570.5,1707.8 1571.2,1711 1571.9,1714.2 1572.5,1717.4 1573.2,1720.7 1573.9,1724.1 1574.6,1720.7 1575.3,1717.2 1575.9,1713.6 1576.6,1710 1577.3,1706.4 1578,1702.7 1578.6,1698.9 1579.3,1695.1 1580,1691.3 1580.7,1687.4 1581.4,1683.4 1582,1679.4 1582.7,1675.4 1583.4,1671.4 1584.1,1667.3 1584.8,1663.2 1585.4,1659 1586.1,1654.8 1586.8,1650.6 1587.5,1646.4 1588.1,1642.1 1588.8,1637.8 1589.5,1633.5 1590.2,1629.2 1590.9,1624.9 1591.5,1620.5 1592.2,1616.2 1592.9,1611.8 1593.6,1607.4 1594.2,1603 1594.9,1598.7 1595.6,1594.3 1596.3,1589.9 1597,1585.5 1597.6,1581.2 1598.3,1576.8 1599,1572.5 1599.7,1568.1 1600.3,1563.8 1601,1559.5 1601.7,1555.2 1602.4,1551 1603.1,1546.7 1603.7,1542.5 1604.4,1538.3 1605.1,1534.2 1605.8,1530.1 1606.5,1526 1607.1,1521.9 1607.8,1517.9 1608.5,1514 1609.2,1510 1609.8,1506.2 1610.5,1502.3 1611.2,1498.6 1611.9,1494.8 1612.6,1491.1 1613.2,1487.5 1613.9,1484 1614.6,1480.5 1615.3,1477 1615.9,1473.6 1616.6,1470.3 1617.3,1467.1 1618,1463.9 1618.7,1460.8 1619.3,1457.7 1620,1454.7 1620.7,1451.9 1621.4,1449 1622.1,1446.3 1622.7,1443.6 1623.4,1441 1624.1,1438.5 1624.8,1436.1 1625.4,1433.8 1626.1,1431.5 1626.8,1429.4 1627.5,1427.3 1628.2,1425.3 1628.8,1423.4 1629.5,1421.6 1630.2,1419.9 1630.9,1418.3 1631.5,1416.8 1632.2,1415.3 1632.9,1414 1633.6,1412.7 1634.3,1411.6 1634.9,1410.6 1635.6,1409.6 1636.3,1408.8 1637,1408 1637.7,1407.4 1638.3,1406.8 1639,1406.4 1639.7,1406 1640.4,1405.7 1641,1405.6 1641.7,1405.5 1642.4,1405.6 1643.1,1405.7 1643.8,1406 1644.4,1406.4 1645.1,1406.8 1645.8,1407.4 1646.5,1408 1647.1,1408.8 1647.8,1409.6 1648.5,1410.6 1649.2,1411.6 1649.9,1412.7 1650.5,1414 1651.2,1415.3 1651.9,1416.8 1652.6,1418.3 1653.2,1419.9 1653.9,1421.6 1654.6,1423.4 1655.3,1425.3 1656,1427.3 1656.6,1429.4 1657.3,1431.5 1658,1433.8 1658.7,1436.1 1659.4,1438.5 1660,1441 1660.7,1443.6 1661.4,1446.3 1662.1,1449 1662.7,1451.9 1663.4,1454.7 1664.1,1457.7 1664.8,1460.8 1665.5,1463.9 1666.1,1467.1 1666.8,1470.3 1667.5,1473.6 1668.2,1477 1668.8,1480.5 1669.5,1484 1670.2,1487.5 1670.9,1491.1 1671.6,1494.8 1672.2,1498.6 1672.9,1502.3 1673.6,1506.2 1674.3,1510 1675,1514 1675.6,1517.9 1676.3,1521.9 1677,1526 1677.7,1530.1 1678.3,1534.2 1679,1538.3 1679.7,1542.5 1680.4,1546.7 1681.1,1551 1681.7,1555.2 1682.4,1559.5 1683.1,1563.8 1683.8,1568.1 1684.4,1572.5 1685.1,1576.8 1685.8,1581.2 1686.5,1585.5 1687.2,1589.9 1687.8,1594.3 1688.5,1598.7 1689.2,1603 1689.9,1607.4 1690.6,1611.8 1691.2,1616.2 1691.9,1620.5 1692.6,1624.9 1693.3,1629.2 1693.9,1633.5 1694.6,1637.8 1695.3,1642.1 1696,1646.4 1696.7,1650.6 1697.3,1654.8 1698,1659 1698.7,1663.2 1699.4,1667.3 1700,1671.4 1700.7,1675.4 1701.4,1679.4 1702.1,1683.4 1702.8,1687.4 1703.4,1691.3 1704.1,1695.1 1704.8,1698.9 1705.5,1702.7 1706.1,1706.4 1706.8,1710 1707.5,1713.6 1708.2,1717.2 1708.9,1720.7 1709.5,1724.1 1710.2,1720.7 1710.9,1717.4 1711.6,1714.2 1712.3,1711 1712.9,1707.8 1713.6,1704.8 1714.3,1701.8 1715,1698.9 1715.6,1696 1716.3,1693.2 1717,1690.5 1717.7,1687.9 1718.4,1685.3 1719,1682.8 1719.7,1680.4 1720.4,1678 1721.1,1675.7 1721.7,1673.6 1722.4,1671.4 1723.1,1669.4 1723.8,1667.4 1724.5,1665.6 1725.1,1663.8 1725.8,1662 1726.5,1660.4 1727.2,1658.8 1727.9,1657.3 1728.5,1655.9 1729.2,1654.6 1729.9,1653.4 1730.6,1652.2 1731.2,1651.2 1731.9,1650.2 1732.6,1649.3 1733.3,1648.4 1734,1647.7 1734.6,1647 1735.3,1646.4 1736,1645.9 1736.7,1645.5 1737.3,1645.1 1738,1644.8 1738.7,1644.6 1739.4,1644.5 1740.1,1644.5 1740.7,1644.5 1741.4,1644.6 1742.1,1644.8 1742.8,1645 1743.5,1645.3 1744.1,1645.7 1744.8,1646.2 1745.5,1646.7 1746.2,1647.3 1746.8,1648 1747.5,1648.8 1748.2,1649.6 1748.9,1650.4 1749.6,1651.3 1750.2,1652.3 1750.9,1653.4 1751.6,1654.5 1752.3,1655.7 1752.9,1656.9 1753.6,1658.1 1754.3,1659.5 1755,1660.9 1755.7,1662.3 1756.3,1663.8 1757,1665.3 1757.7,1666.8 1758.4,1668.5 1759,1670.1 1759.7,1671.8 1760.4,1673.5 1761.1,1675.3 1761.8,1677.1 1762.4,1678.9 1763.1,1680.8 1763.8,1682.7 1764.5,1684.6 1765.2,1686.6 1765.8,1688.6 1766.5,1690.6 1767.2,1692.6 1767.9,1694.6 1768.5,1696.7 1769.2,1698.7 1769.9,1700.8 1770.6,1702.9 1771.3,1705 1771.9,1707.1 1772.6,1709.3 1773.3,1711.4 1774,1713.5 1774.6,1715.6 1775.3,1717.8 1776,1719.9 1776.7,1722 1777.4,1724.1 1778,1722 1778.7,1719.9 1779.4,1717.8 1780.1,1715.8 1780.8,1713.7 1781.4,1711.7 1782.1,1709.7 1782.8,1707.7 1783.5,1705.7 1784.1,1703.8 1784.8,1701.9 1785.5,1700 1786.2,1698.1 1786.9,1696.3 1787.5,1694.5 1788.2,1692.7 1788.9,1691 1789.6,1689.3 1790.2,1687.6 1790.9,1686 1791.6,1684.4 1792.3,1682.9 1793,1681.4 1793.6,1679.9 1794.3,1678.5 1795,1677.1 1795.7,1675.8 1796.3,1674.5 1797,1673.3 1797.7,1672.1 1798.4,1671 1799.1,1670 1799.7,1668.9 1800.4,1668 1801.1,1667.1 1801.8,1666.2 1802.5,1665.4 1803.1,1664.7 1803.8,1664 1804.5,1663.4 1805.2,1662.8 1805.8,1662.3 1806.5,1661.9 1807.2,1661.5 1807.9,1661.1 1808.6,1660.9 1809.2,1660.7 1809.9,1660.5 1810.6,1660.4 1811.3,1660.4 1811.9,1660.4 1812.6,1660.5 1813.3,1660.7 1814,1660.9 1814.7,1661.1 1815.3,1661.5 1816,1661.9 1816.7,1662.3 1817.4,1662.8 1818.1,1663.4 1818.7,1664 1819.4,1664.7 1820.1,1665.4 1820.8,1666.2 1821.4,1667.1 1822.1,1668 1822.8,1668.9 1823.5,1670 1824.2,1671 1824.8,1672.1 1825.5,1673.3 1826.2,1674.5 1826.9,1675.8 1827.5,1677.1 1828.2,1678.5 1828.9,1679.9 1829.6,1681.4 1830.3,1682.9 1830.9,1684.4 1831.6,1686 1832.3,1687.6 1833,1689.3 1833.7,1691 1834.3,1692.7 1835,1694.5 1835.7,1696.3 1836.4,1698.1 1837,1700 1837.7,1701.9 1838.4,1703.8 1839.1,1705.7 1839.8,1707.7 1840.4,1709.7 1841.1,1711.7 1841.8,1713.7 1842.5,1715.8 1843.1,1717.8 1843.8,1719.9 1844.5,1722 1845.2,1724.1 1845.9,1722 1846.5,1719.9 1847.2,1717.8 1847.9,1715.6 1848.6,1713.5 1849.2,1711.4 1849.9,1709.3 1850.6,1707.1 1851.3,1705 1852,1702.9 1852.6,1700.8 1853.3,1698.7 1854,1696.7 1854.7,1694.6 1855.4,1692.6 1856,1690.6 1856.7,1688.6 1857.4,1686.6 1858.1,1684.6 1858.7,1682.7 1859.4,1680.8 1860.1,1678.9 1860.8,1677.1 1861.5,1675.3 1862.1,1673.5 1862.8,1671.8 1863.5,1670.1 1864.2,1668.5 1864.8,1666.8 1865.5,1665.3 1866.2,1663.8 1866.9,1662.3 1867.6,1660.9 1868.2,1659.5 1868.9,1658.1 1869.6,1656.9 1870.3,1655.7 1871,1654.5 1871.6,1653.4 1872.3,1652.3 1873,1651.3 1873.7,1650.4 1874.3,1649.6 1875,1648.8 1875.7,1648 1876.4,1647.3 1877.1,1646.7 1877.7,1646.2 1878.4,1645.7 1879.1,1645.3 1879.8,1645 1880.4,1644.8 1881.1,1644.6 1881.8,1644.5 1882.5,1644.5 1883.2,1644.5 1883.8,1644.6 1884.5,1644.8 1885.2,1645.1 1885.9,1645.5 1886.6,1645.9 1887.2,1646.4 1887.9,1647 1888.6,1647.7 1889.3,1648.4 1889.9,1649.3 1890.6,1650.2 1891.3,1651.2 1892,1652.2 1892.7,1653.4 1893.3,1654.6 1894,1655.9 1894.7,1657.3 1895.4,1658.8 1896,1660.4 1896.7,1662 1897.4,1663.8 1898.1,1665.6 1898.8,1667.4 1899.4,1669.4 1900.1,1671.4 1900.8,1673.6 1901.5,1675.7 1902.1,1678 1902.8,1680.4 1903.5,1682.8 1904.2,1685.3 1904.9,1687.9 1905.5,1690.5 1906.2,1693.2 1906.9,1696 1907.6,1698.9 1908.3,1701.8 1908.9,1704.8 1909.6,1707.8 1910.3,1711 1911,1714.2 1911.6,1717.4 1912.3,1720.7 1913,1724.1 1913.7,1720.7 1914.4,1717.2 1915,1713.6 1915.7,1710 1916.4,1706.4 1917.1,1702.7 1917.7,1698.9 1918.4,1695.1 1919.1,1691.3 1919.8,1687.4 1920.5,1683.4 1921.1,1679.4 1921.8,1675.4 1922.5,1671.4 1923.2,1667.3 1923.9,1663.2 1924.5,1659 1925.2,1654.8 1925.9,1650.6 1926.6,1646.4 1927.2,1642.1 1927.9,1637.8 1928.6,1633.5 1929.3,1629.2 1930,1624.9 1930.6,1620.5 1931.3,1616.2 1932,1611.8 1932.7,1607.4 1933.3,1603 1934,1598.7 1934.7,1594.3 1935.4,1589.9 1936.1,1585.5 1936.7,1581.2 1937.4,1576.8 1938.1,1572.5 1938.8,1568.1 1939.4,1563.8 1940.1,1559.5 1940.8,1555.2 1941.5,1551 1942.2,1546.7 1942.8,1542.5 1943.5,1538.3 1944.2,1534.2 1944.9,1530.1 1945.6,1526 1946.2,1521.9 1946.9,1517.9 1947.6,1514 1948.3,1510 1948.9,1506.2 1949.6,1502.3 1950.3,1498.6 1951,1494.8 1951.7,1491.1 1952.3,1487.5 1953,1484 1953.7,1480.5 1954.4,1477 1955,1473.6 1955.7,1470.3 1956.4,1467.1 1957.1,1463.9 1957.8,1460.8 1958.4,1457.7 1959.1,1454.7 1959.8,1451.9 1960.5,1449 1961.2,1446.3 1961.8,1443.6 1962.5,1441 1963.2,1438.5 1963.9,1436.1 1964.5,1433.8 1965.2,1431.5 1965.9,1429.4 1966.6,1427.3 1967.3,1425.3 1967.9,1423.4 1968.6,1421.6 1969.3,1419.9 1970,1418.3 1970.6,1416.8 1971.3,1415.3 1972,1414 1972.7,1412.7 1973.4,1411.6 1974,1410.6 1974.7,1409.6 1975.4,1408.8 1976.1,1408 1976.8,1407.4 1977.4,1406.8 1978.1,1406.4 1978.8,1406 1979.5,1405.7 1980.1,1405.6 1980.8,1405.5 1981.5,1405.6 1982.2,1405.7 1982.9,1406 1983.5,1406.4 1984.2,1406.8 1984.9,1407.4 1985.6,1408 1986.2,1408.8 1986.9,1409.6 1987.6,1410.6 1988.3,1411.6 1989,1412.7 1989.6,1414 1990.3,1415.3 1991,1416.8 1991.7,1418.3 1992.3,1419.9 1993,1421.6 1993.7,1423.4 1994.4,1425.3 1995.1,1427.3 1995.7,1429.4 1996.4,1431.5 1997.1,1433.8 1997.8,1436.1 1998.5,1438.5 1999.1,1441 1999.8,1443.6 2000.5,1446.3 2001.2,1449 2001.8,1451.9 2002.5,1454.7 2003.2,1457.7 2003.9,1460.8 2004.6,1463.9 2005.2,1467.1 2005.9,1470.3 2006.6,1473.6 2007.3,1477 2007.9,1480.5 2008.6,1484 2009.3,1487.5 2010,1491.1 2010.7,1494.8 2011.3,1498.6 2012,1502.3 2012.7,1506.2 2013.4,1510 2014.1,1514 2014.7,1517.9 2015.4,1521.9 2016.1,1526 2016.8,1530.1 2017.4,1534.2 2018.1,1538.3 2018.8,1542.5 2019.5,1546.7 2020.2,1551 2020.8,1555.2 2021.5,1559.5 2022.2,1563.8 2022.9,1568.1 2023.5,1572.5 2024.2,1576.8 2024.9,1581.2 2025.6,1585.5 2026.3,1589.9 2026.9,1594.3 2027.6,1598.7 2028.3,1603 2029,1607.4 2029.7,1611.8 2030.3,1616.2 2031,1620.5 2031.7,1624.9 2032.4,1629.2 2033,1633.5 2033.7,1637.8 2034.4,1642.1 2035.1,1646.4 2035.8,1650.6 2036.4,1654.8 2037.1,1659 2037.8,1663.2 2038.5,1667.3 2039.1,1671.4 2039.8,1675.4 2040.5,1679.4 2041.2,1683.4 2041.9,1687.4 2042.5,1691.3 2043.2,1695.1 2043.9,1698.9 2044.6,1702.7 2045.2,1706.4 2045.9,1710 2046.6,1713.6 2047.3,1717.2 2048,1720.7 2048.6,1724.1 2049.3,1720.7 2050,1717.4 2050.7,1714.2 2051.4,1711 2052,1707.8 2052.7,1704.8 2053.4,1701.8 2054.1,1698.9 2054.7,1696 2055.4,1693.2 2056.1,1690.5 2056.8,1687.9 2057.5,1685.3 2058.1,1682.8 2058.8,1680.4 2059.5,1678 2060.2,1675.7 2060.8,1673.6 2061.5,1671.4 2062.2,1669.4 2062.9,1667.4 2063.6,1665.6 2064.2,1663.8 2064.9,1662 2065.6,1660.4 2066.3,1658.8 2067,1657.3 2067.6,1655.9 2068.3,1654.6 2069,1653.4 2069.7,1652.2 2070.3,1651.2 2071,1650.2 2071.7,1649.3 2072.4,1648.4 2073.1,1647.7 2073.7,1647 2074.4,1646.4 2075.1,1645.9 2075.8,1645.5 2076.4,1645.1 2077.1,1644.8 2077.8,1644.6 2078.5,1644.5 2079.2,1644.5 2079.8,1644.5 2080.5,1644.6 2081.2,1644.8 2081.9,1645 2082.6,1645.3 2083.2,1645.7 2083.9,1646.2 2084.6,1646.7 2085.3,1647.3 2085.9,1648 2086.6,1648.8 2087.3,1649.6 2088,1650.4 2088.7,1651.3 2089.3,1652.3 2090,1653.4 2090.7,1654.5 2091.4,1655.7 2092,1656.9 2092.7,1658.1 2093.4,1659.5 2094.1,1660.9 2094.8,1662.3 2095.4,1663.8 2096.1,1665.3 2096.8,1666.8 2097.5,1668.5 2098.1,1670.1 2098.8,1671.8 2099.5,1673.5 2100.2,1675.3 2100.9,1677.1 2101.5,1678.9 2102.2,1680.8 2102.9,1682.7 2103.6,1684.6 2104.3,1686.6 2104.9,1688.6 2105.6,1690.6 2106.3,1692.6 2107,1694.6 2107.6,1696.7 2108.3,1698.7 2109,1700.8 2109.7,1702.9 2110.4,1705 2111,1707.1 2111.7,1709.3 2112.4,1711.4 2113.1,1713.5 2113.7,1715.6 2114.4,1717.8 2115.1,1719.9 2115.8,1722 2116.5,1724.1 2116.5,1724.1" fill="#38ff90"/>
<polyline points="1031.3,1724.1 1032,1720.7 1032.7,1717.4 1033.4,1714.2 1034.1,1711 1034.7,1707.8 1035.4,1704.8 1036.1,1701.8 1036.8,1698.9 1037.4,1696 1038.1,1693.2 1038.8,1690.5 1039.5,1687.9 1040.2,1685.3 1040.8,1682.8 1041.5,1680.4 1042.2,1678 1042.9,1675.7 1043.5,1673.6 1044.2,1671.4 1044.9,1669.4 1045.6,1667.4 1046.3,1665.6 1046.9,1663.8 1047.6,1662 1048.3,1660.4 1049,1658.8 1049.7,1657.3 1050.3,1655.9 1051,1654.6 1051.7,1653.4 1052.4,1652.2 1053,1651.2 1053.7,1650.2 1054.4,1649.3 1055.1,1648.4 1055.8,1647.7 1056.4,1647 1057.1,1646.4 1057.8,1645.9 1058.5,1645.5 1059.1,1645.1 1059.8,1644.8 1060.5,1644.6 1061.2,1644.5 1061.9,1644.5 1062.5,1644.5 1063.2,1644.6 1063.9,1644.8 1064.6,1645 1065.2,1645.3 1065.9,1645.7 1066.6,1646.2 1067.3,1646.7 1068,1647.3 1068.6,1648 1069.3,1648.8 1070,1649.6 1070.7,1650.4 1071.4,1651.3 1072,1652.3 1072.7,1653.4 1073.4,1654.5 1074.1,1655.7 1074.7,1656.9 1075.4,1658.1 1076.1,1659.5 1076.8,1660.9 1077.5,1662.3 1078.1,1663.8 1078.8,1665.3 1079.5,1666.8 1080.2,1668.5 1080.8,1670.1 1081.5,1671.8 1082.2,1673.5 1082.9,1675.3 1083.6,1677.1 1084.2,1678.9 1084.9,1680.8 1085.6,1682.7 1086.3,1684.6 1087,1686.6 1087.6,1688.6 1088.3,1690.6 1089,1692.6 1089.7,1694.6 1090.3,1696.7 1091,1698.7 1091.7,1700.8 1092.4,1702.9 1093.1,1705 1093.7,1707.1 1094.4,1709.3 1095.1,1711.4 1095.8,1713.5 1096.4,1715.6 1097.1,1717.8 1097.8,1719.9 1098.5,1722 1099.2,1724.1 1099.8,1722 1100.5,1719.9 1101.2,1717.8 1101.9,1715.8 1102.6,1713.7 1103.2,1711.7 1103.9,1709.7 1104.6,1707.7 1105.3,1705.7 1105.9,1703.8 1106.6,1701.9 1107.3,1700 1108,1698.1 1108.7,1696.3 1109.3,1694.5 1110,1692.7 1110.7,1691 1111.4,1689.3 1112,1687.6 1112.7,1686 1113.4,1684.4 1114.1,1682.9 1114.8,1681.4 1115.4,1679.9 1116.1,1678.5 1116.8,1677.1 1117.5,1675.8 1118.1,1674.5 1118.8,1673.3 1119.5,1672.1 1120.2,1671 1120.9,1670 1121.5,1668.9 1122.2,1668 1122.9,1667.1 1123.6,1666.2 1124.3,1665.4 1124.9,1664.7 1125.6,1664 1126.3,1663.4 1127,1662.8 1127.6,1662.3 1128.3,1661.9 1129,1661.5 1129.7,1661.1 1130.4,1660.9 1131,1660.7 1131.7,1660.5 1132.4,1660.4 1133.1,1660.4 1133.7,1660.4 1134.4,1660.5 1135.1,1660.7 1135.8,1660.9 1136.5,1661.1 1137.1,1661.5 1137.8,1661.9 1138.5,1662.3 1139.2,1662.8 1139.9,1663.4 1140.5,1664 1141.2,1664.7 1141.9,1665.4 1142.6,1666.2 1143.2,1667.1 1143.9,1668 1144.6,1668.9 1145.3,1670 1146,1671 1146.6,1672.1 1147.3,1673.3 1148,1674.5 1148.7,1675.8 1149.3,1677.1 1150,1678.5 1150.7,1679.9 1151.4,1681.4 1152.1,1682.9 1152.7,1684.4 1153.4,1686 1154.1,1687.6 1154.8,1689.3 1155.5,1691 1156.1,1692.7 1156.8,1694.5 1157.5,1696.3 1158.2,1698.1 1158.8,1700 1159.5,1701.9 1160.2,1703.8 1160.9,1705.7 1161.6,1707.7 1162.2,1709.7 1162.9,1711.7 1163.6,1713.7 1164.3,1715.8 1164.9,1717.8 1165.6,1719.9 1166.3,1722 1167,1724.1 1167.7,1722 1168.3,1719.9 1169,1717.8 1169.7,1715.6 1170.4,1713.5 1171,1711.4 1171.7,1709.3 1172.4,1707.1 1173.1,1705 1173.8,1702.9 1174.4,1700.8 1175.1,1698.7 1175.8,1696.7 1176.5,1694.6 1177.2,1692.6 1177.8,1690.6 1178.5,1688.6 1179.2,1686.6 1179.9,1684.6 1180.5,1682.7 1181.2,1680.8 1181.9,1678.9 1182.6,1677.1 1183.3,1675.3 1183.9,1673.5 1184.6,1671.8 1185.3,1670.1 1186,1668.5 1186.6,1666.8 1187.3,1665.3 1188,1663.8 1188.7,1662.3 1189.4,1660.9 1190,1659.5 1190.7,1658.1 1191.4,1656.9 1192.1,1655.7 1192.8,1654.5 1193.4,1653.4 1194.1,1652.3 1194.8,1651.3 1195.5,1650.4 1196.1,1649.6 1196.8,1648.8 1197.5,1648 1198.2,1647.3 1198.9,1646.7 1199.5,1646.2 1200.2,1645.7 1200.9,1645.3 1201.6,1645 1202.2,1644.8 1202.9,1644.6 1203.6,1644.5 1204.3,1644.5 1205,1644.5 1205.6,1644.6 1206.3,1644.8 1207,1645.1 1207.7,1645.5 1208.4,1645.9 1209,1646.4 1209.7,1647 1210.4,1647.7 1211.1,1648.4 1211.7,1649.3 1212.4,1650.2 1213.1,1651.2 1213.8,1652.2 1214.5,1653.4 1215.1,1654.6 1215.8,1655.9 1216.5,1657.3 1217.2,1658.8 1217.8,1660.4 1218.5,1662 1219.2,1663.8 1219.9,1665.6 1220.6,1667.4 1221.2,1669.4 1221.9,1671.4 1222.6,1673.6 1223.3,1675.7 1223.9,1678 1224.6,1680.4 1225.3,1682.8 1226,1685.3 1226.7,1687.9 1227.3,1690.5 1228,1693.2 1228.7,1696 1229.4,1698.9 1230.1,1701.8 1230.7,1704.8 1231.4,1707.8 1232.1,1711 1232.8,1714.2 1233.4,1717.4 1234.1,1720.7 1234.8,1724.1 1235.5,1720.7 1236.2,1717.2 1236.8,1713.6 1237.5,1710 1238.2,1706.4 1238.9,1702.7 1239.5,1698.9 1240.2,1695.1 1240.9,1691.3 1241.6,1687.4 1242.3,1683.4 1242.9,1679.4 1243.6,1675.4 1244.3,1671.4 1245,1667.3 1245.7,1663.2 1246.3,1659 1247,1654.8 1247.7,1650.6 1248.4,1646.4 1249,1642.1 1249.7,1637.8 1250.4,1633.5 1251.1,1629.2 1251.8,1624.9 1252.4,1620.5 1253.1,1616.2 1253.8,1611.8 1254.5,1607.4 1255.1,1603 1255.8,1598.7 1256.5,1594.3 1257.2,1589.9 1257.9,1585.5 1258.5,1581.2 1259.2,1576.8 1259.9,1572.5 1260.6,1568.1 1261.2,1563.8 1261.9,1559.5 1262.6,1555.2 1263.3,1551 1264,1546.7 1264.6,1542.5 1265.3,1538.3 1266,1534.2 1266.7,1530.1 1267.4,1526 1268,1521.9 1268.7,1517.9 1269.4,1514 1270.1,1510 1270.7,1506.2 1271.4,1502.3 1272.1,1498.6 1272.8,1494.8 1273.5,1491.1 1274.1,1487.5 1274.8,1484 1275.5,1480.5 1276.2,1477 1276.8,1473.6 1277.5,1470.3 1278.2,1467.1 1278.9,1463.9 1279.6,1460.8 1280.2,1457.7 1280.9,1454.7 1281.6,1451.9 1282.3,1449 1283,1446.3 1283.6,1443.6 1284.3,1441 1285,1438.5 1285.7,1436.1 1286.3,1433.8 1287,1431.5 1287.7,1429.4 1288.4,1427.3 1289.1,1425.3 1289.7,1423.4 1290.4,1421.6 1291.1,1419.9 1291.8,1418.3 1292.4,1416.8 1293.1,1415.3 1293.8,1414 1294.5,1412.7 1295.2,1411.6 1295.8,1410.6 1296.5,1409.6 1297.2,1408.8 1297.9,1408 1298.6,1407.4 1299.2,1406.8 1299.9,1406.4 1300.6,1406 1301.3,1405.7 1301.9,1405.6 1302.6,1405.5 1303.3,1405.6 1304,1405.7 1304.7,1406 1305.3,1406.4 1306,1406.8 1306.7,1407.4 1307.4,1408 1308,1408.8 1308.7,1409.6 1309.4,1410.6 1310.1,1411.6 1310.8,1412.7 1311.4,1414 1312.1,1415.3 1312.8,1416.8 1313.5,1418.3 1314.1,1419.9 1314.8,1421.6 1315.5,1423.4 1316.2,1425.3 1316.9,1427.3 1317.5,1429.4 1318.2,1431.5 1318.9,1433.8 1319.6,1436.1 1320.3,1438.5 1320.9,1441 1321.6,1443.6 1322.3,1446.3 1323,1449 1323.6,1451.9 1324.3,1454.7 1325,1457.7 1325.7,1460.8 1326.4,1463.9 1327,1467.1 1327.7,1470.3 1328.4,1473.6 1329.1,1477 1329.7,1480.5 1330.4,1484 1331.1,1487.5 1331.8,1491.1 1332.5,1494.8 1333.1,1498.6 1333.8,1502.3 1334.5,1506.2 1335.2,1510 1335.9,1514 1336.5,1517.9 1337.2,1521.9 1337.9,1526 1338.6,1530.1 1339.2,1534.2 1339.9,1538.3 1340.6,1542.5 1341.3,1546.7 1342,1551 1342.6,1555.2 1343.3,1559.5 1344,1563.8 1344.7,1568.1 1345.3,1572.5 1346,1576.8 1346.7,1581.2 1347.4,1585.5 1348.1,1589.9 1348.7,1594.3 1349.4,1598.7 1350.1,1603 1350.8,1607.4 1351.5,1611.8 1352.1,1616.2 1352.8,1620.5 1353.5,1624.9 1354.2,1629.2 1354.8,1633.5 1355.5,1637.8 1356.2,1642.1 1356.9,1646.4 1357.6,1650.6 1358.2,1654.8 1358.9,1659 1359.6,1663.2 1360.3,1667.3 1360.9,1671.4 1361.6,1675.4 1362.3,1679.4 1363,1683.4 1363.7,1687.4 1364.3,1691.3 1365,1695.1 1365.7,1698.9 1366.4,1702.7 1367,1706.4 1367.7,1710 1368.4,1713.6 1369.1,1717.2 1369.8,1720.7 1370.4,1724.1 1371.1,1720.7 1371.8,1717.4 1372.5,1714.2 1373.2,1711 1373.8,1707.8 1374.5,1704.8 1375.2,1701.8 1375.9,1698.9 1376.5,1696 1377.2,1693.2 1377.9,1690.5 1378.6,1687.9 1379.3,1685.3 1379.9,1682.8 1380.6,1680.4 1381.3,1678 1382,1675.7 1382.6,1673.6 1383.3,1671.4 1384,1669.4 1384.7,1667.4 1385.4,1665.6 1386,1663.8 1386.7,1662 1387.4,1660.4 1388.1,1658.8 1388.8,1657.3 1389.4,1655.9 1390.1,1654.6 1390.8,1653.4 1391.5,1652.2 1392.1,1651.2 1392.8,1650.2 1393.5,1649.3 1394.2,1648.4 1394.9,1647.7 1395.5,1647 1396.2,1646.4 1396.9,1645.9 1397.6,1645.5 1398.2,1645.1 1398.9,1644.8 1399.6,1644.6 1400.3,1644.5 1401,1644.5 1401.6,1644.5 1402.3,1644.6 1403,1644.8 1403.7,1645 1404.4,1645.3 1405,1645.7 1405.7,1646.2 1406.4,1646.7 1407.1,1647.3 1407.7,1648 1408.4,1648.8 1409.1,1649.6 1409.8,1650.4 1410.5,1651.3 1411.1,1652.3 1411.8,1653.4 1412.5,1654.5 1413.2,1655.7 1413.8,1656.9 1414.5,1658.1 1415.2,1659.5 1415.9,1660.9 1416.6,1662.3 1417.2,1663.8 1417.9,1665.3 1418.6,1666.8 1419.3,1668.5 1419.9,1670.1 1420.6,1671.8 1421.3,1673.5 1422,1675.3 1422.7,1677.1 1423.3,1678.9 1424,1680.8 1424.7,1682.7 1425.4,1684.6 1426.1,1686.6 1426.7,1688.6 1427.4,1690.6 1428.1,1692.6 1428.8,1694.6 1429.4,1696.7 1430.1,1698.7 1430.8,1700.8 1431.5,1702.9 1432.2,1705 1432.8,1707.1 1433.5,1709.3 1434.2,1711.4 1434.9,1713.5 1435.5,1715.6 1436.2,1717.8 1436.9,1719.9 1437.6,1722 1438.3,1724.1 1438.9,1722 1439.6,1719.9 1440.3,1717.8 1441,1715.8 1441.7,1713.7 1442.3,1711.7 1443,1709.7 1443.7,1707.7 1444.4,1705.7 1445,1703.8 1445.7,1701.9 1446.4,1700 1447.1,1698.1 1447.8,1696.3 1448.4,1694.5 1449.1,1692.7 1449.8,1691 1450.5,1689.3 1451.1,1687.6 1451.8,1686 1452.5,1684.4 1453.2,1682.9 1453.9,1681.4 1454.5,1679.9 1455.2,1678.5 1455.9,1677.1 1456.6,1675.8 1457.2,1674.5 1457.9,1673.3 1458.6,1672.1 1459.3,1671 1460,1670 1460.6,1668.9 1461.3,1668 1462,1667.1 1462.7,1666.2 1463.4,1665.4 1464,1664.7 1464.7,1664 1465.4,1663.4 1466.1,1662.8 1466.7,1662.3 1467.4,1661.9 1468.1,1661.5 1468.8,1661.1 1469.5,1660.9 1470.1,1660.7 1470.8,1660.5 1471.5,1660.4 1472.2,1660.4 1472.8,1660.4 1473.5,1660.5 1474.2,1660.7 1474.9,1660.9 1475.6,1661.1 1476.2,1661.5 1476.9,1661.9 1477.6,1662.3 1478.3,1662.8 1479,1663.4 1479.6,1664 1480.3,1664.7 1481,1665.4 1481.7,1666.2 1482.3,1667.1 1483,1668 1483.7,1668.9 1484.4,1670 1485.1,1671 1485.7,1672.1 1486.4,1673.3 1487.1,1674.5 1487.8,1675.8 1488.4,1677.1 1489.1,1678.5 1489.8,1679.9 1490.5,1681.4 1491.2,1682.9 1491.8,1684.4 1492.5,1686 1493.2,1687.6 1493.9,1689.3 1494.6,1691 1495.2,1692.7 1495.9,1694.5 1496.6,1696.3 1497.3,1698.1 1497.9,1700 1498.6,1701.9 1499.3,1703.8 1500,1705.7 1500.7,1707.7 1501.3,1709.7 1502,1711.7 1502.7,1713.7 1503.4,1715.8 1504,1717.8 1504.7,1719.9 1505.4,1722 1506.1,1724.1 1506.8,1722 1507.4,1719.9 1508.1,1717.8 1508.8,1715.6 1509.5,1713.5 1510.1,1711.4 1510.8,1709.3 1511.5,1707.1 1512.2,1705 1512.9,1702.9 1513.5,1700.8 1514.2,1698.7 1514.9,1696.7 1515.6,1694.6 1516.3,1692.6 1516.9,1690.6 1517.6,1688.6 1518.3,1686.6 1519,1684.6 1519.6,1682.7 1520.3,1680.8 1521,1678.9 1521.7,1677.1 1522.4,1675.3 1523,1673.5 1523.7,1671.8 1524.4,1670.1 1525.1,1668.5 1525.7,1666.8 1526.4,1665.3 1527.1,1663.8 1527.8,1662.3 1528.5,1660.9 1529.1,1659.5 1529.8,1658.1 1530.5,1656.9 1531.2,1655.7 1531.9,1654.5 1532.5,1653.4 1533.2,1652.3 1533.9,1651.3 1534.6,1650.4 1535.2,1649.6 1535.9,1648.8 1536.6,1648 1537.3,1647.3 1538,1646.7 1538.6,1646.2 1539.3,1645.7 1540,1645.3 1540.7,1645 1541.3,1644.8 1542,1644.6 1542.7,1644.5 1543.4,1644.5 1544.1,1644.5 1544.7,1644.6 1545.4,1644.8 1546.1,1645.1 1546.8,1645.5 1547.5,1645.9 1548.1,1646.4 1548.8,1647 1549.5,1647.7 1550.2,1648.4 1550.8,1649.3 1551.5,1650.2 1552.2,1651.2 1552.9,1652.2 1553.6,1653.4 1554.2,1654.6 1554.9,1655.9 1555.6,1657.3 1556.3,1658.8 1556.9,1660.4 1557.6,1662 1558.3,1663.8 1559,1665.6 1559.7,1667.4 1560.3,1669.4 1561,1671.4 1561.7,1673.6 1562.4,1675.7 1563,1678 1563.7,1680.4 1564.4,1682.8 1565.1,1685.3 1565.8,1687.9 1566.4,1690.5 1567.1,1693.2 1567.8,1696 1568.5,1698.9 1569.2,1701.8 1569.8,1704.8 1570.5,1707.8 1571.2,1711 1571.9,1714.2 1572.5,1717.4 1573.2,1720.7 1573.9,1724.1 1574.6,1720.7 1575.3,1717.2 1575.9,1713.6 1576.6,1710 1577.3,1706.4 1578,1702.7 1578.6,1698.9 1579.3,1695.1 1580,1691.3 1580.7,1687.4 1581.4,1683.4 1582,1679.4 1582.7,1675.4 1583.4,1671.4 1584.1,1667.3 1584.8,1663.2 1585.4,1659 1586.1,1654.8 1586.8,1650.6 1587.5,1646.4 1588.1,1642.1 1588.8,1637.8 1589.5,1633.5 1590.2,1629.2 1590.9,1624.9 1591.5,1620.5 1592.2,1616.2 1592.9,1611.8 1593.6,1607.4 1594.2,1603 1594.9,1598.7 1595.6,1594.3 1596.3,1589.9 1597,1585.5 1597.6,1581.2 1598.3,1576.8 1599,1572.5 1599.7,1568.1 1600.3,1563.8 1601,1559.5 1601.7,1555.2 1602.4,1551 1603.1,1546.7 1603.7,1542.5 1604.4,1538.3 1605.1,1534.2 1605.8,1530.1 1606.5,1526 1607.1,1521.9 1607.8,1517.9 1608.5,1514 1609.2,1510 1609.8,1506.2 1610.5,1502.3 1611.2,1498.6 1611.9,1494.8 1612.6,1491.1 1613.2,1487.5 1613.9,1484 1614.6,1480.5 1615.3,1477 1615.9,1473.6 1616.6,1470.3 1617.3,1467.1 1618,1463.9 1618.7,1460.8 1619.3,1457.7 1620,1454.7 1620.7,1451.9 1621.4,1449 1622.1,1446.3 1622.7,1443.6 1623.4,1441 1624.1,1438.5 1624.8,1436.1 1625.4,1433.8 1626.1,1431.5 1626.8,1429.4 1627.5,1427.3 1628.2,1425.3 1628.8,1423.4 1629.5,1421.6 1630.2,1419.9 1630.9,1418.3 1631.5,1416.8 1632.2,1415.3 1632.9,1414 1633.6,1412.7 1634.3,1411.6 1634.9,1410.6 1635.6,1409.6 1636.3,1408.8 1637,1408 1637.7,1407.4 1638.3,1406.8 1639,1406.4 1639.7,1406 1640.4,1405.7 1641,1405.6 1641.7,1405.5 1642.4,1405.6 1643.1,1405.7 1643.8,1406 1644.4,1406.4 1645.1,1406.8 1645.8,1407.4 1646.5,1408 1647.1,1408.8 1647.8,1409.6 1648.5,1410.6 1649.2,1411.6 1649.9,1412.7 1650.5,1414 1651.2,1415.3 1651.9,1416.8 1652.6,1418.3 1653.2,1419.9 1653.9,1421.6 1654.6,1423.4 1655.3,1425.3 1656,1427.3 1656.6,1429.4 1657.3,1431.5 1658,1433.8 1658.7,1436.1 1659.4,1438.5 1660,1441 1660.7,1443.6 1661.4,1446.3 1662.1,1449 1662.7,1451.9 1663.4,1454.7 1664.1,1457.7 1664.8,1460.8 1665.5,1463.9 1666.1,1467.1 1666.8,1470.3 1667.5,1473.6 1668.2,1477 1668.8,1480.5 1669.5,1484 1670.2,1487.5 1670.9,1491.1 1671.6,1494.8 1672.2,1498.6 1672.9,1502.3 1673.6,1506.2 1674.3,1510 1675,1514 1675.6,1517.9 1676.3,1521.9 1677,1526 1677.7,1530.1 1678.3,1534.2 1679,1538.3 1679.7,1542.5 1680.4,1546.7 1681.1,1551 1681.7,1555.2 1682.4,1559.5 1683.1,1563.8 1683.8,1568.1 1684.4,1572.5 1685.1,1576.8 1685.8,1581.2 1686.5,1585.5 1687.2,1589.9 1687.8,1594.3 1688.5,1598.7 1689.2,1603 1689.9,1607.4 1690.6,1611.8 1691.2,1616.2 1691.9,1620.5 1692.6,1624.9 1693.3,1629.2 1693.9,1633.5 1694.6,1637.8 1695.3,1642.1 1696,1646.4 1696.7,1650.6 1697.3,1654.8 1698,1659 1698.7,1663.2 1699.4,1667.3 1700,1671.4 1700.7,1675.4 1701.4,1679.4 1702.1,1683.4 1702.8,1687.4 1703.4,1691.3 1704.1,1695.1 1704.8,1698.9 1705.5,1702.7 1706.1,1706.4 1706.8,1710 1707.5,1713.6 1708.2,1717.2 1708.9,1720.7 1709.5,1724.1 1710.2,1720.7 1710.9,1717.4 1711.6,1714.2 1712.3,1711 1712.9,1707.8 1713.6,1704.8 1714.3,1701.8 1715,1698.9 1715.6,1696 1716.3,1693.2 1717,1690.5 1717.7,1687.9 1718.4,1685.3 1719,1682.8 1719.7,1680.4 1720.4,1678 1721.1,1675.7 1721.7,1673.6 1722.4,1671.4 1723.1,1669.4 1723.8,1667.4 1724.5,1665.6 1725.1,1663.8 1725.8,1662 1726.5,1660.4 1727.2,1658.8 1727.9,1657.3 1728.5,1655.9 1729.2,1654.6 1729.9,1653.4 1730.6,1652.2 1731.2,1651.2 1731.9,1650.2 1732.6,1649.3 1733.3,1648.4 1734,1647.7 1734.6,1647 1735.3,1646.4 1736,1645.9 1736.7,1645.5 1737.3,1645.1 1738,1644.8 1738.7,1644.6 1739.4,1644.5 1740.1,1644.5 1740.7,1644.5 1741.4,1644.6 1742.1,1644.8 1742.8,1645 1743.5,1645.3 1744.1,1645.7 1744.8,1646.2 1745.5,1646.7 1746.2,1647.3 1746.8,1648 1747.5,1648.8 1748.2,1649.6 1748.9,1650.4 1749.6,1651.3 1750.2,1652.3 1750.9,1653.4 1751.6,1654.5 1752.3,1655.7 1752.9,1656.9 1753.6,1658.1 1754.3,1659.5 1755,1660.9 1755.7,1662.3 1756.3,1663.8 1757,1665.3 1757.7,1666.8 1758.4,1668.5 1759,1670.1 1759.7,1671.8 1760.4,1673.5 1761.1,1675.3 1761.8,1677.1 1762.4,1678.9 1763.1,1680.8 1763.8,1682.7 1764.5,1684.6 1765.2,1686.6 1765.8,1688.6 1766.5,1690.6 1767.2,1692.6 1767.9,1694.6 1768.5,1696.7 1769.2,1698.7 1769.9,1700.8 1770.6,1702.9 1771.3,1705 1771.9,1707.1 1772.6,1709.3 1773.3,1711.4 1774,1713.5 1774.6,1715.6 1775.3,1717.8 1776,1719.9 1776.7,1722 1777.4,1724.1 1778,1722 1778.7,1719.9 1779.4,1717.8 1780.1,1715.8 1780.8,1713.7 1781.4,1711.7 1782.1,1709.7 1782.8,1707.7 1783.5,1705.7 1784.1,1703.8 1784.8,1701.9 1785.5,1700 1786.2,1698.1 1786.9,1696.3 1787.5,1694.5 1788.2,1692.7 1788.9,1691 1789.6,1689.3 1790.2,1687.6 1790.9,1686 1791.6,1684.4 1792.3,1682.9 1793,1681.4 1793.6,1679.9 1794.3,1678.5 1795,1677.1 1795.7,1675.8 1796.3,1674.5 1797,1673.3 1797.7,1672.1 1798.4,1671 1799.1,1670 1799.7,1668.9 1800.4,1668 1801.1,1667.1 1801.8,1666.2 1802.5,1665.4 1803.1,1664.7 1803.8,1664 1804.5,1663.4 1805.2,1662.8 1805.8,1662.3 1806.5,1661.9 1807.2,1661.5 1807.9,1661.1 1808.6,1660.9 1809.2,1660.7 1809.9,1660.5 1810.6,1660.4 1811.3,1660.4 1811.9,1660.4 1812.6,1660.5 1813.3,1660.7 1814,1660.9 1814.7,1661.1 1815.3,1661.5 1816,1661.9 1816.7,1662.3 1817.4,1662.8 1818.1,1663.4 1818.7,1664 1819.4,1664.7 1820.1,1665.4 1820.8,1666.2 1821.4,1667.1 1822.1,1668 1822.8,1668.9 1823.5,1670 1824.2,1671 1824.8,1672.1 1825.5,1673.3 1826.2,1674.5 1826.9,1675.8 1827.5,1677.1 1828.2,1678.5 1828.9,1679.9 1829.6,1681.4 1830.3,1682.9 1830.9,1684.4 1831.6,1686 1832.3,1687.6 1833,1689.3 1833.7,1691 1834.3,1692.7 1835,1694.5 1835.7,1696.3 1836.4,1698.1 1837,1700 1837.7,1701.9 1838.4,1703.8 1839.1,1705.7 1839.8,1707.7 1840.4,1709.7 1841.1,1711.7 1841.8,1713.7 1842.5,1715.8 1843.1,1717.8 1843.8,1719.9 1844.5,1722 1845.2,1724.1 1845.9,1722 1846.5,1719.9 1847.2,1717.8 1847.9,1715.6 1848.6,1713.5 1849.2,1711.4 1849.9,1709.3 1850.6,1707.1 1851.3,1705 1852,1702.9 1852.6,1700.8 1853.3,1698.7 1854,1696.7 1854.7,1694.6 1855.4,1692.6 1856,1690.6 1856.7,1688.6 1857.4,1686.6 1858.1,1684.6 1858.7,1682.7 1859.4,1680.8 1860.1,1678.9 1860.8,1677.1 1861.5,1675.3 1862.1,1673.5 1862.8,1671.8 1863.5,1670.1 1864.2,1668.5 1864.8,1666.8 1865.5,1665.3 1866.2,1663.8 1866.9,1662.3 1867.6,1660.9 1868.2,1659.5 1868.9,1658.1 1869.6,1656.9 1870.3,1655.7 1871,1654.5 1871.6,1653.4 1872.3,1652.3 1873,1651.3 1873.7,1650.4 1874.3,1649.6 1875,1648.8 1875.7,1648 1876.4,1647.3 1877.1,1646.7 1877.7,1646.2 1878.4,1645.7 1879.1,1645.3 1879.8,1645 1880.4,1644.8 1881.1,1644.6 1881.8,1644.5 1882.5,1644.5 1883.2,1644.5 1883.8,1644.6 1884.5,1644.8 1885.2,1645.1 1885.9,1645.5 1886.6,1645.9 1887.2,1646.4 1887.9,1647 1888.6,1647.7 1889.3,1648.4 1889.9,1649.3 1890.6,1650.2 1891.3,1651.2 1892,1652.2 1892.7,1653.4 1893.3,1654.6 1894,1655.9 1894.7,1657.3 1895.4,1658.8 1896,1660.4 1896.7,1662 1897.4,1663.8 1898.1,1665.6 1898.8,1667.4 1899.4,1669.4 1900.1,1671.4 1900.8,1673.6 1901.5,1675.7 1902.1,1678 1902.8,1680.4 1903.5,1682.8 1904.2,1685.3 1904.9,1687.9 1905.5,1690.5 1906.2,1693.2 1906.9,1696 1907.6,1698.9 1908.3,1701.8 1908.9,1704.8 1909.6,1707.8 1910.3,1711 1911,1714.2 1911.6,1717.4 1912.3,1720.7 1913,1724.1 1913.7,1720.7 1914.4,1717.2 1915,1713.6 1915.7,1710 1916.4,1706.4 1917.1,1702.7 1917.7,1698.9 1918.4,1695.1 1919.1,1691.3 1919.8,1687.4 1920.5,1683.4 1921.1,1679.4 1921.8,1675.4 1922.5,1671.4 1923.2,1667.3 1923.9,1663.2 1924.5,1659 1925.2,1654.8 1925.9,1650.6 1926.6,1646.4 1927.2,1642.1 1927.9,1637.8 1928.6,1633.5 1929.3,1629.2 1930,1624.9 1930.6,1620.5 1931.3,1616.2 1932,1611.8 1932.7,1607.4 1933.3,1603 1934,1598.7 1934.7,1594.3 1935.4,1589.9 1936.1,1585.5 1936.7,1581.2 1937.4,1576.8 1938.1,1572.5 1938.8,1568.1 1939.4,1563.8 1940.1,1559.5 1940.8,1555.2 1941.5,1551 1942.2,1546.7 1942.8,1542.5 1943.5,1538.3 1944.2,1534.2 1944.9,1530.1 1945.6,1526 1946.2,1521.9 1946.9,1517.9 1947.6,1514 1948.3,1510 1948.9,1506.2 1949.6,1502.3 1950.3,1498.6 1951,1494.8 1951.7,1491.1 1952.3,1487.5 1953,1484 1953.7,1480.5 1954.4,1477 1955,1473.6 1955.7,1470.3 1956.4,1467.1 1957.1,1463.9 1957.8,1460.8 1958.4,1457.7 1959.1,1454.7 1959.8,1451.9 1960.5,1449 1961.2,1446.3 1961.8,1443.6 1962.5,1441 1963.2,1438.5 1963.9,1436.1 1964.5,1433.8 1965.2,1431.5 1965.9,1429.4 1966.6,1427.3 1967.3,1425.3 1967.9,1423.4 1968.6,1421.6 1969.3,1419.9 1970,1418.3 1970.6,1416.8 1971.3,1415.3 1972,1414 1972.7,1412.7 1973.4,1411.6 1974,1410.6 1974.7,1409.6 1975.4,1408.8 1976.1,1408 1976.8,1407.4 1977.4,1406.8 1978.1,1406.4 1978.8,1406 1979.5,1405.7 1980.1,1405.6 1980.8,1405.5 1981.5,1405.6 1982.2,1405.7 1982.9,1406 1983.5,1406.4 1984.2,1406.8 1984.9,1407.4 1985.6,1408 1986.2,1408.8 1986.9,1409.6 1987.6,1410.6 1988.3,1411.6 1989,1412.7 1989.6,1414 1990.3,1415.3 1991,1416.8 1991.7,1418.3 1992.3,1419.9 1993,1421.6 1993.7,1423.4 1994.4,1425.3 1995.1,1427.3 1995.7,1429.4 1996.4,1431.5 1997.1,1433.8 1997.8,1436.1 1998.5,1438.5 1999.1,1441 1999.8,1443.6 2000.5,1446.3 2001.2,1449 2001.8,1451.9 2002.5,1454.7 2003.2,1457.7 2003.9,1460.8 2004.6,1463.9 2005.2,1467.1 2005.9,1470.3 2006.6,1473.6 2007.3,1477 2007.9,1480.5 2008.6,1484 2009.3,1487.5 2010,1491.1 2010.7,1494.8 2011.3,1498.6 2012,1502.3 2012.7,1506.2 2013.4,1510 2014.1,1514 2014.7,1517.9 2015.4,1521.9 2016.1,1526 2016.8,1530.1 2017.4,1534.2 2018.1,1538.3 2018.8,1542.5 2019.5,1546.7 2020.2,1551 2020.8,1555.2 2021.5,1559.5 2022.2,1563.8 2022.9,1568.1 2023.5,1572.5 2024.2,1576.8 2024.9,1581.2 2025.6,1585.5 2026.3,1589.9 2026.9,1594.3 2027.6,1598.7 2028.3,1603 2029,1607.4 2029.7,1611.8 2030.3,1616.2 2031,1620.5 2031.7,1624.9 2032.4,1629.2 2033,1633.5 2033.7,1637.8 2034.4,1642.1 2035.1,1646.4 2035.8,1650.6 2036.4,1654.8 2037.1,1659 2037.8,1663.2 2038.5,1667.3 2039.1,1671.4 2039.8,1675.4 2040.5,1679.4 2041.2,1683.4 2041.9,1687.4 2042.5,1691.3 2043.2,1695.1 2043.9,1698.9 2044.6,1702.7 2045.2,1706.4 2045.9,1710 2046.6,1713.6 2047.3,1717.2 2048,1720.7 2048.6,1724.1 2049.3,1720.7 2050,1717.4 2050.7,1714.2 2051.4,1711 2052,1707.8 2052.7,1704.8 2053.4,1701.8 2054.1,1698.9 2054.7,1696 2055.4,1693.2 2056.1,1690.5 2056.8,1687.9 2057.5,1685.3 2058.1,1682.8 2058.8,1680.4 2059.5,1678 2060.2,1675.7 2060.8,1673.6 2061.5,1671.4 2062.2,1669.4 2062.9,1667.4 2063.6,1665.6 2064.2,1663.8 2064.9,1662 2065.6,1660.4 2066.3,1658.8 2067,1657.3 2067.6,1655.9 2068.3,1654.6 2069,1653.4 2069.7,1652.2 2070.3,1651.2 2071,1650.2 2071.7,1649.3 2072.4,1648.4 2073.1,1647.7 2073.7,1647 2074.4,1646.4 2075.1,1645.9 2075.8,1645.5 2076.4,1645.1 2077.1,1644.8 2077.8,1644.6 2078.5,1644.5 2079.2,1644.5 2079.8,1644.5 2080.5,1644.6 2081.2,1644.8 2081.9,1645 2082.6,1645.3 2083.2,1645.7 2083.9,1646.2 2084.6,1646.7 2085.3,1647.3 2085.9,1648 2086.6,1648.8 2087.3,1649.6 2088,1650.4 2088.7,1651.3 2089.3,1652.3 2090,1653.4 2090.7,1654.5 2091.4,1655.7 2092,1656.9 2092.7,1658.1 2093.4,1659.5 2094.1,1660.9 2094.8,1662.3 2095.4,1663.8 2096.1,1665.3 2096.8,1666.8 2097.5,1668.5 2098.1,1670.1 2098.8,1671.8 2099.5,1673.5 2100.2,1675.3 2100.9,1677.1 2101.5,1678.9 2102.2,1680.8 2102.9,1682.7 2103.6,1684.6 2104.3,1686.6 2104.9,1688.6 2105.6,1690.6 2106.3,1692.6 2107,1694.6 2107.6,1696.7 2108.3,1698.7 2109,1700.8 2109.7,1702.9 2110.4,1705 2111,1707.1 2111.7,1709.3 2112.4,1711.4 2113.1,1713.5 2113.7,1715.6 2114.4,1717.8 2115.1,1719.9 2115.8,1722 2116.5,1724.1" fill="none" stroke="#ff0000" stroke-width="3" stroke-linejoin="round"/>
</g>
<rect x="1032.6" y="1318.3" width="1082.6" height="405.8" fill="none" stroke="#262626" stroke-width="3"/>
<path d="M1100.3,1318.3v11.5M1100.3,1724.1v-11.5M1167.9,1318.3v11.5M1167.9,1724.1v-11.5M1235.6,1318.3v11.5M1235.6,1724.1v-11.5M1303.3,1318.3v11.5M1303.3,1724.1v-11.5M1370.9,1318.3v11.5M1370.9,1724.1v-11.5M1438.6,1318.3v11.5M1438.6,1724.1v-11.5M1506.2,1318.3v11.5M1506.2,1724.1v-11.5M1573.9,1318.3v11.5M1573.9,1724.1v-11.5M1641.6,1318.3v11.5M1641.6,1724.1v-11.5M1709.2,1318.3v11.5M1709.2,1724.1v-11.5M1776.9,1318.3v11.5M1776.9,1724.1v-11.5M1844.5,1318.3v11.5M1844.5,1724.1v-11.5M1912.2,1318.3v11.5M1912.2,1724.1v-11.5M1979.9,1318.3v11.5M1979.9,1724.1v-11.5M2047.5,1318.3v11.5M2047.5,1724.1v-11.5M1032.6,1521.2h11.5M2115.2,1521.2h-11.5" stroke="#262626" stroke-width="3" fill="none"/>
<line x1="1506.2" y1="1724.1" x2="1506.2" y2="1470.3" stroke="#3333ff" stroke-width="4.2"/>
<polygon points="1506.2,1448.6 1493.9,1473.3 1518.5,1473.3" fill="#3333ff"/>
<line x1="1573.9" y1="1724.1" x2="1573.9" y2="1373.5" stroke="#3333ff" stroke-width="4.2"/>
<polygon points="1573.9,1351.6 1561.6,1376.5 1586.2,1376.5" fill="#3333ff"/>
<line x1="1641.6" y1="1724.1" x2="1641.6" y2="1470.3" stroke="#3333ff" stroke-width="4.2"/>
<polygon points="1641.6,1448.6 1629.3,1473.3 1653.9,1473.3" fill="#3333ff"/>
<path d="M1488.2,1530.4L1521,1569M1488.2,1569L1521,1530.4" stroke="#000" stroke-width="4" stroke-linecap="round" fill="none"/>
<path d="M1555.2,1425.3L1589.2,1464.1M1555.2,1464.1L1589.2,1425.3" stroke="#000" stroke-width="4" stroke-linecap="round" fill="none"/>
<text x="1030.1" y="1791.3" class="tl" text-anchor="middle">-8</text>
<text x="1097.8" y="1791.3" class="tl" text-anchor="middle">-7</text>
<text x="1165.4" y="1791.3" class="tl" text-anchor="middle">-6</text>
<text x="1233.1" y="1791.3" class="tl" text-anchor="middle">-5</text>
<text x="1300.8" y="1791.3" class="tl" text-anchor="middle">-4</text>
<text x="1368.4" y="1791.3" class="tl" text-anchor="middle">-3</text>
<text x="1436.1" y="1791.3" class="tl" text-anchor="middle">-2</text>
<text x="1503.7" y="1791.3" class="tl" text-anchor="middle">-1</text>
<text x="1573.9" y="1791.3" class="tl" text-anchor="middle">0</text>
<text x="1641.6" y="1791.3" class="tl" text-anchor="middle">1</text>
<text x="1709.2" y="1791.3" class="tl" text-anchor="middle">2</text>
<text x="1776.9" y="1791.3" class="tl" text-anchor="middle">3</text>
<text x="1844.5" y="1791.3" class="tl" text-anchor="middle">4</text>
<text x="1912.2" y="1791.3" class="tl" text-anchor="middle">5</text>
<text x="1979.9" y="1791.3" class="tl" text-anchor="middle">6</text>
<text x="2047.5" y="1791.3" class="tl" text-anchor="middle">7</text>
<text x="2115.2" y="1791.3" class="tl" text-anchor="middle">8</text>
<text x="1012.5" y="1744.4" class="tl" text-anchor="end">0</text>
<text x="1012.5" y="1541.5" class="tl" text-anchor="end">2</text>
<text x="1012.5" y="1338.6" class="tl" text-anchor="end">4</text>
<text id="c1" x="1055.4" y="1410" font-size="58.0" class="t" textLength="257.441" lengthAdjust="spacing">5-step TPS</text>
<text id="g2" x="1677" y="1421.2" font-size="70" class="t" font-style="italic">G</text>
<text id="s2" x="1725" y="1437.5" font-size="40" class="t" font-style="italic">SNR</text>
<text transform="translate(1817.593,1423.519) scale(0.784,0.624)" font-size="100" class="t">=</text>
<text id="n2" x="1872.2" y="1421.2" font-size="70" class="t" textLength="88.3" lengthAdjust="spacing">5.0</text>
<text id="l2" x="858.2" y="1861.5" font-size="69" class="t" textLength="82.094" lengthAdjust="spacing">(c)</text>
<text transform="translate(1538.604,1836.833) scale(0.631,0.581)" font-size="100" class="t" font-style="italic">ω</text>
<text transform="translate(968.923,1620.737) rotate(-90) scale(0.763,0.861)" font-size="100" class="t">|</text>
<text transform="translate(961.8,1605.937) rotate(-90) scale(0.617,0.577)" font-size="100" class="t" font-style="italic">H</text>
<text transform="translate(965.593,1550.169) rotate(-90) scale(0.607,0.738)" font-size="100" class="t">(</text>
<text transform="translate(962.531,1525.385) rotate(-90) scale(0.568,0.583)" font-size="100" class="t" font-style="italic">ω</text>
<text transform="translate(965.593,1483.857) rotate(-90) scale(0.607,0.738)" font-size="100" class="t">)</text>
<text transform="translate(968.923,1466.837) rotate(-90) scale(0.763,0.861)" font-size="100" class="t">|</text>
<line x1="328.8" y1="1922.6" x2="441.5" y2="1922.6" stroke="#3333ff" stroke-width="4" stroke-linecap="round"/>
<text id="lg1" x="481.4" y="1941.3" font-size="59" class="t" textLength="434.191" lengthAdjust="spacing">Continuous Fringe</text>
<line x1="994.7" y1="1923" x2="1098.3" y2="1923" stroke="#ff0000" stroke-width="3" stroke-linecap="round"/>
<circle cx="1098.3" cy="1923" r="9.2" fill="#ff0000"/>
<text id="lg2" x="1135.8" y="1939.5" font-size="59" class="t" textLength="560.256" lengthAdjust="spacing">Phase-Shifted Sampling</text>
</svg>
</body></html>
